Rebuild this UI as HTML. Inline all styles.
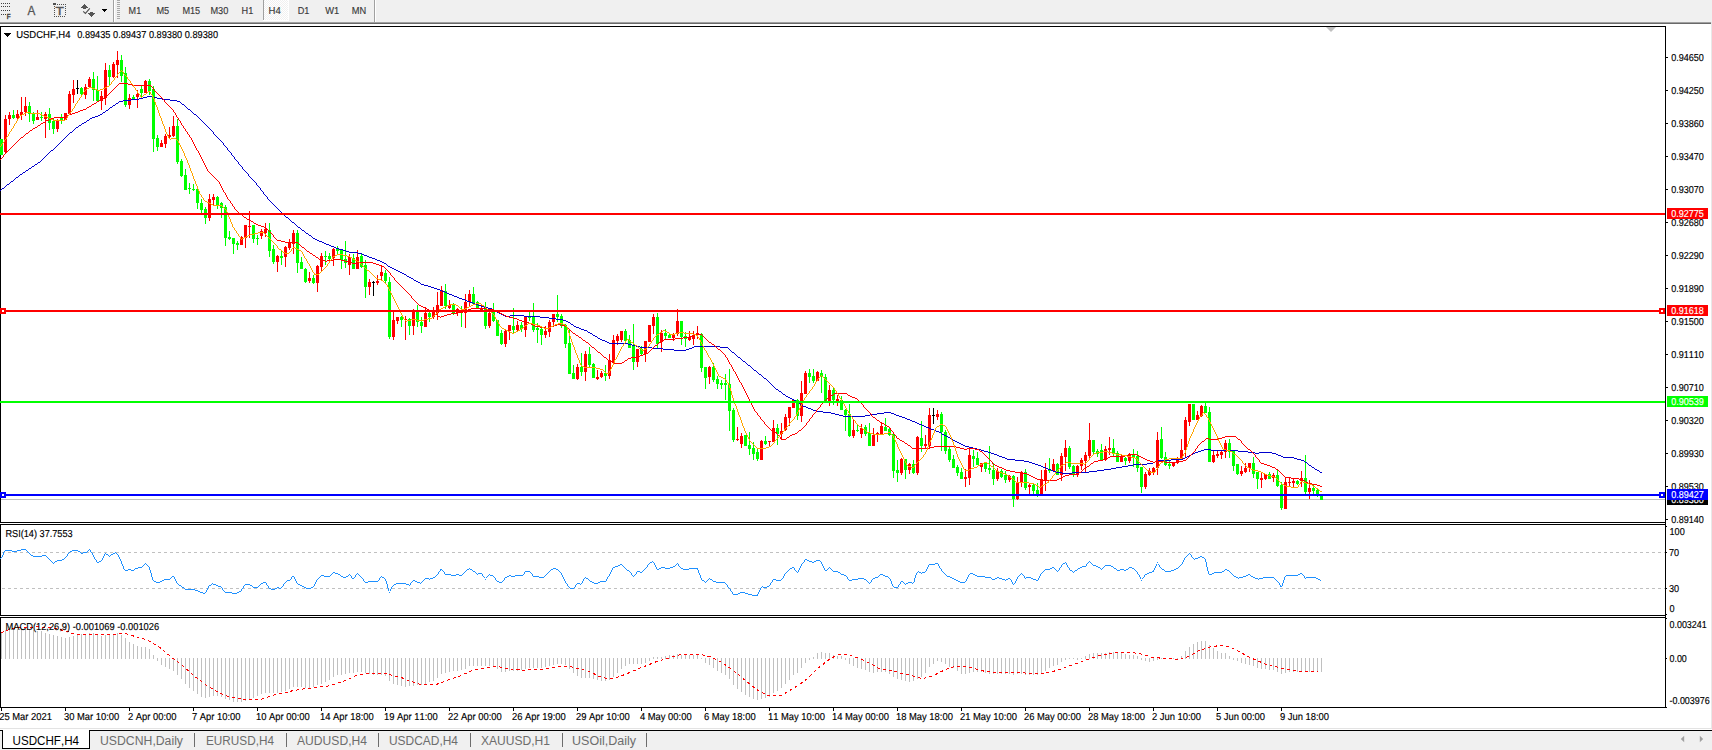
<!DOCTYPE html>
<html><head><meta charset="utf-8"><title>USDCHF,H4</title>
<style>
html,body{margin:0;padding:0;background:#fff;}
body{width:1712px;height:750px;overflow:hidden;}
svg{display:block;font-family:"Liberation Sans",sans-serif;font-kerning:none;}
</style></head><body>
<svg width="1712" height="750" viewBox="0 0 1712 750">
<rect x="0" y="0" width="1712" height="750" fill="#ffffff"/>
<rect x="0" y="0" width="1712" height="22" fill="#f0f0f0"/>
<rect x="0" y="22" width="1712" height="1" fill="#a0a0a0"/>
<rect x="0" y="23" width="1712" height="1" fill="#696969"/>
<rect x="1711" y="22" width="1" height="709" fill="#e8e8e8"/>
<rect x="0" y="26" width="1666" height="1" fill="#000"/>
<rect x="0" y="522" width="1666" height="1" fill="#000"/>
<rect x="0" y="524" width="1666" height="1" fill="#000"/>
<rect x="0" y="615" width="1666" height="1" fill="#000"/>
<rect x="0" y="617" width="1666" height="1" fill="#000"/>
<rect x="0" y="707" width="1667" height="1" fill="#000"/>
<rect x="0" y="26" width="1" height="682" fill="#000"/>
<rect x="0" y="523" width="1" height="1" fill="#fff"/>
<rect x="0" y="616" width="1" height="1" fill="#fff"/>
<rect x="1665" y="26" width="1" height="682" fill="#000"/>
<rect x="1665" y="523" width="1" height="1" fill="#fff"/>
<rect x="1665" y="616" width="1" height="1" fill="#fff"/>
<polygon points="1326,27 1336,27 1331,32" fill="#c0c0c0"/>
<rect x="1" y="499" width="1664" height="1" fill="#c0c0c0"/>
<g fill="#c0c0c0">
<rect x="1" y="633" width="1" height="26"/>
<rect x="5" y="630" width="1" height="29"/>
<rect x="9" y="629" width="1" height="30"/>
<rect x="13" y="629" width="1" height="30"/>
<rect x="17" y="629" width="1" height="30"/>
<rect x="21" y="629" width="1" height="30"/>
<rect x="25" y="629" width="1" height="30"/>
<rect x="29" y="629" width="1" height="30"/>
<rect x="33" y="630" width="1" height="29"/>
<rect x="37" y="631" width="1" height="28"/>
<rect x="41" y="631" width="1" height="28"/>
<rect x="45" y="633" width="1" height="26"/>
<rect x="49" y="634" width="1" height="25"/>
<rect x="53" y="635" width="1" height="24"/>
<rect x="57" y="636" width="1" height="23"/>
<rect x="61" y="637" width="1" height="22"/>
<rect x="65" y="638" width="1" height="21"/>
<rect x="69" y="637" width="1" height="22"/>
<rect x="73" y="636" width="1" height="23"/>
<rect x="77" y="635" width="1" height="24"/>
<rect x="81" y="634" width="1" height="25"/>
<rect x="85" y="634" width="1" height="25"/>
<rect x="89" y="633" width="1" height="26"/>
<rect x="93" y="633" width="1" height="26"/>
<rect x="97" y="635" width="1" height="24"/>
<rect x="101" y="636" width="1" height="23"/>
<rect x="105" y="635" width="1" height="24"/>
<rect x="109" y="634" width="1" height="25"/>
<rect x="113" y="634" width="1" height="25"/>
<rect x="117" y="633" width="1" height="26"/>
<rect x="121" y="635" width="1" height="24"/>
<rect x="125" y="638" width="1" height="21"/>
<rect x="129" y="642" width="1" height="17"/>
<rect x="133" y="644" width="1" height="15"/>
<rect x="137" y="646" width="1" height="13"/>
<rect x="141" y="647" width="1" height="12"/>
<rect x="145" y="647" width="1" height="12"/>
<rect x="149" y="649" width="1" height="10"/>
<rect x="153" y="655" width="1" height="4"/>
<rect x="157" y="658" width="1" height="3"/>
<rect x="161" y="658" width="1" height="7"/>
<rect x="165" y="658" width="1" height="9"/>
<rect x="169" y="658" width="1" height="11"/>
<rect x="173" y="658" width="1" height="13"/>
<rect x="177" y="658" width="1" height="17"/>
<rect x="181" y="658" width="1" height="21"/>
<rect x="185" y="658" width="1" height="26"/>
<rect x="189" y="658" width="1" height="30"/>
<rect x="193" y="658" width="1" height="33"/>
<rect x="197" y="658" width="1" height="36"/>
<rect x="201" y="658" width="1" height="39"/>
<rect x="205" y="658" width="1" height="40"/>
<rect x="209" y="658" width="1" height="39"/>
<rect x="213" y="658" width="1" height="38"/>
<rect x="217" y="658" width="1" height="38"/>
<rect x="221" y="658" width="1" height="39"/>
<rect x="225" y="658" width="1" height="41"/>
<rect x="229" y="658" width="1" height="42"/>
<rect x="233" y="658" width="1" height="44"/>
<rect x="237" y="658" width="1" height="44"/>
<rect x="241" y="658" width="1" height="44"/>
<rect x="245" y="658" width="1" height="43"/>
<rect x="249" y="658" width="1" height="42"/>
<rect x="253" y="658" width="1" height="40"/>
<rect x="257" y="658" width="1" height="38"/>
<rect x="261" y="658" width="1" height="36"/>
<rect x="265" y="658" width="1" height="35"/>
<rect x="269" y="658" width="1" height="35"/>
<rect x="273" y="658" width="1" height="35"/>
<rect x="277" y="658" width="1" height="35"/>
<rect x="281" y="658" width="1" height="34"/>
<rect x="285" y="658" width="1" height="33"/>
<rect x="289" y="658" width="1" height="31"/>
<rect x="293" y="658" width="1" height="29"/>
<rect x="297" y="658" width="1" height="29"/>
<rect x="301" y="658" width="1" height="29"/>
<rect x="305" y="658" width="1" height="30"/>
<rect x="309" y="658" width="1" height="30"/>
<rect x="313" y="658" width="1" height="29"/>
<rect x="317" y="658" width="1" height="27"/>
<rect x="321" y="658" width="1" height="26"/>
<rect x="325" y="658" width="1" height="24"/>
<rect x="329" y="658" width="1" height="22"/>
<rect x="333" y="658" width="1" height="19"/>
<rect x="337" y="658" width="1" height="17"/>
<rect x="341" y="658" width="1" height="17"/>
<rect x="345" y="658" width="1" height="16"/>
<rect x="349" y="658" width="1" height="15"/>
<rect x="353" y="658" width="1" height="15"/>
<rect x="357" y="658" width="1" height="14"/>
<rect x="361" y="658" width="1" height="14"/>
<rect x="365" y="658" width="1" height="15"/>
<rect x="369" y="658" width="1" height="16"/>
<rect x="373" y="658" width="1" height="17"/>
<rect x="377" y="658" width="1" height="17"/>
<rect x="381" y="658" width="1" height="17"/>
<rect x="385" y="658" width="1" height="18"/>
<rect x="389" y="658" width="1" height="23"/>
<rect x="393" y="658" width="1" height="26"/>
<rect x="397" y="658" width="1" height="27"/>
<rect x="401" y="658" width="1" height="28"/>
<rect x="405" y="658" width="1" height="29"/>
<rect x="409" y="658" width="1" height="28"/>
<rect x="413" y="658" width="1" height="28"/>
<rect x="417" y="658" width="1" height="27"/>
<rect x="421" y="658" width="1" height="27"/>
<rect x="425" y="658" width="1" height="26"/>
<rect x="429" y="658" width="1" height="24"/>
<rect x="433" y="658" width="1" height="23"/>
<rect x="437" y="658" width="1" height="20"/>
<rect x="441" y="658" width="1" height="16"/>
<rect x="445" y="658" width="1" height="15"/>
<rect x="449" y="658" width="1" height="14"/>
<rect x="453" y="658" width="1" height="13"/>
<rect x="457" y="658" width="1" height="13"/>
<rect x="461" y="658" width="1" height="12"/>
<rect x="465" y="658" width="1" height="11"/>
<rect x="469" y="658" width="1" height="8"/>
<rect x="473" y="658" width="1" height="8"/>
<rect x="477" y="658" width="1" height="8"/>
<rect x="481" y="658" width="1" height="8"/>
<rect x="485" y="658" width="1" height="8"/>
<rect x="489" y="658" width="1" height="8"/>
<rect x="493" y="658" width="1" height="8"/>
<rect x="497" y="658" width="1" height="11"/>
<rect x="501" y="658" width="1" height="14"/>
<rect x="505" y="658" width="1" height="14"/>
<rect x="509" y="658" width="1" height="13"/>
<rect x="513" y="658" width="1" height="13"/>
<rect x="517" y="658" width="1" height="13"/>
<rect x="521" y="658" width="1" height="12"/>
<rect x="525" y="658" width="1" height="11"/>
<rect x="529" y="658" width="1" height="10"/>
<rect x="533" y="658" width="1" height="10"/>
<rect x="537" y="658" width="1" height="10"/>
<rect x="541" y="658" width="1" height="10"/>
<rect x="545" y="658" width="1" height="9"/>
<rect x="549" y="658" width="1" height="8"/>
<rect x="553" y="658" width="1" height="7"/>
<rect x="557" y="658" width="1" height="6"/>
<rect x="561" y="658" width="1" height="6"/>
<rect x="565" y="658" width="1" height="7"/>
<rect x="569" y="658" width="1" height="11"/>
<rect x="573" y="658" width="1" height="15"/>
<rect x="577" y="658" width="1" height="18"/>
<rect x="581" y="658" width="1" height="20"/>
<rect x="585" y="658" width="1" height="20"/>
<rect x="589" y="658" width="1" height="20"/>
<rect x="593" y="658" width="1" height="21"/>
<rect x="597" y="658" width="1" height="22"/>
<rect x="601" y="658" width="1" height="23"/>
<rect x="605" y="658" width="1" height="23"/>
<rect x="609" y="658" width="1" height="22"/>
<rect x="613" y="658" width="1" height="19"/>
<rect x="617" y="658" width="1" height="15"/>
<rect x="621" y="658" width="1" height="11"/>
<rect x="625" y="658" width="1" height="8"/>
<rect x="629" y="658" width="1" height="6"/>
<rect x="633" y="658" width="1" height="6"/>
<rect x="637" y="658" width="1" height="6"/>
<rect x="641" y="658" width="1" height="6"/>
<rect x="645" y="658" width="1" height="5"/>
<rect x="649" y="658" width="1" height="3"/>
<rect x="653" y="657" width="1" height="2"/>
<rect x="657" y="657" width="1" height="2"/>
<rect x="661" y="657" width="1" height="2"/>
<rect x="665" y="656" width="1" height="3"/>
<rect x="669" y="655" width="1" height="4"/>
<rect x="673" y="655" width="1" height="4"/>
<rect x="677" y="654" width="1" height="5"/>
<rect x="681" y="655" width="1" height="4"/>
<rect x="685" y="655" width="1" height="4"/>
<rect x="689" y="655" width="1" height="4"/>
<rect x="693" y="655" width="1" height="4"/>
<rect x="697" y="655" width="1" height="4"/>
<rect x="701" y="658" width="1" height="1"/>
<rect x="705" y="658" width="1" height="5"/>
<rect x="709" y="658" width="1" height="7"/>
<rect x="713" y="658" width="1" height="10"/>
<rect x="717" y="658" width="1" height="13"/>
<rect x="721" y="658" width="1" height="15"/>
<rect x="725" y="658" width="1" height="17"/>
<rect x="729" y="658" width="1" height="21"/>
<rect x="733" y="658" width="1" height="27"/>
<rect x="737" y="658" width="1" height="31"/>
<rect x="741" y="658" width="1" height="34"/>
<rect x="745" y="658" width="1" height="37"/>
<rect x="749" y="658" width="1" height="39"/>
<rect x="753" y="658" width="1" height="41"/>
<rect x="757" y="658" width="1" height="42"/>
<rect x="761" y="658" width="1" height="41"/>
<rect x="765" y="658" width="1" height="40"/>
<rect x="769" y="658" width="1" height="39"/>
<rect x="773" y="658" width="1" height="35"/>
<rect x="777" y="658" width="1" height="33"/>
<rect x="781" y="658" width="1" height="30"/>
<rect x="785" y="658" width="1" height="26"/>
<rect x="789" y="658" width="1" height="22"/>
<rect x="793" y="658" width="1" height="17"/>
<rect x="797" y="658" width="1" height="15"/>
<rect x="801" y="658" width="1" height="10"/>
<rect x="805" y="658" width="1" height="5"/>
<rect x="809" y="658" width="1" height="2"/>
<rect x="813" y="657" width="1" height="2"/>
<rect x="817" y="653" width="1" height="6"/>
<rect x="821" y="652" width="1" height="7"/>
<rect x="825" y="653" width="1" height="6"/>
<rect x="829" y="653" width="1" height="6"/>
<rect x="833" y="655" width="1" height="4"/>
<rect x="837" y="656" width="1" height="3"/>
<rect x="841" y="656" width="1" height="3"/>
<rect x="845" y="658" width="1" height="2"/>
<rect x="849" y="658" width="1" height="6"/>
<rect x="853" y="658" width="1" height="8"/>
<rect x="857" y="658" width="1" height="10"/>
<rect x="861" y="658" width="1" height="11"/>
<rect x="865" y="658" width="1" height="12"/>
<rect x="869" y="658" width="1" height="14"/>
<rect x="873" y="658" width="1" height="15"/>
<rect x="877" y="658" width="1" height="14"/>
<rect x="881" y="658" width="1" height="14"/>
<rect x="885" y="658" width="1" height="14"/>
<rect x="889" y="658" width="1" height="16"/>
<rect x="893" y="658" width="1" height="19"/>
<rect x="897" y="658" width="1" height="21"/>
<rect x="901" y="658" width="1" height="22"/>
<rect x="905" y="658" width="1" height="23"/>
<rect x="909" y="658" width="1" height="24"/>
<rect x="913" y="658" width="1" height="23"/>
<rect x="917" y="658" width="1" height="21"/>
<rect x="921" y="658" width="1" height="19"/>
<rect x="925" y="658" width="1" height="15"/>
<rect x="929" y="658" width="1" height="9"/>
<rect x="933" y="658" width="1" height="6"/>
<rect x="937" y="658" width="1" height="3"/>
<rect x="941" y="658" width="1" height="4"/>
<rect x="945" y="658" width="1" height="6"/>
<rect x="949" y="658" width="1" height="9"/>
<rect x="953" y="658" width="1" height="10"/>
<rect x="957" y="658" width="1" height="13"/>
<rect x="961" y="658" width="1" height="16"/>
<rect x="965" y="658" width="1" height="16"/>
<rect x="969" y="658" width="1" height="15"/>
<rect x="973" y="658" width="1" height="14"/>
<rect x="977" y="658" width="1" height="14"/>
<rect x="981" y="658" width="1" height="14"/>
<rect x="985" y="658" width="1" height="15"/>
<rect x="989" y="658" width="1" height="16"/>
<rect x="993" y="658" width="1" height="16"/>
<rect x="997" y="658" width="1" height="16"/>
<rect x="1001" y="658" width="1" height="16"/>
<rect x="1005" y="658" width="1" height="16"/>
<rect x="1009" y="658" width="1" height="16"/>
<rect x="1013" y="658" width="1" height="17"/>
<rect x="1017" y="658" width="1" height="16"/>
<rect x="1021" y="658" width="1" height="16"/>
<rect x="1025" y="658" width="1" height="17"/>
<rect x="1029" y="658" width="1" height="17"/>
<rect x="1033" y="658" width="1" height="17"/>
<rect x="1037" y="658" width="1" height="17"/>
<rect x="1041" y="658" width="1" height="16"/>
<rect x="1045" y="658" width="1" height="13"/>
<rect x="1049" y="658" width="1" height="10"/>
<rect x="1053" y="658" width="1" height="8"/>
<rect x="1057" y="658" width="1" height="7"/>
<rect x="1061" y="658" width="1" height="4"/>
<rect x="1065" y="658" width="1" height="2"/>
<rect x="1069" y="658" width="1" height="1"/>
<rect x="1073" y="658" width="1" height="1"/>
<rect x="1077" y="658" width="1" height="2"/>
<rect x="1081" y="658" width="1" height="1"/>
<rect x="1085" y="656" width="1" height="3"/>
<rect x="1089" y="654" width="1" height="5"/>
<rect x="1093" y="653" width="1" height="6"/>
<rect x="1097" y="653" width="1" height="6"/>
<rect x="1101" y="653" width="1" height="6"/>
<rect x="1105" y="653" width="1" height="6"/>
<rect x="1109" y="652" width="1" height="7"/>
<rect x="1113" y="652" width="1" height="7"/>
<rect x="1117" y="652" width="1" height="7"/>
<rect x="1121" y="653" width="1" height="6"/>
<rect x="1125" y="654" width="1" height="5"/>
<rect x="1129" y="655" width="1" height="4"/>
<rect x="1133" y="655" width="1" height="4"/>
<rect x="1137" y="656" width="1" height="3"/>
<rect x="1141" y="658" width="1" height="2"/>
<rect x="1145" y="658" width="1" height="3"/>
<rect x="1149" y="658" width="1" height="4"/>
<rect x="1153" y="658" width="1" height="3"/>
<rect x="1157" y="658" width="1" height="2"/>
<rect x="1161" y="658" width="1" height="1"/>
<rect x="1165" y="658" width="1" height="1"/>
<rect x="1169" y="658" width="1" height="1"/>
<rect x="1173" y="658" width="1" height="1"/>
<rect x="1177" y="658" width="1" height="1"/>
<rect x="1181" y="656" width="1" height="3"/>
<rect x="1185" y="651" width="1" height="8"/>
<rect x="1189" y="647" width="1" height="12"/>
<rect x="1193" y="644" width="1" height="15"/>
<rect x="1197" y="642" width="1" height="17"/>
<rect x="1201" y="641" width="1" height="18"/>
<rect x="1205" y="641" width="1" height="18"/>
<rect x="1209" y="645" width="1" height="14"/>
<rect x="1213" y="648" width="1" height="11"/>
<rect x="1217" y="651" width="1" height="8"/>
<rect x="1221" y="653" width="1" height="6"/>
<rect x="1225" y="653" width="1" height="6"/>
<rect x="1229" y="656" width="1" height="3"/>
<rect x="1233" y="658" width="1" height="2"/>
<rect x="1237" y="658" width="1" height="3"/>
<rect x="1241" y="658" width="1" height="5"/>
<rect x="1245" y="658" width="1" height="6"/>
<rect x="1249" y="658" width="1" height="7"/>
<rect x="1253" y="658" width="1" height="8"/>
<rect x="1257" y="658" width="1" height="10"/>
<rect x="1261" y="658" width="1" height="11"/>
<rect x="1265" y="658" width="1" height="11"/>
<rect x="1269" y="658" width="1" height="12"/>
<rect x="1273" y="658" width="1" height="12"/>
<rect x="1277" y="658" width="1" height="14"/>
<rect x="1281" y="658" width="1" height="16"/>
<rect x="1285" y="658" width="1" height="15"/>
<rect x="1289" y="658" width="1" height="14"/>
<rect x="1293" y="658" width="1" height="14"/>
<rect x="1297" y="658" width="1" height="14"/>
<rect x="1301" y="658" width="1" height="14"/>
<rect x="1305" y="658" width="1" height="14"/>
<rect x="1309" y="658" width="1" height="14"/>
<rect x="1313" y="658" width="1" height="14"/>
<rect x="1317" y="658" width="1" height="14"/>
<rect x="1321" y="658" width="1" height="14"/>
</g>
<polyline points="1.0,632.9 7.9,629.9 19.9,627.3 39.7,626.9 51.6,627.9 67.5,631.3 73.5,633.9 89.4,634.5 109.2,634.5 125.1,633.3 135.0,636.5 147.0,639.8 158.9,646.8 170.8,656.7 182.7,665.7 194.6,676.2 206.5,685.5 218.5,692.5 230.4,697.4 242.3,699.0 262.1,699.0 272.1,695.4 282.0,693.5 291.9,690.9 303.9,688.9 315.8,687.5 327.7,686.1 338.6,682.9 343.0,681.5 355.9,675.6 367.8,673.2 387.7,673.2 393.6,676.2 401.6,677.6 409.5,680.9 419.4,684.1 427.4,685.1 437.3,684.1 447.2,680.2 459.2,676.2 471.1,671.0 483.0,668.2 494.9,666.3 500.9,667.2 510.8,669.0 522.7,670.2 538.6,669.6 548.5,668.2 558.5,666.3 570.4,666.3 574.3,668.2 582.3,669.6 590.2,671.6 598.2,676.2 606.1,678.2 614.1,678.2 622.0,675.6 631.9,671.6 639.9,668.2 649.8,664.3 657.8,661.1 667.7,658.3 678.6,655.3 680.0,654.7 699.9,654.3 709.8,656.7 721.7,662.3 733.6,670.6 745.5,680.6 757.5,690.1 769.4,696.0 781.3,695.4 793.2,688.5 805.1,680.6 817.0,669.0 828.9,659.7 836.9,655.1 844.8,654.3 854.8,656.7 866.7,661.7 878.6,668.2 890.5,670.2 902.4,673.6 914.3,676.2 922.3,678.6 932.2,676.2 944.1,670.2 954.1,666.6 966.0,666.6 975.9,669.0 985.8,671.6 997.8,672.6 1018.6,672.6 1020.0,672.6 1031.9,673.6 1045.8,673.2 1057.7,670.2 1069.6,665.7 1081.6,661.7 1089.5,658.7 1099.4,655.7 1109.4,653.7 1119.3,652.4 1131.2,652.4 1143.1,654.3 1151.1,657.3 1163.0,658.3 1176.9,659.3 1188.8,656.7 1198.7,650.8 1208.7,647.2 1220.6,645.4 1228.5,646.4 1238.5,651.2 1248.4,656.7 1258.3,661.1 1268.2,665.3 1278.2,667.2 1286.1,669.6 1298.0,671.0 1317.9,671.2" fill="none" stroke="#ff0000" stroke-width="1" stroke-dasharray="3,3" shape-rendering="crispEdges"/>
<line x1="2" y1="552.5" x2="1665" y2="552.5" stroke="#c0c0c0" stroke-width="1" stroke-dasharray="3,3" shape-rendering="crispEdges"/>
<line x1="2" y1="588.5" x2="1665" y2="588.5" stroke="#c0c0c0" stroke-width="1" stroke-dasharray="3,3" shape-rendering="crispEdges"/>
<path d="M0 558v1h1v-1zM1 557v1h1v-1zM2 555v2h1v-2zM3 552v3h1v-3zM4 551v1h1v-1zM5 550v1h1v-1zM6 550v1h1v-1zM7 550v1h1v-1zM8 550v1h1v-1zM9 550v1h1v-1zM10 550v1h1v-1zM11 550v1h1v-1zM12 551v1h1v-1zM13 551v1h1v-1zM14 551v1h1v-1zM15 551v1h1v-1zM16 551v1h1v-1zM17 550v1h1v-1zM18 550v1h1v-1zM19 550v1h1v-1zM20 550v1h1v-1zM21 549v1h1v-1zM22 549v1h1v-1zM23 549v1h1v-1zM24 549v1h1v-1zM25 549v1h1v-1zM26 550v1h1v-1zM27 551v1h1v-1zM28 552v1h1v-1zM29 553v1h1v-1zM30 554v1h1v-1zM31 555v1h1v-1zM32 555v1h1v-1zM33 556v1h1v-1zM34 556v1h1v-1zM35 556v1h1v-1zM36 556v1h1v-1zM37 556v1h1v-1zM38 556v1h1v-1zM39 556v1h1v-1zM40 556v1h1v-1zM41 556v1h1v-1zM42 555v1h1v-1zM43 555v1h1v-1zM44 555v1h1v-1zM45 555v1h1v-1zM46 556v1h1v-1zM47 557v1h1v-1zM48 558v1h1v-1zM49 559v1h1v-1zM50 560v1h1v-1zM51 561v1h1v-1zM52 562v1h1v-1zM53 563v1h1v-1zM54 562v1h1v-1zM55 561v1h1v-1zM56 561v1h1v-1zM57 560v1h1v-1zM58 560v1h1v-1zM59 560v1h1v-1zM60 560v1h1v-1zM61 560v1h1v-1zM62 559v1h1v-1zM63 559v1h1v-1zM64 558v1h1v-1zM65 557v1h1v-1zM66 556v1h1v-1zM67 554v2h1v-2zM68 553v1h1v-1zM69 552v1h1v-1zM70 551v1h1v-1zM71 551v1h1v-1zM72 550v1h1v-1zM73 550v1h1v-1zM74 550v1h1v-1zM75 550v1h1v-1zM76 550v1h1v-1zM77 550v1h1v-1zM78 551v1h1v-1zM79 551v1h1v-1zM80 552v1h1v-1zM81 553v1h1v-1zM82 553v1h1v-1zM83 552v1h1v-1zM84 552v1h1v-1zM85 552v1h1v-1zM86 552v1h1v-1zM87 551v1h1v-1zM88 550v1h1v-1zM89 549v1h1v-1zM90 550v2h1v-2zM91 552v1h1v-1zM92 553v2h1v-2zM93 555v2h1v-2zM94 557v2h1v-2zM95 559v1h1v-1zM96 560v2h1v-2zM97 562v1h1v-1zM98 562v1h1v-1zM99 561v1h1v-1zM100 561v1h1v-1zM101 560v1h1v-1zM102 558v2h1v-2zM103 556v2h1v-2zM104 554v2h1v-2zM105 553v1h1v-1zM106 554v1h1v-1zM107 554v1h1v-1zM108 555v1h1v-1zM109 556v1h1v-1zM110 555v1h1v-1zM111 554v1h1v-1zM112 554v1h1v-1zM113 553v1h1v-1zM114 553v1h1v-1zM115 552v1h1v-1zM116 553v1h1v-1zM117 554v1h1v-1zM118 555v2h1v-2zM119 557v2h1v-2zM120 559v2h1v-2zM121 561v3h1v-3zM122 564v2h1v-2zM123 566v3h1v-3zM124 569v1h1v-1zM125 570v1h1v-1zM126 570v1h1v-1zM127 570v1h1v-1zM128 569v1h1v-1zM129 569v1h1v-1zM130 569v1h1v-1zM131 570v1h1v-1zM132 570v1h1v-1zM133 570v1h1v-1zM134 569v1h1v-1zM135 568v1h1v-1zM136 568v1h1v-1zM137 568v1h1v-1zM138 567v1h1v-1zM139 567v1h1v-1zM140 567v1h1v-1zM141 567v1h1v-1zM142 566v1h1v-1zM143 565v1h1v-1zM144 564v1h1v-1zM145 563v1h1v-1zM146 564v1h1v-1zM147 565v1h1v-1zM148 566v1h1v-1zM149 567v3h1v-3zM150 570v3h1v-3zM151 573v4h1v-4zM152 577v3h1v-3zM153 580v1h1v-1zM154 581v1h1v-1zM155 581v1h1v-1zM156 582v1h1v-1zM157 582v1h1v-1zM158 582v1h1v-1zM159 582v1h1v-1zM160 581v1h1v-1zM161 581v1h1v-1zM162 580v1h1v-1zM163 580v1h1v-1zM164 579v1h1v-1zM165 579v1h1v-1zM166 579v1h1v-1zM167 579v1h1v-1zM168 579v1h1v-1zM169 579v1h1v-1zM170 578v1h1v-1zM171 577v1h1v-1zM172 576v1h1v-1zM173 576v1h1v-1zM174 577v2h1v-2zM175 579v2h1v-2zM176 581v2h1v-2zM177 583v1h1v-1zM178 584v1h1v-1zM179 585v1h1v-1zM180 585v1h1v-1zM181 586v1h1v-1zM182 587v1h1v-1zM183 587v1h1v-1zM184 588v1h1v-1zM185 589v1h1v-1zM186 589v1h1v-1zM187 589v1h1v-1zM188 589v1h1v-1zM189 589v1h1v-1zM190 589v1h1v-1zM191 589v1h1v-1zM192 589v1h1v-1zM193 589v1h1v-1zM194 589v1h1v-1zM195 590v1h1v-1zM196 590v1h1v-1zM197 590v1h1v-1zM198 591v1h1v-1zM199 591v1h1v-1zM200 592v1h1v-1zM201 592v1h1v-1zM202 592v1h1v-1zM203 593v1h1v-1zM204 593v1h1v-1zM205 592v1h1v-1zM206 590v2h1v-2zM207 588v2h1v-2zM208 586v2h1v-2zM209 585v1h1v-1zM210 585v1h1v-1zM211 584v1h1v-1zM212 583v1h1v-1zM213 584v1h1v-1zM214 584v1h1v-1zM215 584v1h1v-1zM216 585v1h1v-1zM217 585v1h1v-1zM218 586v1h1v-1zM219 586v1h1v-1zM220 586v1h1v-1zM221 587v1h1v-1zM222 588v2h1v-2zM223 590v1h1v-1zM224 591v1h1v-1zM225 592v1h1v-1zM226 592v1h1v-1zM227 592v1h1v-1zM228 592v1h1v-1zM229 592v1h1v-1zM230 592v1h1v-1zM231 592v1h1v-1zM232 593v1h1v-1zM233 593v1h1v-1zM234 593v1h1v-1zM235 593v1h1v-1zM236 593v1h1v-1zM237 592v1h1v-1zM238 592v1h1v-1zM239 591v1h1v-1zM240 591v1h1v-1zM241 589v2h1v-2zM242 588v1h1v-1zM243 586v2h1v-2zM244 585v1h1v-1zM245 584v1h1v-1zM246 584v1h1v-1zM247 584v1h1v-1zM248 584v1h1v-1zM249 584v1h1v-1zM250 585v1h1v-1zM251 585v1h1v-1zM252 586v1h1v-1zM253 587v1h1v-1zM254 587v1h1v-1zM255 587v1h1v-1zM256 587v1h1v-1zM257 587v1h1v-1zM258 586v1h1v-1zM259 585v1h1v-1zM260 584v1h1v-1zM261 583v1h1v-1zM262 583v1h1v-1zM263 582v1h1v-1zM264 582v1h1v-1zM265 582v1h1v-1zM266 583v2h1v-2zM267 585v1h1v-1zM268 586v2h1v-2zM269 588v1h1v-1zM270 588v1h1v-1zM271 589v1h1v-1zM272 589v1h1v-1zM273 589v1h1v-1zM274 589v1h1v-1zM275 588v1h1v-1zM276 588v1h1v-1zM277 587v1h1v-1zM278 587v1h1v-1zM279 588v1h1v-1zM280 588v1h1v-1zM281 587v1h1v-1zM282 586v1h1v-1zM283 584v2h1v-2zM284 583v1h1v-1zM285 582v1h1v-1zM286 581v1h1v-1zM287 580v1h1v-1zM288 580v1h1v-1zM289 580v1h1v-1zM290 579v1h1v-1zM291 577v2h1v-2zM292 576v1h1v-1zM293 576v1h1v-1zM294 577v2h1v-2zM295 579v2h1v-2zM296 581v2h1v-2zM297 583v1h1v-1zM298 584v1h1v-1zM299 584v1h1v-1zM300 585v1h1v-1zM301 585v1h1v-1zM302 586v1h1v-1zM303 586v1h1v-1zM304 587v1h1v-1zM305 587v1h1v-1zM306 588v1h1v-1zM307 588v1h1v-1zM308 588v1h1v-1zM309 588v1h1v-1zM310 588v1h1v-1zM311 587v1h1v-1zM312 587v1h1v-1zM313 586v1h1v-1zM314 584v2h1v-2zM315 582v2h1v-2zM316 580v2h1v-2zM317 579v1h1v-1zM318 578v1h1v-1zM319 577v1h1v-1zM320 576v1h1v-1zM321 575v1h1v-1zM322 575v1h1v-1zM323 575v1h1v-1zM324 576v1h1v-1zM325 576v1h1v-1zM326 576v1h1v-1zM327 576v1h1v-1zM328 576v1h1v-1zM329 576v1h1v-1zM330 575v1h1v-1zM331 574v1h1v-1zM332 573v1h1v-1zM333 572v1h1v-1zM334 572v1h1v-1zM335 573v1h1v-1zM336 573v1h1v-1zM337 573v1h1v-1zM338 574v1h1v-1zM339 574v1h1v-1zM340 575v1h1v-1zM341 576v1h1v-1zM342 576v1h1v-1zM343 577v1h1v-1zM344 577v1h1v-1zM345 577v1h1v-1zM346 576v1h1v-1zM347 576v1h1v-1zM348 575v1h1v-1zM349 574v1h1v-1zM350 575v1h1v-1zM351 576v2h1v-2zM352 578v1h1v-1zM353 578v1h1v-1zM354 577v1h1v-1zM355 575v2h1v-2zM356 574v1h1v-1zM357 573v1h1v-1zM358 574v1h1v-1zM359 575v1h1v-1zM360 576v1h1v-1zM361 577v1h1v-1zM362 578v1h1v-1zM363 579v2h1v-2zM364 581v1h1v-1zM365 582v1h1v-1zM366 582v1h1v-1zM367 582v1h1v-1zM368 581v1h1v-1zM369 581v1h1v-1zM370 581v1h1v-1zM371 581v1h1v-1zM372 581v1h1v-1zM373 581v1h1v-1zM374 581v1h1v-1zM375 581v1h1v-1zM376 581v1h1v-1zM377 581v1h1v-1zM378 580v1h1v-1zM379 578v2h1v-2zM380 577v1h1v-1zM381 576v1h1v-1zM382 577v1h1v-1zM383 577v1h1v-1zM384 578v1h1v-1zM385 579v2h1v-2zM386 581v3h1v-3zM387 584v4h1v-4zM388 588v3h1v-3zM389 592v1h1v-1zM390 589v2h1v-2zM391 587v2h1v-2zM392 586v1h1v-1zM393 585v1h1v-1zM394 584v1h1v-1zM395 584v1h1v-1zM396 583v1h1v-1zM397 583v1h1v-1zM398 583v1h1v-1zM399 583v1h1v-1zM400 583v1h1v-1zM401 583v1h1v-1zM402 583v1h1v-1zM403 583v1h1v-1zM404 583v1h1v-1zM405 583v1h1v-1zM406 584v1h1v-1zM407 584v1h1v-1zM408 584v1h1v-1zM409 585v1h1v-1zM410 583v2h1v-2zM411 582v1h1v-1zM412 581v1h1v-1zM413 580v1h1v-1zM414 580v1h1v-1zM415 581v1h1v-1zM416 581v1h1v-1zM417 582v1h1v-1zM418 582v1h1v-1zM419 582v1h1v-1zM420 583v1h1v-1zM421 582v1h1v-1zM422 581v1h1v-1zM423 580v1h1v-1zM424 579v1h1v-1zM425 578v1h1v-1zM426 578v1h1v-1zM427 578v1h1v-1zM428 578v1h1v-1zM429 579v1h1v-1zM430 578v1h1v-1zM431 578v1h1v-1zM432 578v1h1v-1zM433 577v1h1v-1zM434 577v1h1v-1zM435 576v1h1v-1zM436 575v1h1v-1zM437 574v1h1v-1zM438 572v2h1v-2zM439 571v1h1v-1zM440 569v2h1v-2zM441 569v1h1v-1zM442 570v1h1v-1zM443 571v1h1v-1zM444 572v2h1v-2zM445 574v1h1v-1zM446 574v1h1v-1zM447 574v1h1v-1zM448 574v1h1v-1zM449 574v1h1v-1zM450 574v1h1v-1zM451 575v1h1v-1zM452 575v1h1v-1zM453 575v1h1v-1zM454 575v1h1v-1zM455 575v1h1v-1zM456 574v1h1v-1zM457 574v1h1v-1zM458 574v1h1v-1zM459 575v1h1v-1zM460 575v1h1v-1zM461 575v1h1v-1zM462 574v1h1v-1zM463 573v1h1v-1zM464 572v1h1v-1zM465 571v1h1v-1zM466 570v1h1v-1zM467 569v1h1v-1zM468 569v1h1v-1zM469 568v1h1v-1zM470 569v1h1v-1zM471 569v1h1v-1zM472 570v1h1v-1zM473 571v1h1v-1zM474 571v1h1v-1zM475 572v1h1v-1zM476 573v1h1v-1zM477 574v1h1v-1zM478 573v1h1v-1zM479 573v1h1v-1zM480 573v1h1v-1zM481 573v1h1v-1zM482 574v2h1v-2zM483 576v1h1v-1zM484 577v1h1v-1zM485 579v1h1v-1zM486 577v1h1v-1zM487 576v1h1v-1zM488 575v1h1v-1zM489 574v1h1v-1zM490 575v1h1v-1zM491 575v1h1v-1zM492 575v1h1v-1zM493 576v1h1v-1zM494 577v1h1v-1zM495 578v2h1v-2zM496 580v1h1v-1zM497 581v1h1v-1zM498 581v1h1v-1zM499 582v1h1v-1zM500 582v1h1v-1zM501 582v1h1v-1zM502 581v1h1v-1zM503 580v1h1v-1zM504 578v2h1v-2zM505 577v1h1v-1zM506 577v1h1v-1zM507 576v1h1v-1zM508 576v1h1v-1zM509 575v1h1v-1zM510 575v1h1v-1zM511 576v1h1v-1zM512 576v1h1v-1zM513 576v1h1v-1zM514 576v1h1v-1zM515 575v1h1v-1zM516 575v1h1v-1zM517 575v1h1v-1zM518 575v1h1v-1zM519 575v1h1v-1zM520 575v1h1v-1zM521 575v1h1v-1zM522 575v1h1v-1zM523 574v1h1v-1zM524 572v2h1v-2zM525 571v1h1v-1zM526 571v1h1v-1zM527 571v1h1v-1zM528 571v1h1v-1zM529 571v1h1v-1zM530 572v1h1v-1zM531 573v1h1v-1zM532 574v2h1v-2zM533 576v1h1v-1zM534 576v1h1v-1zM535 576v1h1v-1zM536 576v1h1v-1zM537 576v1h1v-1zM538 576v1h1v-1zM539 577v1h1v-1zM540 577v1h1v-1zM541 577v1h1v-1zM542 577v1h1v-1zM543 577v1h1v-1zM544 576v1h1v-1zM545 575v1h1v-1zM546 574v1h1v-1zM547 573v1h1v-1zM548 572v1h1v-1zM549 571v1h1v-1zM550 570v1h1v-1zM551 569v1h1v-1zM552 569v1h1v-1zM553 568v1h1v-1zM554 568v1h1v-1zM555 568v1h1v-1zM556 569v1h1v-1zM557 569v1h1v-1zM558 570v1h1v-1zM559 571v1h1v-1zM560 572v1h1v-1zM561 573v2h1v-2zM562 575v2h1v-2zM563 577v2h1v-2zM564 579v2h1v-2zM565 581v2h1v-2zM566 583v1h1v-1zM567 584v2h1v-2zM568 586v1h1v-1zM569 587v1h1v-1zM570 588v1h1v-1zM571 588v1h1v-1zM572 588v1h1v-1zM573 588v1h1v-1zM574 587v1h1v-1zM575 585v2h1v-2zM576 584v1h1v-1zM577 583v1h1v-1zM578 583v1h1v-1zM579 583v1h1v-1zM580 584v1h1v-1zM581 583v1h1v-1zM582 581v2h1v-2zM583 579v2h1v-2zM584 578v1h1v-1zM585 577v1h1v-1zM586 578v1h1v-1zM587 578v1h1v-1zM588 579v1h1v-1zM589 580v1h1v-1zM590 581v1h1v-1zM591 581v1h1v-1zM592 582v1h1v-1zM593 582v1h1v-1zM594 583v1h1v-1zM595 583v1h1v-1zM596 583v1h1v-1zM597 583v1h1v-1zM598 582v1h1v-1zM599 582v1h1v-1zM600 581v1h1v-1zM601 581v1h1v-1zM602 581v1h1v-1zM603 581v1h1v-1zM604 581v1h1v-1zM605 581v1h1v-1zM606 579v2h1v-2zM607 577v2h1v-2zM608 576v1h1v-1zM609 574v2h1v-2zM610 572v2h1v-2zM611 570v2h1v-2zM612 568v2h1v-2zM613 567v1h1v-1zM614 567v1h1v-1zM615 566v1h1v-1zM616 566v1h1v-1zM617 566v1h1v-1zM618 565v1h1v-1zM619 565v1h1v-1zM620 564v1h1v-1zM621 564v1h1v-1zM622 565v1h1v-1zM623 566v1h1v-1zM624 567v1h1v-1zM625 568v1h1v-1zM626 569v1h1v-1zM627 570v1h1v-1zM628 570v1h1v-1zM629 571v1h1v-1zM630 572v1h1v-1zM631 573v2h1v-2zM632 575v1h1v-1zM633 576v1h1v-1zM634 575v1h1v-1zM635 574v1h1v-1zM636 572v2h1v-2zM637 571v1h1v-1zM638 571v1h1v-1zM639 571v1h1v-1zM640 572v1h1v-1zM641 572v1h1v-1zM642 571v1h1v-1zM643 570v1h1v-1zM644 569v1h1v-1zM645 568v1h1v-1zM646 567v1h1v-1zM647 565v2h1v-2zM648 564v1h1v-1zM649 563v1h1v-1zM650 562v1h1v-1zM651 562v1h1v-1zM652 561v1h1v-1zM653 562v1h1v-1zM654 563v2h1v-2zM655 565v2h1v-2zM656 567v2h1v-2zM657 569v1h1v-1zM658 569v1h1v-1zM659 568v1h1v-1zM660 568v1h1v-1zM661 567v1h1v-1zM662 567v1h1v-1zM663 567v1h1v-1zM664 567v1h1v-1zM665 568v1h1v-1zM666 568v1h1v-1zM667 568v1h1v-1zM668 568v1h1v-1zM669 568v1h1v-1zM670 567v1h1v-1zM671 567v1h1v-1zM672 567v1h1v-1zM673 566v1h1v-1zM674 566v1h1v-1zM675 565v1h1v-1zM676 564v1h1v-1zM677 563v1h1v-1zM678 564v2h1v-2zM679 566v1h1v-1zM680 567v1h1v-1zM681 568v1h1v-1zM682 568v1h1v-1zM683 569v1h1v-1zM684 569v1h1v-1zM685 569v1h1v-1zM686 569v1h1v-1zM687 569v1h1v-1zM688 569v1h1v-1zM689 568v1h1v-1zM690 568v1h1v-1zM691 568v1h1v-1zM692 568v1h1v-1zM693 568v1h1v-1zM694 568v1h1v-1zM695 568v1h1v-1zM696 568v1h1v-1zM697 568v2h1v-2zM698 570v3h1v-3zM699 573v2h1v-2zM700 575v3h1v-3zM701 578v2h1v-2zM702 580v1h1v-1zM703 580v1h1v-1zM704 581v1h1v-1zM705 582v1h1v-1zM706 581v1h1v-1zM707 580v1h1v-1zM708 579v1h1v-1zM709 578v1h1v-1zM710 579v1h1v-1zM711 579v1h1v-1zM712 580v1h1v-1zM713 581v1h1v-1zM714 581v1h1v-1zM715 581v1h1v-1zM716 582v1h1v-1zM717 582v1h1v-1zM718 582v1h1v-1zM719 582v1h1v-1zM720 582v1h1v-1zM721 582v1h1v-1zM722 582v1h1v-1zM723 582v1h1v-1zM724 582v1h1v-1zM725 583v1h1v-1zM726 584v1h1v-1zM727 585v2h1v-2zM728 587v1h1v-1zM729 588v1h1v-1zM730 589v2h1v-2zM731 591v1h1v-1zM732 592v2h1v-2zM733 594v1h1v-1zM734 594v1h1v-1zM735 594v1h1v-1zM736 594v1h1v-1zM737 594v1h1v-1zM738 593v1h1v-1zM739 593v1h1v-1zM740 592v1h1v-1zM741 592v1h1v-1zM742 592v1h1v-1zM743 592v1h1v-1zM744 592v1h1v-1zM745 593v1h1v-1zM746 593v1h1v-1zM747 593v1h1v-1zM748 594v1h1v-1zM749 594v1h1v-1zM750 594v1h1v-1zM751 594v1h1v-1zM752 595v1h1v-1zM753 595v1h1v-1zM754 595v1h1v-1zM755 595v1h1v-1zM756 595v1h1v-1zM757 594v2h1v-2zM758 592v2h1v-2zM759 590v2h1v-2zM760 588v2h1v-2zM761 587v1h1v-1zM762 586v1h1v-1zM763 587v1h1v-1zM764 587v1h1v-1zM765 587v1h1v-1zM766 587v1h1v-1zM767 586v1h1v-1zM768 586v1h1v-1zM769 585v1h1v-1zM770 583v2h1v-2zM771 582v1h1v-1zM772 580v2h1v-2zM773 579v1h1v-1zM774 579v1h1v-1zM775 579v1h1v-1zM776 580v1h1v-1zM777 580v1h1v-1zM778 580v1h1v-1zM779 580v1h1v-1zM780 580v1h1v-1zM781 579v1h1v-1zM782 578v1h1v-1zM783 576v2h1v-2zM784 574v2h1v-2zM785 573v1h1v-1zM786 572v1h1v-1zM787 571v1h1v-1zM788 570v1h1v-1zM789 569v1h1v-1zM790 568v1h1v-1zM791 568v1h1v-1zM792 567v1h1v-1zM793 567v1h1v-1zM794 568v2h1v-2zM795 570v1h1v-1zM796 571v1h1v-1zM797 572v1h1v-1zM798 570v2h1v-2zM799 568v2h1v-2zM800 566v2h1v-2zM801 564v2h1v-2zM802 563v1h1v-1zM803 562v1h1v-1zM804 560v2h1v-2zM805 559v1h1v-1zM806 559v1h1v-1zM807 560v1h1v-1zM808 560v1h1v-1zM809 561v1h1v-1zM810 561v1h1v-1zM811 561v1h1v-1zM812 562v1h1v-1zM813 562v1h1v-1zM814 561v1h1v-1zM815 561v1h1v-1zM816 560v1h1v-1zM817 560v1h1v-1zM818 560v1h1v-1zM819 560v1h1v-1zM820 561v1h1v-1zM821 562v2h1v-2zM822 564v2h1v-2zM823 566v2h1v-2zM824 568v2h1v-2zM825 570v1h1v-1zM826 570v1h1v-1zM827 569v1h1v-1zM828 568v1h1v-1zM829 567v1h1v-1zM830 568v1h1v-1zM831 569v1h1v-1zM832 570v1h1v-1zM833 571v1h1v-1zM834 571v1h1v-1zM835 571v1h1v-1zM836 571v1h1v-1zM837 571v1h1v-1zM838 572v1h1v-1zM839 572v1h1v-1zM840 573v1h1v-1zM841 574v1h1v-1zM842 574v1h1v-1zM843 574v1h1v-1zM844 575v1h1v-1zM845 575v1h1v-1zM846 576v1h1v-1zM847 577v2h1v-2zM848 579v1h1v-1zM849 580v1h1v-1zM850 580v1h1v-1zM851 580v1h1v-1zM852 579v1h1v-1zM853 579v1h1v-1zM854 579v1h1v-1zM855 579v1h1v-1zM856 579v1h1v-1zM857 579v1h1v-1zM858 578v1h1v-1zM859 578v1h1v-1zM860 578v1h1v-1zM861 578v1h1v-1zM862 578v1h1v-1zM863 578v1h1v-1zM864 579v1h1v-1zM865 579v1h1v-1zM866 580v1h1v-1zM867 581v1h1v-1zM868 582v1h1v-1zM869 583v1h1v-1zM870 582v1h1v-1zM871 580v2h1v-2zM872 579v1h1v-1zM873 578v1h1v-1zM874 578v1h1v-1zM875 577v1h1v-1zM876 577v1h1v-1zM877 577v1h1v-1zM878 576v1h1v-1zM879 575v1h1v-1zM880 574v1h1v-1zM881 574v1h1v-1zM882 574v1h1v-1zM883 575v1h1v-1zM884 575v1h1v-1zM885 576v1h1v-1zM886 576v1h1v-1zM887 576v1h1v-1zM888 577v1h1v-1zM889 578v1h1v-1zM890 579v2h1v-2zM891 581v3h1v-3zM892 584v2h1v-2zM893 586v1h1v-1zM894 587v1h1v-1zM895 587v1h1v-1zM896 587v1h1v-1zM897 587v1h1v-1zM898 585v2h1v-2zM899 584v1h1v-1zM900 582v2h1v-2zM901 581v1h1v-1zM902 581v1h1v-1zM903 582v1h1v-1zM904 583v1h1v-1zM905 584v1h1v-1zM906 583v1h1v-1zM907 583v1h1v-1zM908 582v1h1v-1zM909 582v1h1v-1zM910 582v1h1v-1zM911 582v1h1v-1zM912 583v1h1v-1zM913 582v1h1v-1zM914 578v4h1v-4zM915 575v3h1v-3zM916 573v2h1v-2zM917 572v1h1v-1zM918 571v1h1v-1zM919 572v1h1v-1zM920 572v1h1v-1zM921 573v1h1v-1zM922 572v1h1v-1zM923 572v1h1v-1zM924 572v1h1v-1zM925 571v1h1v-1zM926 569v2h1v-2zM927 567v2h1v-2zM928 565v2h1v-2zM929 564v1h1v-1zM930 564v1h1v-1zM931 564v1h1v-1zM932 564v1h1v-1zM933 564v1h1v-1zM934 564v1h1v-1zM935 563v1h1v-1zM936 563v1h1v-1zM937 563v1h1v-1zM938 564v2h1v-2zM939 566v2h1v-2zM940 568v1h1v-1zM941 569v2h1v-2zM942 571v1h1v-1zM943 572v1h1v-1zM944 573v1h1v-1zM945 574v1h1v-1zM946 575v1h1v-1zM947 576v1h1v-1zM948 576v1h1v-1zM949 576v1h1v-1zM950 577v1h1v-1zM951 577v1h1v-1zM952 578v1h1v-1zM953 578v1h1v-1zM954 579v1h1v-1zM955 579v1h1v-1zM956 580v1h1v-1zM957 580v1h1v-1zM958 581v1h1v-1zM959 581v1h1v-1zM960 582v1h1v-1zM961 582v1h1v-1zM962 582v1h1v-1zM963 582v1h1v-1zM964 582v1h1v-1zM965 581v1h1v-1zM966 579v2h1v-2zM967 577v2h1v-2zM968 575v2h1v-2zM969 574v1h1v-1zM970 573v1h1v-1zM971 573v1h1v-1zM972 573v1h1v-1zM973 574v1h1v-1zM974 574v1h1v-1zM975 575v1h1v-1zM976 575v1h1v-1zM977 576v1h1v-1zM978 576v1h1v-1zM979 576v1h1v-1zM980 576v1h1v-1zM981 576v1h1v-1zM982 576v1h1v-1zM983 576v1h1v-1zM984 576v1h1v-1zM985 577v1h1v-1zM986 577v1h1v-1zM987 577v1h1v-1zM988 577v1h1v-1zM989 577v1h1v-1zM990 577v1h1v-1zM991 578v1h1v-1zM992 579v1h1v-1zM993 579v1h1v-1zM994 579v1h1v-1zM995 578v1h1v-1zM996 578v1h1v-1zM997 577v1h1v-1zM998 577v1h1v-1zM999 578v1h1v-1zM1000 578v1h1v-1zM1001 578v1h1v-1zM1002 579v1h1v-1zM1003 579v1h1v-1zM1004 579v1h1v-1zM1005 580v1h1v-1zM1006 579v1h1v-1zM1007 579v1h1v-1zM1008 578v1h1v-1zM1009 578v1h1v-1zM1010 579v1h1v-1zM1011 580v2h1v-2zM1012 582v2h1v-2zM1013 584v1h1v-1zM1014 583v1h1v-1zM1015 581v2h1v-2zM1016 579v2h1v-2zM1017 577v2h1v-2zM1018 576v1h1v-1zM1019 575v1h1v-1zM1020 574v1h1v-1zM1021 573v1h1v-1zM1022 574v1h1v-1zM1023 575v1h1v-1zM1024 576v2h1v-2zM1025 578v1h1v-1zM1026 577v1h1v-1zM1027 577v1h1v-1zM1028 577v1h1v-1zM1029 577v1h1v-1zM1030 577v1h1v-1zM1031 578v1h1v-1zM1032 578v1h1v-1zM1033 579v1h1v-1zM1034 579v1h1v-1zM1035 579v1h1v-1zM1036 580v1h1v-1zM1037 580v1h1v-1zM1038 578v2h1v-2zM1039 576v2h1v-2zM1040 574v2h1v-2zM1041 573v1h1v-1zM1042 572v1h1v-1zM1043 571v1h1v-1zM1044 570v1h1v-1zM1045 569v1h1v-1zM1046 569v1h1v-1zM1047 569v1h1v-1zM1048 569v1h1v-1zM1049 569v1h1v-1zM1050 568v1h1v-1zM1051 568v1h1v-1zM1052 567v1h1v-1zM1053 567v1h1v-1zM1054 568v1h1v-1zM1055 569v1h1v-1zM1056 570v1h1v-1zM1057 571v1h1v-1zM1058 570v1h1v-1zM1059 568v2h1v-2zM1060 567v1h1v-1zM1061 565v2h1v-2zM1062 564v1h1v-1zM1063 563v1h1v-1zM1064 563v1h1v-1zM1065 562v1h1v-1zM1066 563v2h1v-2zM1067 565v2h1v-2zM1068 567v1h1v-1zM1069 568v2h1v-2zM1070 570v1h1v-1zM1071 570v1h1v-1zM1072 571v1h1v-1zM1073 572v1h1v-1zM1074 571v1h1v-1zM1075 570v1h1v-1zM1076 570v1h1v-1zM1077 569v1h1v-1zM1078 568v1h1v-1zM1079 568v1h1v-1zM1080 567v1h1v-1zM1081 567v1h1v-1zM1082 566v1h1v-1zM1083 566v1h1v-1zM1084 566v1h1v-1zM1085 566v1h1v-1zM1086 564v2h1v-2zM1087 563v1h1v-1zM1088 562v1h1v-1zM1089 561v1h1v-1zM1090 562v1h1v-1zM1091 563v1h1v-1zM1092 564v1h1v-1zM1093 565v1h1v-1zM1094 565v1h1v-1zM1095 565v1h1v-1zM1096 566v1h1v-1zM1097 566v1h1v-1zM1098 567v1h1v-1zM1099 567v1h1v-1zM1100 568v1h1v-1zM1101 569v1h1v-1zM1102 568v1h1v-1zM1103 567v1h1v-1zM1104 566v1h1v-1zM1105 565v1h1v-1zM1106 565v1h1v-1zM1107 565v1h1v-1zM1108 565v1h1v-1zM1109 565v1h1v-1zM1110 565v1h1v-1zM1111 566v1h1v-1zM1112 566v1h1v-1zM1113 567v1h1v-1zM1114 568v1h1v-1zM1115 568v1h1v-1zM1116 569v1h1v-1zM1117 570v1h1v-1zM1118 570v1h1v-1zM1119 570v1h1v-1zM1120 569v1h1v-1zM1121 569v1h1v-1zM1122 569v1h1v-1zM1123 569v1h1v-1zM1124 570v1h1v-1zM1125 570v1h1v-1zM1126 569v1h1v-1zM1127 569v1h1v-1zM1128 568v1h1v-1zM1129 567v1h1v-1zM1130 567v1h1v-1zM1131 567v1h1v-1zM1132 568v1h1v-1zM1133 568v1h1v-1zM1134 569v1h1v-1zM1135 570v1h1v-1zM1136 571v1h1v-1zM1137 572v2h1v-2zM1138 574v1h1v-1zM1139 575v2h1v-2zM1140 577v2h1v-2zM1141 580v1h1v-1zM1142 578v1h1v-1zM1143 577v1h1v-1zM1144 575v2h1v-2zM1145 574v1h1v-1zM1146 574v1h1v-1zM1147 573v1h1v-1zM1148 573v1h1v-1zM1149 572v1h1v-1zM1150 572v1h1v-1zM1151 572v1h1v-1zM1152 571v1h1v-1zM1153 570v2h1v-2zM1154 568v2h1v-2zM1155 566v2h1v-2zM1156 564v2h1v-2zM1157 562v1h1v-1zM1158 564v1h1v-1zM1159 565v2h1v-2zM1160 567v1h1v-1zM1161 568v1h1v-1zM1162 569v1h1v-1zM1163 569v1h1v-1zM1164 570v1h1v-1zM1165 571v1h1v-1zM1166 571v1h1v-1zM1167 571v1h1v-1zM1168 571v1h1v-1zM1169 571v1h1v-1zM1170 571v1h1v-1zM1171 570v1h1v-1zM1172 570v1h1v-1zM1173 570v1h1v-1zM1174 569v1h1v-1zM1175 569v1h1v-1zM1176 568v1h1v-1zM1177 568v1h1v-1zM1178 567v1h1v-1zM1179 566v1h1v-1zM1180 565v1h1v-1zM1181 564v1h1v-1zM1182 562v2h1v-2zM1183 560v2h1v-2zM1184 558v2h1v-2zM1185 557v1h1v-1zM1186 556v1h1v-1zM1187 555v1h1v-1zM1188 554v1h1v-1zM1189 553v1h1v-1zM1190 554v1h1v-1zM1191 555v2h1v-2zM1192 557v1h1v-1zM1193 558v1h1v-1zM1194 559v1h1v-1zM1195 558v1h1v-1zM1196 558v1h1v-1zM1197 558v1h1v-1zM1198 557v1h1v-1zM1199 557v1h1v-1zM1200 556v1h1v-1zM1201 556v1h1v-1zM1202 557v1h1v-1zM1203 557v1h1v-1zM1204 558v1h1v-1zM1205 559v3h1v-3zM1206 562v5h1v-5zM1207 567v4h1v-4zM1208 571v3h1v-3zM1209 574v1h1v-1zM1210 574v1h1v-1zM1211 574v1h1v-1zM1212 573v1h1v-1zM1213 573v1h1v-1zM1214 572v1h1v-1zM1215 572v1h1v-1zM1216 572v1h1v-1zM1217 572v1h1v-1zM1218 572v1h1v-1zM1219 572v1h1v-1zM1220 572v1h1v-1zM1221 572v1h1v-1zM1222 571v1h1v-1zM1223 571v1h1v-1zM1224 570v1h1v-1zM1225 569v1h1v-1zM1226 569v1h1v-1zM1227 570v1h1v-1zM1228 570v1h1v-1zM1229 571v1h1v-1zM1230 572v1h1v-1zM1231 573v1h1v-1zM1232 574v1h1v-1zM1233 575v1h1v-1zM1234 576v1h1v-1zM1235 576v1h1v-1zM1236 577v1h1v-1zM1237 577v1h1v-1zM1238 578v1h1v-1zM1239 577v1h1v-1zM1240 577v1h1v-1zM1241 577v1h1v-1zM1242 577v1h1v-1zM1243 576v1h1v-1zM1244 576v1h1v-1zM1245 576v1h1v-1zM1246 575v1h1v-1zM1247 575v1h1v-1zM1248 574v1h1v-1zM1249 574v1h1v-1zM1250 575v1h1v-1zM1251 576v1h1v-1zM1252 576v1h1v-1zM1253 577v1h1v-1zM1254 577v1h1v-1zM1255 578v1h1v-1zM1256 578v1h1v-1zM1257 578v1h1v-1zM1258 579v1h1v-1zM1259 578v1h1v-1zM1260 578v1h1v-1zM1261 578v1h1v-1zM1262 578v1h1v-1zM1263 577v1h1v-1zM1264 577v1h1v-1zM1265 577v1h1v-1zM1266 577v1h1v-1zM1267 577v1h1v-1zM1268 577v1h1v-1zM1269 577v1h1v-1zM1270 577v1h1v-1zM1271 577v1h1v-1zM1272 577v1h1v-1zM1273 577v1h1v-1zM1274 578v1h1v-1zM1275 579v1h1v-1zM1276 580v1h1v-1zM1277 581v1h1v-1zM1278 582v1h1v-1zM1279 583v2h1v-2zM1280 585v2h1v-2zM1281 586v1h1v-1zM1282 583v3h1v-3zM1283 580v3h1v-3zM1284 577v3h1v-3zM1285 576v1h1v-1zM1286 575v1h1v-1zM1287 575v1h1v-1zM1288 575v1h1v-1zM1289 575v1h1v-1zM1290 575v1h1v-1zM1291 575v1h1v-1zM1292 575v1h1v-1zM1293 575v1h1v-1zM1294 575v1h1v-1zM1295 575v1h1v-1zM1296 575v1h1v-1zM1297 575v1h1v-1zM1298 574v1h1v-1zM1299 574v1h1v-1zM1300 573v1h1v-1zM1301 573v1h1v-1zM1302 574v1h1v-1zM1303 575v1h1v-1zM1304 576v2h1v-2zM1305 578v1h1v-1zM1306 577v1h1v-1zM1307 577v1h1v-1zM1308 577v1h1v-1zM1309 577v1h1v-1zM1310 577v1h1v-1zM1311 577v1h1v-1zM1312 577v1h1v-1zM1313 577v1h1v-1zM1314 577v1h1v-1zM1315 577v1h1v-1zM1316 578v1h1v-1zM1317 578v1h1v-1zM1318 579v1h1v-1zM1319 579v1h1v-1zM1320 580v1h1v-1z" fill="#1e90ff" shape-rendering="crispEdges"/>
<g fill="#ff0000" shape-rendering="crispEdges">
<rect x="5" y="115" width="1" height="38"/>
<rect x="4" y="119" width="3" height="33"/>
<rect x="9" y="112" width="1" height="13"/>
<rect x="8" y="115" width="3" height="4"/>
<rect x="17" y="110" width="1" height="9"/>
<rect x="16" y="114" width="3" height="4"/>
<rect x="21" y="97" width="1" height="23"/>
<rect x="20" y="112" width="3" height="3"/>
<rect x="25" y="97" width="1" height="19"/>
<rect x="24" y="106" width="3" height="6"/>
<rect x="37" y="110" width="1" height="10"/>
<rect x="36" y="117" width="3" height="3"/>
<rect x="45" y="112" width="1" height="26"/>
<rect x="44" y="114" width="3" height="5"/>
<rect x="57" y="119" width="1" height="13"/>
<rect x="56" y="120" width="3" height="9"/>
<rect x="65" y="113" width="1" height="7"/>
<rect x="64" y="113" width="3" height="7"/>
<rect x="69" y="91" width="1" height="23"/>
<rect x="68" y="94" width="3" height="20"/>
<rect x="73" y="80" width="1" height="23"/>
<rect x="72" y="89" width="3" height="6"/>
<rect x="85" y="84" width="1" height="15"/>
<rect x="84" y="87" width="3" height="8"/>
<rect x="89" y="77" width="1" height="10"/>
<rect x="88" y="79" width="3" height="8"/>
<rect x="101" y="91" width="1" height="19"/>
<rect x="100" y="96" width="3" height="5"/>
<rect x="105" y="63" width="1" height="42"/>
<rect x="104" y="70" width="3" height="28"/>
<rect x="113" y="62" width="1" height="16"/>
<rect x="112" y="64" width="3" height="13"/>
<rect x="117" y="51" width="1" height="27"/>
<rect x="116" y="60" width="3" height="5"/>
<rect x="129" y="94" width="1" height="15"/>
<rect x="128" y="98" width="3" height="7"/>
<rect x="137" y="90" width="1" height="18"/>
<rect x="136" y="94" width="3" height="3"/>
<rect x="145" y="80" width="1" height="13"/>
<rect x="144" y="81" width="3" height="12"/>
<rect x="161" y="140" width="1" height="7"/>
<rect x="160" y="143" width="3" height="4"/>
<rect x="165" y="134" width="1" height="14"/>
<rect x="164" y="136" width="3" height="8"/>
<rect x="169" y="127" width="1" height="11"/>
<rect x="168" y="135" width="3" height="2"/>
<rect x="173" y="116" width="1" height="21"/>
<rect x="172" y="126" width="3" height="10"/>
<rect x="209" y="194" width="1" height="27"/>
<rect x="208" y="199" width="3" height="19"/>
<rect x="213" y="194" width="1" height="11"/>
<rect x="212" y="197" width="3" height="3"/>
<rect x="241" y="236" width="1" height="9"/>
<rect x="240" y="237" width="3" height="8"/>
<rect x="245" y="225" width="1" height="23"/>
<rect x="244" y="225" width="3" height="13"/>
<rect x="249" y="211" width="1" height="27"/>
<rect x="248" y="226" width="3" height="1"/>
<rect x="261" y="229" width="1" height="10"/>
<rect x="260" y="231" width="3" height="5"/>
<rect x="265" y="223" width="1" height="14"/>
<rect x="264" y="229" width="3" height="4"/>
<rect x="277" y="255" width="1" height="17"/>
<rect x="276" y="256" width="3" height="6"/>
<rect x="285" y="246" width="1" height="21"/>
<rect x="284" y="247" width="3" height="10"/>
<rect x="289" y="239" width="1" height="11"/>
<rect x="288" y="243" width="3" height="5"/>
<rect x="293" y="230" width="1" height="24"/>
<rect x="292" y="233" width="3" height="11"/>
<rect x="309" y="272" width="1" height="11"/>
<rect x="308" y="278" width="3" height="3"/>
<rect x="317" y="265" width="1" height="27"/>
<rect x="316" y="266" width="3" height="17"/>
<rect x="321" y="253" width="1" height="19"/>
<rect x="320" y="256" width="3" height="11"/>
<rect x="333" y="248" width="1" height="18"/>
<rect x="332" y="249" width="3" height="9"/>
<rect x="349" y="254" width="1" height="21"/>
<rect x="348" y="257" width="3" height="8"/>
<rect x="357" y="250" width="1" height="19"/>
<rect x="356" y="257" width="3" height="12"/>
<rect x="369" y="279" width="1" height="16"/>
<rect x="368" y="282" width="3" height="5"/>
<rect x="377" y="275" width="1" height="10"/>
<rect x="376" y="281" width="3" height="2"/>
<rect x="381" y="266" width="1" height="15"/>
<rect x="380" y="272" width="3" height="4"/>
<rect x="393" y="312" width="1" height="28"/>
<rect x="392" y="320" width="3" height="17"/>
<rect x="397" y="317" width="1" height="7"/>
<rect x="396" y="317" width="3" height="4"/>
<rect x="405" y="316" width="1" height="24"/>
<rect x="404" y="319" width="3" height="1"/>
<rect x="413" y="309" width="1" height="26"/>
<rect x="412" y="311" width="3" height="15"/>
<rect x="425" y="307" width="1" height="20"/>
<rect x="424" y="313" width="3" height="14"/>
<rect x="433" y="307" width="1" height="12"/>
<rect x="432" y="312" width="3" height="5"/>
<rect x="437" y="292" width="1" height="28"/>
<rect x="436" y="305" width="3" height="8"/>
<rect x="441" y="286" width="1" height="20"/>
<rect x="440" y="290" width="3" height="16"/>
<rect x="449" y="300" width="1" height="9"/>
<rect x="448" y="305" width="3" height="3"/>
<rect x="457" y="308" width="1" height="8"/>
<rect x="456" y="309" width="3" height="4"/>
<rect x="465" y="294" width="1" height="34"/>
<rect x="464" y="302" width="3" height="11"/>
<rect x="469" y="290" width="1" height="16"/>
<rect x="468" y="294" width="3" height="8"/>
<rect x="481" y="304" width="1" height="7"/>
<rect x="480" y="309" width="3" height="2"/>
<rect x="489" y="312" width="1" height="16"/>
<rect x="488" y="313" width="3" height="13"/>
<rect x="505" y="330" width="1" height="17"/>
<rect x="504" y="331" width="3" height="13"/>
<rect x="509" y="325" width="1" height="15"/>
<rect x="508" y="325" width="3" height="6"/>
<rect x="517" y="321" width="1" height="10"/>
<rect x="516" y="325" width="3" height="5"/>
<rect x="525" y="317" width="1" height="20"/>
<rect x="524" y="317" width="3" height="13"/>
<rect x="545" y="326" width="1" height="12"/>
<rect x="544" y="331" width="3" height="4"/>
<rect x="549" y="320" width="1" height="17"/>
<rect x="548" y="322" width="3" height="10"/>
<rect x="553" y="314" width="1" height="11"/>
<rect x="552" y="314" width="3" height="8"/>
<rect x="577" y="364" width="1" height="16"/>
<rect x="576" y="367" width="3" height="12"/>
<rect x="585" y="351" width="1" height="30"/>
<rect x="584" y="354" width="3" height="18"/>
<rect x="597" y="370" width="1" height="10"/>
<rect x="596" y="377" width="3" height="2"/>
<rect x="601" y="371" width="1" height="7"/>
<rect x="600" y="373" width="3" height="4"/>
<rect x="609" y="354" width="1" height="25"/>
<rect x="608" y="360" width="3" height="16"/>
<rect x="613" y="335" width="1" height="30"/>
<rect x="612" y="340" width="3" height="22"/>
<rect x="617" y="334" width="1" height="11"/>
<rect x="616" y="336" width="3" height="5"/>
<rect x="621" y="331" width="1" height="11"/>
<rect x="620" y="331" width="3" height="9"/>
<rect x="637" y="349" width="1" height="18"/>
<rect x="636" y="349" width="3" height="13"/>
<rect x="645" y="341" width="1" height="21"/>
<rect x="644" y="341" width="3" height="13"/>
<rect x="649" y="325" width="1" height="17"/>
<rect x="648" y="325" width="3" height="17"/>
<rect x="653" y="314" width="1" height="20"/>
<rect x="652" y="317" width="3" height="9"/>
<rect x="661" y="330" width="1" height="22"/>
<rect x="660" y="333" width="3" height="9"/>
<rect x="673" y="333" width="1" height="8"/>
<rect x="672" y="334" width="3" height="4"/>
<rect x="677" y="309" width="1" height="27"/>
<rect x="676" y="321" width="3" height="13"/>
<rect x="689" y="331" width="1" height="10"/>
<rect x="688" y="337" width="3" height="3"/>
<rect x="693" y="331" width="1" height="14"/>
<rect x="692" y="335" width="3" height="4"/>
<rect x="697" y="326" width="1" height="13"/>
<rect x="696" y="333" width="3" height="2"/>
<rect x="709" y="366" width="1" height="18"/>
<rect x="708" y="367" width="3" height="10"/>
<rect x="737" y="427" width="1" height="14"/>
<rect x="736" y="439" width="3" height="1"/>
<rect x="741" y="433" width="1" height="15"/>
<rect x="740" y="436" width="3" height="8"/>
<rect x="761" y="440" width="1" height="20"/>
<rect x="760" y="441" width="3" height="19"/>
<rect x="769" y="441" width="1" height="6"/>
<rect x="768" y="441" width="3" height="1"/>
<rect x="773" y="420" width="1" height="22"/>
<rect x="772" y="428" width="3" height="14"/>
<rect x="781" y="423" width="1" height="16"/>
<rect x="780" y="431" width="3" height="3"/>
<rect x="785" y="414" width="1" height="17"/>
<rect x="784" y="417" width="3" height="13"/>
<rect x="789" y="407" width="1" height="19"/>
<rect x="788" y="407" width="3" height="11"/>
<rect x="793" y="400" width="1" height="8"/>
<rect x="792" y="400" width="3" height="8"/>
<rect x="801" y="381" width="1" height="41"/>
<rect x="800" y="393" width="3" height="23"/>
<rect x="805" y="371" width="1" height="23"/>
<rect x="804" y="373" width="3" height="21"/>
<rect x="817" y="371" width="1" height="10"/>
<rect x="816" y="372" width="3" height="9"/>
<rect x="829" y="385" width="1" height="21"/>
<rect x="828" y="390" width="3" height="11"/>
<rect x="837" y="395" width="1" height="11"/>
<rect x="836" y="399" width="3" height="2"/>
<rect x="853" y="420" width="1" height="18"/>
<rect x="852" y="430" width="3" height="6"/>
<rect x="861" y="424" width="1" height="14"/>
<rect x="860" y="428" width="3" height="6"/>
<rect x="873" y="428" width="1" height="18"/>
<rect x="872" y="435" width="3" height="11"/>
<rect x="877" y="432" width="1" height="10"/>
<rect x="876" y="433" width="3" height="2"/>
<rect x="881" y="423" width="1" height="11"/>
<rect x="880" y="426" width="3" height="8"/>
<rect x="901" y="458" width="1" height="17"/>
<rect x="900" y="459" width="3" height="14"/>
<rect x="909" y="463" width="1" height="11"/>
<rect x="908" y="464" width="3" height="6"/>
<rect x="917" y="436" width="1" height="39"/>
<rect x="916" y="437" width="3" height="36"/>
<rect x="925" y="435" width="1" height="14"/>
<rect x="924" y="444" width="3" height="2"/>
<rect x="929" y="408" width="1" height="41"/>
<rect x="928" y="415" width="3" height="31"/>
<rect x="937" y="410" width="1" height="10"/>
<rect x="936" y="414" width="3" height="3"/>
<rect x="965" y="469" width="1" height="18"/>
<rect x="964" y="477" width="3" height="2"/>
<rect x="969" y="447" width="1" height="38"/>
<rect x="968" y="455" width="3" height="23"/>
<rect x="981" y="463" width="1" height="9"/>
<rect x="980" y="463" width="3" height="4"/>
<rect x="997" y="468" width="1" height="13"/>
<rect x="996" y="471" width="3" height="8"/>
<rect x="1009" y="475" width="1" height="7"/>
<rect x="1008" y="476" width="3" height="4"/>
<rect x="1017" y="477" width="1" height="23"/>
<rect x="1016" y="482" width="3" height="17"/>
<rect x="1021" y="471" width="1" height="16"/>
<rect x="1020" y="472" width="3" height="11"/>
<rect x="1029" y="483" width="1" height="11"/>
<rect x="1028" y="485" width="3" height="2"/>
<rect x="1041" y="470" width="1" height="24"/>
<rect x="1040" y="479" width="3" height="15"/>
<rect x="1045" y="463" width="1" height="28"/>
<rect x="1044" y="470" width="3" height="10"/>
<rect x="1053" y="459" width="1" height="12"/>
<rect x="1052" y="464" width="3" height="7"/>
<rect x="1061" y="453" width="1" height="28"/>
<rect x="1060" y="456" width="3" height="19"/>
<rect x="1065" y="440" width="1" height="31"/>
<rect x="1064" y="448" width="3" height="9"/>
<rect x="1077" y="465" width="1" height="12"/>
<rect x="1076" y="466" width="3" height="9"/>
<rect x="1081" y="458" width="1" height="12"/>
<rect x="1080" y="460" width="3" height="6"/>
<rect x="1085" y="452" width="1" height="20"/>
<rect x="1084" y="455" width="3" height="6"/>
<rect x="1089" y="423" width="1" height="36"/>
<rect x="1088" y="440" width="3" height="16"/>
<rect x="1105" y="446" width="1" height="15"/>
<rect x="1104" y="449" width="3" height="11"/>
<rect x="1109" y="437" width="1" height="18"/>
<rect x="1108" y="448" width="3" height="2"/>
<rect x="1121" y="455" width="1" height="7"/>
<rect x="1120" y="457" width="3" height="5"/>
<rect x="1129" y="453" width="1" height="10"/>
<rect x="1128" y="454" width="3" height="7"/>
<rect x="1145" y="472" width="1" height="17"/>
<rect x="1144" y="474" width="3" height="13"/>
<rect x="1149" y="468" width="1" height="8"/>
<rect x="1148" y="471" width="3" height="4"/>
<rect x="1153" y="467" width="1" height="8"/>
<rect x="1152" y="468" width="3" height="4"/>
<rect x="1157" y="432" width="1" height="43"/>
<rect x="1156" y="440" width="3" height="28"/>
<rect x="1173" y="462" width="1" height="5"/>
<rect x="1172" y="462" width="3" height="4"/>
<rect x="1177" y="457" width="1" height="7"/>
<rect x="1176" y="458" width="3" height="5"/>
<rect x="1181" y="439" width="1" height="20"/>
<rect x="1180" y="450" width="3" height="9"/>
<rect x="1185" y="417" width="1" height="41"/>
<rect x="1184" y="420" width="3" height="30"/>
<rect x="1189" y="404" width="1" height="22"/>
<rect x="1188" y="404" width="3" height="18"/>
<rect x="1197" y="411" width="1" height="9"/>
<rect x="1196" y="415" width="3" height="5"/>
<rect x="1201" y="405" width="1" height="12"/>
<rect x="1200" y="406" width="3" height="10"/>
<rect x="1213" y="451" width="1" height="12"/>
<rect x="1212" y="455" width="3" height="7"/>
<rect x="1217" y="451" width="1" height="7"/>
<rect x="1216" y="454" width="3" height="2"/>
<rect x="1221" y="450" width="1" height="9"/>
<rect x="1220" y="452" width="3" height="3"/>
<rect x="1225" y="440" width="1" height="18"/>
<rect x="1224" y="443" width="3" height="9"/>
<rect x="1241" y="466" width="1" height="10"/>
<rect x="1240" y="471" width="3" height="3"/>
<rect x="1245" y="463" width="1" height="10"/>
<rect x="1244" y="468" width="3" height="4"/>
<rect x="1249" y="463" width="1" height="9"/>
<rect x="1248" y="463" width="3" height="5"/>
<rect x="1261" y="473" width="1" height="15"/>
<rect x="1260" y="478" width="3" height="2"/>
<rect x="1265" y="474" width="1" height="6"/>
<rect x="1264" y="474" width="3" height="5"/>
<rect x="1273" y="473" width="1" height="9"/>
<rect x="1272" y="475" width="3" height="3"/>
<rect x="1285" y="477" width="1" height="32"/>
<rect x="1284" y="482" width="3" height="27"/>
<rect x="1289" y="477" width="1" height="9"/>
<rect x="1288" y="482" width="3" height="1"/>
<rect x="1293" y="478" width="1" height="9"/>
<rect x="1292" y="481" width="3" height="2"/>
<rect x="1301" y="471" width="1" height="16"/>
<rect x="1300" y="478" width="3" height="3"/>
<rect x="1309" y="480" width="1" height="19"/>
<rect x="1308" y="488" width="3" height="4"/>
</g>
<g fill="#00ff00" shape-rendering="crispEdges">
<rect x="1" y="139" width="1" height="16"/>
<rect x="0" y="139" width="3" height="16"/>
<rect x="13" y="110" width="1" height="9"/>
<rect x="12" y="115" width="3" height="3"/>
<rect x="29" y="102" width="1" height="20"/>
<rect x="28" y="106" width="3" height="8"/>
<rect x="33" y="112" width="1" height="12"/>
<rect x="32" y="114" width="3" height="7"/>
<rect x="41" y="112" width="1" height="9"/>
<rect x="40" y="117" width="3" height="1"/>
<rect x="49" y="108" width="1" height="22"/>
<rect x="48" y="114" width="3" height="9"/>
<rect x="53" y="119" width="1" height="15"/>
<rect x="52" y="121" width="3" height="8"/>
<rect x="61" y="114" width="1" height="10"/>
<rect x="60" y="117" width="3" height="4"/>
<rect x="81" y="87" width="1" height="10"/>
<rect x="80" y="88" width="3" height="6"/>
<rect x="93" y="72" width="1" height="29"/>
<rect x="92" y="79" width="3" height="11"/>
<rect x="97" y="76" width="1" height="26"/>
<rect x="96" y="90" width="3" height="11"/>
<rect x="109" y="65" width="1" height="20"/>
<rect x="108" y="70" width="3" height="7"/>
<rect x="121" y="55" width="1" height="27"/>
<rect x="120" y="60" width="3" height="16"/>
<rect x="125" y="67" width="1" height="40"/>
<rect x="124" y="73" width="3" height="32"/>
<rect x="133" y="95" width="1" height="4"/>
<rect x="132" y="97" width="3" height="2"/>
<rect x="141" y="86" width="1" height="11"/>
<rect x="140" y="89" width="3" height="4"/>
<rect x="149" y="79" width="1" height="16"/>
<rect x="148" y="81" width="3" height="10"/>
<rect x="153" y="86" width="1" height="66"/>
<rect x="152" y="89" width="3" height="50"/>
<rect x="157" y="135" width="1" height="16"/>
<rect x="156" y="138" width="3" height="9"/>
<rect x="177" y="119" width="1" height="45"/>
<rect x="176" y="126" width="3" height="36"/>
<rect x="181" y="159" width="1" height="18"/>
<rect x="180" y="161" width="3" height="15"/>
<rect x="185" y="169" width="1" height="21"/>
<rect x="184" y="175" width="3" height="15"/>
<rect x="189" y="183" width="1" height="11"/>
<rect x="188" y="188" width="3" height="1"/>
<rect x="193" y="184" width="1" height="7"/>
<rect x="192" y="189" width="3" height="1"/>
<rect x="197" y="186" width="1" height="23"/>
<rect x="196" y="189" width="3" height="14"/>
<rect x="201" y="199" width="1" height="14"/>
<rect x="200" y="203" width="3" height="7"/>
<rect x="205" y="207" width="1" height="17"/>
<rect x="204" y="209" width="3" height="9"/>
<rect x="217" y="196" width="1" height="13"/>
<rect x="216" y="197" width="3" height="8"/>
<rect x="221" y="202" width="1" height="16"/>
<rect x="220" y="203" width="3" height="5"/>
<rect x="225" y="205" width="1" height="41"/>
<rect x="224" y="207" width="3" height="31"/>
<rect x="229" y="231" width="1" height="9"/>
<rect x="228" y="237" width="3" height="2"/>
<rect x="233" y="238" width="1" height="16"/>
<rect x="232" y="238" width="3" height="6"/>
<rect x="237" y="241" width="1" height="9"/>
<rect x="236" y="243" width="3" height="2"/>
<rect x="253" y="225" width="1" height="18"/>
<rect x="252" y="225" width="3" height="14"/>
<rect x="257" y="235" width="1" height="10"/>
<rect x="256" y="238" width="3" height="1"/>
<rect x="269" y="223" width="1" height="34"/>
<rect x="268" y="230" width="3" height="21"/>
<rect x="273" y="245" width="1" height="19"/>
<rect x="272" y="249" width="3" height="13"/>
<rect x="281" y="251" width="1" height="14"/>
<rect x="280" y="256" width="3" height="2"/>
<rect x="297" y="230" width="1" height="43"/>
<rect x="296" y="233" width="3" height="30"/>
<rect x="301" y="257" width="1" height="12"/>
<rect x="300" y="262" width="3" height="7"/>
<rect x="305" y="268" width="1" height="15"/>
<rect x="304" y="269" width="3" height="13"/>
<rect x="313" y="275" width="1" height="9"/>
<rect x="312" y="278" width="3" height="5"/>
<rect x="325" y="251" width="1" height="14"/>
<rect x="324" y="256" width="3" height="1"/>
<rect x="329" y="253" width="1" height="9"/>
<rect x="328" y="256" width="3" height="3"/>
<rect x="337" y="246" width="1" height="9"/>
<rect x="336" y="248" width="3" height="3"/>
<rect x="341" y="249" width="1" height="20"/>
<rect x="340" y="250" width="3" height="10"/>
<rect x="345" y="241" width="1" height="27"/>
<rect x="344" y="259" width="3" height="4"/>
<rect x="353" y="254" width="1" height="15"/>
<rect x="352" y="258" width="3" height="11"/>
<rect x="361" y="253" width="1" height="15"/>
<rect x="360" y="256" width="3" height="11"/>
<rect x="365" y="260" width="1" height="38"/>
<rect x="364" y="265" width="3" height="22"/>
<rect x="385" y="270" width="1" height="13"/>
<rect x="384" y="273" width="3" height="8"/>
<rect x="389" y="277" width="1" height="62"/>
<rect x="388" y="282" width="3" height="55"/>
<rect x="401" y="316" width="1" height="11"/>
<rect x="400" y="317" width="3" height="3"/>
<rect x="409" y="318" width="1" height="17"/>
<rect x="408" y="319" width="3" height="7"/>
<rect x="417" y="305" width="1" height="22"/>
<rect x="416" y="312" width="3" height="10"/>
<rect x="421" y="317" width="1" height="16"/>
<rect x="420" y="322" width="3" height="4"/>
<rect x="429" y="312" width="1" height="10"/>
<rect x="428" y="313" width="3" height="4"/>
<rect x="445" y="284" width="1" height="25"/>
<rect x="444" y="291" width="3" height="15"/>
<rect x="453" y="303" width="1" height="12"/>
<rect x="452" y="305" width="3" height="8"/>
<rect x="461" y="306" width="1" height="21"/>
<rect x="460" y="311" width="3" height="2"/>
<rect x="473" y="287" width="1" height="17"/>
<rect x="472" y="294" width="3" height="10"/>
<rect x="477" y="301" width="1" height="8"/>
<rect x="476" y="302" width="3" height="7"/>
<rect x="485" y="302" width="1" height="27"/>
<rect x="484" y="309" width="3" height="17"/>
<rect x="493" y="303" width="1" height="19"/>
<rect x="492" y="312" width="3" height="9"/>
<rect x="497" y="320" width="1" height="16"/>
<rect x="496" y="320" width="3" height="16"/>
<rect x="501" y="330" width="1" height="15"/>
<rect x="500" y="333" width="3" height="11"/>
<rect x="513" y="308" width="1" height="25"/>
<rect x="512" y="326" width="3" height="4"/>
<rect x="521" y="322" width="1" height="10"/>
<rect x="520" y="325" width="3" height="4"/>
<rect x="529" y="312" width="1" height="9"/>
<rect x="528" y="316" width="3" height="2"/>
<rect x="533" y="303" width="1" height="29"/>
<rect x="532" y="317" width="3" height="13"/>
<rect x="537" y="323" width="1" height="20"/>
<rect x="536" y="328" width="3" height="2"/>
<rect x="541" y="328" width="1" height="17"/>
<rect x="540" y="329" width="3" height="6"/>
<rect x="557" y="295" width="1" height="27"/>
<rect x="556" y="314" width="3" height="3"/>
<rect x="561" y="314" width="1" height="14"/>
<rect x="560" y="316" width="3" height="10"/>
<rect x="565" y="324" width="1" height="24"/>
<rect x="564" y="325" width="3" height="19"/>
<rect x="569" y="329" width="1" height="45"/>
<rect x="568" y="343" width="3" height="31"/>
<rect x="573" y="365" width="1" height="14"/>
<rect x="572" y="373" width="3" height="6"/>
<rect x="581" y="353" width="1" height="23"/>
<rect x="580" y="367" width="3" height="5"/>
<rect x="589" y="347" width="1" height="20"/>
<rect x="588" y="354" width="3" height="11"/>
<rect x="593" y="363" width="1" height="15"/>
<rect x="592" y="364" width="3" height="14"/>
<rect x="605" y="365" width="1" height="16"/>
<rect x="604" y="373" width="3" height="3"/>
<rect x="625" y="329" width="1" height="12"/>
<rect x="624" y="331" width="3" height="10"/>
<rect x="629" y="335" width="1" height="13"/>
<rect x="628" y="340" width="3" height="8"/>
<rect x="633" y="324" width="1" height="46"/>
<rect x="632" y="346" width="3" height="16"/>
<rect x="641" y="346" width="1" height="10"/>
<rect x="640" y="349" width="3" height="5"/>
<rect x="657" y="313" width="1" height="35"/>
<rect x="656" y="317" width="3" height="27"/>
<rect x="665" y="329" width="1" height="11"/>
<rect x="664" y="333" width="3" height="3"/>
<rect x="669" y="334" width="1" height="4"/>
<rect x="668" y="335" width="3" height="3"/>
<rect x="681" y="321" width="1" height="24"/>
<rect x="680" y="321" width="3" height="16"/>
<rect x="685" y="332" width="1" height="15"/>
<rect x="684" y="336" width="3" height="3"/>
<rect x="701" y="333" width="1" height="39"/>
<rect x="700" y="334" width="3" height="34"/>
<rect x="705" y="367" width="1" height="22"/>
<rect x="704" y="367" width="3" height="11"/>
<rect x="713" y="363" width="1" height="19"/>
<rect x="712" y="367" width="3" height="13"/>
<rect x="717" y="376" width="1" height="13"/>
<rect x="716" y="379" width="3" height="5"/>
<rect x="721" y="380" width="1" height="9"/>
<rect x="720" y="383" width="3" height="2"/>
<rect x="725" y="374" width="1" height="26"/>
<rect x="724" y="383" width="3" height="2"/>
<rect x="729" y="369" width="1" height="62"/>
<rect x="728" y="384" width="3" height="27"/>
<rect x="733" y="408" width="1" height="34"/>
<rect x="732" y="410" width="3" height="30"/>
<rect x="745" y="435" width="1" height="11"/>
<rect x="744" y="435" width="3" height="11"/>
<rect x="749" y="432" width="1" height="23"/>
<rect x="748" y="445" width="3" height="4"/>
<rect x="753" y="442" width="1" height="18"/>
<rect x="752" y="448" width="3" height="6"/>
<rect x="757" y="448" width="1" height="13"/>
<rect x="756" y="452" width="3" height="7"/>
<rect x="765" y="436" width="1" height="9"/>
<rect x="764" y="441" width="3" height="3"/>
<rect x="777" y="424" width="1" height="21"/>
<rect x="776" y="428" width="3" height="6"/>
<rect x="797" y="399" width="1" height="21"/>
<rect x="796" y="400" width="3" height="16"/>
<rect x="809" y="369" width="1" height="14"/>
<rect x="808" y="373" width="3" height="4"/>
<rect x="813" y="369" width="1" height="14"/>
<rect x="812" y="376" width="3" height="5"/>
<rect x="821" y="370" width="1" height="23"/>
<rect x="820" y="373" width="3" height="4"/>
<rect x="825" y="374" width="1" height="27"/>
<rect x="824" y="377" width="3" height="24"/>
<rect x="833" y="388" width="1" height="17"/>
<rect x="832" y="390" width="3" height="10"/>
<rect x="841" y="396" width="1" height="14"/>
<rect x="840" y="400" width="3" height="10"/>
<rect x="845" y="409" width="1" height="22"/>
<rect x="844" y="410" width="3" height="5"/>
<rect x="849" y="404" width="1" height="33"/>
<rect x="848" y="414" width="3" height="22"/>
<rect x="857" y="425" width="1" height="7"/>
<rect x="856" y="430" width="3" height="1"/>
<rect x="865" y="425" width="1" height="11"/>
<rect x="864" y="427" width="3" height="7"/>
<rect x="869" y="423" width="1" height="23"/>
<rect x="868" y="433" width="3" height="13"/>
<rect x="885" y="418" width="1" height="13"/>
<rect x="884" y="427" width="3" height="4"/>
<rect x="889" y="427" width="1" height="9"/>
<rect x="888" y="429" width="3" height="6"/>
<rect x="893" y="432" width="1" height="46"/>
<rect x="892" y="434" width="3" height="37"/>
<rect x="897" y="460" width="1" height="22"/>
<rect x="896" y="470" width="3" height="3"/>
<rect x="905" y="459" width="1" height="20"/>
<rect x="904" y="459" width="3" height="11"/>
<rect x="913" y="460" width="1" height="14"/>
<rect x="912" y="464" width="3" height="9"/>
<rect x="921" y="421" width="1" height="31"/>
<rect x="920" y="438" width="3" height="8"/>
<rect x="941" y="412" width="1" height="39"/>
<rect x="940" y="414" width="3" height="18"/>
<rect x="945" y="430" width="1" height="24"/>
<rect x="944" y="432" width="3" height="19"/>
<rect x="949" y="447" width="1" height="15"/>
<rect x="948" y="449" width="3" height="11"/>
<rect x="953" y="455" width="1" height="13"/>
<rect x="952" y="459" width="3" height="9"/>
<rect x="957" y="465" width="1" height="11"/>
<rect x="956" y="467" width="3" height="6"/>
<rect x="961" y="468" width="1" height="11"/>
<rect x="960" y="472" width="3" height="7"/>
<rect x="973" y="450" width="1" height="17"/>
<rect x="972" y="456" width="3" height="3"/>
<rect x="977" y="452" width="1" height="13"/>
<rect x="976" y="458" width="3" height="7"/>
<rect x="985" y="462" width="1" height="10"/>
<rect x="984" y="463" width="3" height="6"/>
<rect x="989" y="446" width="1" height="28"/>
<rect x="988" y="468" width="3" height="2"/>
<rect x="993" y="463" width="1" height="22"/>
<rect x="992" y="470" width="3" height="9"/>
<rect x="1001" y="469" width="1" height="9"/>
<rect x="1000" y="471" width="3" height="6"/>
<rect x="1005" y="471" width="1" height="12"/>
<rect x="1004" y="475" width="3" height="5"/>
<rect x="1013" y="475" width="1" height="32"/>
<rect x="1012" y="476" width="3" height="23"/>
<rect x="1025" y="469" width="1" height="21"/>
<rect x="1024" y="472" width="3" height="16"/>
<rect x="1033" y="484" width="1" height="10"/>
<rect x="1032" y="485" width="3" height="6"/>
<rect x="1037" y="483" width="1" height="14"/>
<rect x="1036" y="490" width="3" height="4"/>
<rect x="1049" y="458" width="1" height="15"/>
<rect x="1048" y="470" width="3" height="1"/>
<rect x="1057" y="463" width="1" height="12"/>
<rect x="1056" y="464" width="3" height="11"/>
<rect x="1069" y="446" width="1" height="23"/>
<rect x="1068" y="448" width="3" height="19"/>
<rect x="1073" y="465" width="1" height="12"/>
<rect x="1072" y="466" width="3" height="9"/>
<rect x="1093" y="440" width="1" height="14"/>
<rect x="1092" y="440" width="3" height="12"/>
<rect x="1097" y="449" width="1" height="8"/>
<rect x="1096" y="451" width="3" height="3"/>
<rect x="1101" y="444" width="1" height="16"/>
<rect x="1100" y="450" width="3" height="10"/>
<rect x="1113" y="439" width="1" height="17"/>
<rect x="1112" y="448" width="3" height="5"/>
<rect x="1117" y="451" width="1" height="11"/>
<rect x="1116" y="453" width="3" height="9"/>
<rect x="1125" y="457" width="1" height="8"/>
<rect x="1124" y="458" width="3" height="3"/>
<rect x="1133" y="449" width="1" height="18"/>
<rect x="1132" y="454" width="3" height="3"/>
<rect x="1137" y="451" width="1" height="21"/>
<rect x="1136" y="456" width="3" height="12"/>
<rect x="1141" y="467" width="1" height="26"/>
<rect x="1140" y="467" width="3" height="20"/>
<rect x="1161" y="427" width="1" height="32"/>
<rect x="1160" y="439" width="3" height="19"/>
<rect x="1165" y="452" width="1" height="14"/>
<rect x="1164" y="457" width="3" height="8"/>
<rect x="1169" y="461" width="1" height="8"/>
<rect x="1168" y="464" width="3" height="2"/>
<rect x="1193" y="404" width="1" height="16"/>
<rect x="1192" y="404" width="3" height="16"/>
<rect x="1205" y="403" width="1" height="10"/>
<rect x="1204" y="406" width="3" height="7"/>
<rect x="1209" y="407" width="1" height="55"/>
<rect x="1208" y="412" width="3" height="50"/>
<rect x="1229" y="439" width="1" height="19"/>
<rect x="1228" y="443" width="3" height="9"/>
<rect x="1233" y="451" width="1" height="20"/>
<rect x="1232" y="451" width="3" height="15"/>
<rect x="1237" y="464" width="1" height="11"/>
<rect x="1236" y="464" width="3" height="10"/>
<rect x="1253" y="457" width="1" height="21"/>
<rect x="1252" y="463" width="3" height="11"/>
<rect x="1257" y="472" width="1" height="17"/>
<rect x="1256" y="472" width="3" height="7"/>
<rect x="1269" y="472" width="1" height="7"/>
<rect x="1268" y="474" width="3" height="5"/>
<rect x="1277" y="470" width="1" height="17"/>
<rect x="1276" y="475" width="3" height="11"/>
<rect x="1281" y="482" width="1" height="28"/>
<rect x="1280" y="485" width="3" height="23"/>
<rect x="1297" y="480" width="1" height="5"/>
<rect x="1296" y="481" width="3" height="3"/>
<rect x="1305" y="455" width="1" height="39"/>
<rect x="1304" y="478" width="3" height="14"/>
<rect x="1313" y="485" width="1" height="9"/>
<rect x="1312" y="488" width="3" height="3"/>
<rect x="1317" y="489" width="1" height="8"/>
<rect x="1316" y="490" width="3" height="4"/>
<rect x="1321" y="494" width="1" height="6"/>
<rect x="1320" y="494" width="3" height="6"/>
</g>
<g fill="#000000" shape-rendering="crispEdges">
<rect x="77" y="80" width="1" height="14"/>
<rect x="76" y="88" width="3" height="1"/>
<rect x="373" y="281" width="1" height="15"/>
<rect x="372" y="282" width="3" height="1"/>
<rect x="933" y="408" width="1" height="16"/>
<rect x="932" y="415" width="3" height="1"/>
</g>
<path d="M0 190v1h1v-1zM1 189v1h1v-1zM2 188v1h1v-1zM3 188v1h1v-1zM4 187v1h1v-1zM5 186v1h1v-1zM6 185v1h1v-1zM7 184v1h1v-1zM8 184v1h1v-1zM9 183v1h1v-1zM10 182v1h1v-1zM11 181v1h1v-1zM12 181v1h1v-1zM13 180v1h1v-1zM14 179v1h1v-1zM15 178v1h1v-1zM16 177v1h1v-1zM17 177v1h1v-1zM18 176v1h1v-1zM19 175v1h1v-1zM20 174v1h1v-1zM21 174v1h1v-1zM22 173v1h1v-1zM23 172v1h1v-1zM24 172v1h1v-1zM25 171v1h1v-1zM26 170v1h1v-1zM27 170v1h1v-1zM28 169v1h1v-1zM29 168v1h1v-1zM30 168v1h1v-1zM31 167v1h1v-1zM32 166v1h1v-1zM33 166v1h1v-1zM34 165v1h1v-1zM35 164v1h1v-1zM36 164v1h1v-1zM37 163v1h1v-1zM38 162v1h1v-1zM39 162v1h1v-1zM40 161v1h1v-1zM41 160v1h1v-1zM42 159v1h1v-1zM43 158v1h1v-1zM44 157v1h1v-1zM45 156v1h1v-1zM46 155v1h1v-1zM47 154v1h1v-1zM48 153v1h1v-1zM49 152v1h1v-1zM50 151v1h1v-1zM51 150v1h1v-1zM52 150v1h1v-1zM53 149v1h1v-1zM54 148v1h1v-1zM55 147v1h1v-1zM56 146v1h1v-1zM57 145v1h1v-1zM58 144v1h1v-1zM59 143v1h1v-1zM60 142v1h1v-1zM61 141v1h1v-1zM62 140v1h1v-1zM63 139v1h1v-1zM64 138v1h1v-1zM65 137v1h1v-1zM66 136v1h1v-1zM67 135v1h1v-1zM68 134v1h1v-1zM69 133v1h1v-1zM70 132v1h1v-1zM71 132v1h1v-1zM72 131v1h1v-1zM73 130v1h1v-1zM74 129v1h1v-1zM75 128v1h1v-1zM76 127v1h1v-1zM77 127v1h1v-1zM78 126v1h1v-1zM79 125v1h1v-1zM80 125v1h1v-1zM81 124v1h1v-1zM82 123v1h1v-1zM83 123v1h1v-1zM84 122v1h1v-1zM85 122v1h1v-1zM86 121v1h1v-1zM87 120v1h1v-1zM88 120v1h1v-1zM89 119v1h1v-1zM90 118v1h1v-1zM91 118v1h1v-1zM92 117v1h1v-1zM93 117v1h1v-1zM94 117v1h1v-1zM95 116v1h1v-1zM96 116v1h1v-1zM97 116v1h1v-1zM98 115v1h1v-1zM99 115v1h1v-1zM100 114v1h1v-1zM101 114v1h1v-1zM102 113v1h1v-1zM103 112v1h1v-1zM104 112v1h1v-1zM105 111v1h1v-1zM106 110v1h1v-1zM107 110v1h1v-1zM108 109v1h1v-1zM109 108v1h1v-1zM110 107v1h1v-1zM111 107v1h1v-1zM112 106v1h1v-1zM113 105v1h1v-1zM114 105v1h1v-1zM115 104v1h1v-1zM116 103v1h1v-1zM117 103v1h1v-1zM118 102v1h1v-1zM119 101v1h1v-1zM120 101v1h1v-1zM121 101v1h1v-1zM122 101v1h1v-1zM123 100v1h1v-1zM124 100v1h1v-1zM125 100v1h1v-1zM126 100v1h1v-1zM127 100v1h1v-1zM128 100v1h1v-1zM129 100v1h1v-1zM130 100v1h1v-1zM131 99v1h1v-1zM132 99v1h1v-1zM133 99v1h1v-1zM134 99v1h1v-1zM135 99v1h1v-1zM136 99v1h1v-1zM137 99v1h1v-1zM138 99v1h1v-1zM139 98v1h1v-1zM140 98v1h1v-1zM141 98v1h1v-1zM142 98v1h1v-1zM143 97v1h1v-1zM144 97v1h1v-1zM145 97v1h1v-1zM146 97v1h1v-1zM147 96v1h1v-1zM148 96v1h1v-1zM149 96v1h1v-1zM150 96v1h1v-1zM151 96v1h1v-1zM152 96v1h1v-1zM153 97v1h1v-1zM154 97v1h1v-1zM155 97v1h1v-1zM156 97v1h1v-1zM157 98v1h1v-1zM158 98v1h1v-1zM159 98v1h1v-1zM160 98v1h1v-1zM161 98v1h1v-1zM162 99v1h1v-1zM163 99v1h1v-1zM164 99v1h1v-1zM165 99v1h1v-1zM166 99v1h1v-1zM167 99v1h1v-1zM168 99v1h1v-1zM169 99v1h1v-1zM170 100v1h1v-1zM171 100v1h1v-1zM172 100v1h1v-1zM173 100v1h1v-1zM174 100v1h1v-1zM175 100v1h1v-1zM176 100v1h1v-1zM177 101v1h1v-1zM178 101v1h1v-1zM179 101v1h1v-1zM180 102v1h1v-1zM181 103v1h1v-1zM182 104v1h1v-1zM183 104v1h1v-1zM184 105v1h1v-1zM185 106v1h1v-1zM186 107v1h1v-1zM187 108v1h1v-1zM188 109v1h1v-1zM189 109v1h1v-1zM190 110v1h1v-1zM191 111v1h1v-1zM192 112v1h1v-1zM193 113v1h1v-1zM194 114v1h1v-1zM195 114v1h1v-1zM196 115v1h1v-1zM197 116v1h1v-1zM198 117v1h1v-1zM199 118v1h1v-1zM200 119v1h1v-1zM201 120v1h1v-1zM202 121v1h1v-1zM203 122v1h1v-1zM204 123v1h1v-1zM205 124v1h1v-1zM206 125v1h1v-1zM207 126v1h1v-1zM208 127v1h1v-1zM209 128v1h1v-1zM210 129v1h1v-1zM211 130v1h1v-1zM212 131v1h1v-1zM213 132v2h1v-2zM214 134v1h1v-1zM215 135v1h1v-1zM216 136v1h1v-1zM217 137v1h1v-1zM218 138v1h1v-1zM219 139v1h1v-1zM220 140v1h1v-1zM221 141v1h1v-1zM222 142v1h1v-1zM223 143v2h1v-2zM224 145v1h1v-1zM225 146v1h1v-1zM226 147v1h1v-1zM227 148v2h1v-2zM228 150v1h1v-1zM229 151v1h1v-1zM230 152v1h1v-1zM231 153v2h1v-2zM232 155v1h1v-1zM233 156v1h1v-1zM234 157v2h1v-2zM235 159v1h1v-1zM236 160v1h1v-1zM237 161v1h1v-1zM238 162v2h1v-2zM239 164v1h1v-1zM240 165v1h1v-1zM241 166v1h1v-1zM242 167v2h1v-2zM243 169v1h1v-1zM244 170v1h1v-1zM245 171v1h1v-1zM246 172v1h1v-1zM247 173v1h1v-1zM248 174v2h1v-2zM249 176v1h1v-1zM250 177v1h1v-1zM251 178v1h1v-1zM252 179v1h1v-1zM253 180v1h1v-1zM254 181v1h1v-1zM255 182v1h1v-1zM256 183v2h1v-2zM257 185v1h1v-1zM258 186v1h1v-1zM259 187v1h1v-1zM260 188v2h1v-2zM261 190v1h1v-1zM262 191v1h1v-1zM263 192v2h1v-2zM264 194v1h1v-1zM265 195v1h1v-1zM266 196v1h1v-1zM267 197v2h1v-2zM268 199v1h1v-1zM269 200v1h1v-1zM270 201v1h1v-1zM271 202v1h1v-1zM272 203v1h1v-1zM273 204v1h1v-1zM274 205v1h1v-1zM275 206v1h1v-1zM276 207v1h1v-1zM277 208v1h1v-1zM278 209v1h1v-1zM279 210v1h1v-1zM280 211v1h1v-1zM281 212v1h1v-1zM282 213v1h1v-1zM283 214v1h1v-1zM284 215v1h1v-1zM285 216v1h1v-1zM286 217v1h1v-1zM287 217v1h1v-1zM288 218v1h1v-1zM289 219v1h1v-1zM290 220v1h1v-1zM291 221v1h1v-1zM292 222v1h1v-1zM293 222v1h1v-1zM294 223v1h1v-1zM295 224v1h1v-1zM296 225v1h1v-1zM297 226v1h1v-1zM298 227v1h1v-1zM299 227v1h1v-1zM300 228v1h1v-1zM301 229v1h1v-1zM302 230v1h1v-1zM303 230v1h1v-1zM304 231v1h1v-1zM305 232v1h1v-1zM306 233v1h1v-1zM307 233v1h1v-1zM308 234v1h1v-1zM309 235v1h1v-1zM310 235v1h1v-1zM311 236v1h1v-1zM312 237v1h1v-1zM313 238v1h1v-1zM314 238v1h1v-1zM315 239v1h1v-1zM316 239v1h1v-1zM317 240v1h1v-1zM318 240v1h1v-1zM319 241v1h1v-1zM320 241v1h1v-1zM321 241v1h1v-1zM322 242v1h1v-1zM323 242v1h1v-1zM324 243v1h1v-1zM325 243v1h1v-1zM326 244v1h1v-1zM327 244v1h1v-1zM328 244v1h1v-1zM329 245v1h1v-1zM330 245v1h1v-1zM331 246v1h1v-1zM332 246v1h1v-1zM333 246v1h1v-1zM334 247v1h1v-1zM335 247v1h1v-1zM336 248v1h1v-1zM337 248v1h1v-1zM338 248v1h1v-1zM339 249v1h1v-1zM340 249v1h1v-1zM341 249v1h1v-1zM342 249v1h1v-1zM343 250v1h1v-1zM344 250v1h1v-1zM345 250v1h1v-1zM346 251v1h1v-1zM347 251v1h1v-1zM348 251v1h1v-1zM349 252v1h1v-1zM350 252v1h1v-1zM351 252v1h1v-1zM352 252v1h1v-1zM353 252v1h1v-1zM354 252v1h1v-1zM355 252v1h1v-1zM356 252v1h1v-1zM357 252v1h1v-1zM358 253v1h1v-1zM359 253v1h1v-1zM360 253v1h1v-1zM361 253v1h1v-1zM362 254v1h1v-1zM363 254v1h1v-1zM364 255v1h1v-1zM365 255v1h1v-1zM366 255v1h1v-1zM367 256v1h1v-1zM368 256v1h1v-1zM369 257v1h1v-1zM370 257v1h1v-1zM371 257v1h1v-1zM372 258v1h1v-1zM373 258v1h1v-1zM374 258v1h1v-1zM375 259v1h1v-1zM376 259v1h1v-1zM377 260v1h1v-1zM378 260v1h1v-1zM379 260v1h1v-1zM380 261v1h1v-1zM381 261v1h1v-1zM382 262v1h1v-1zM383 262v1h1v-1zM384 263v1h1v-1zM385 263v1h1v-1zM386 264v1h1v-1zM387 265v1h1v-1zM388 266v1h1v-1zM389 266v1h1v-1zM390 267v1h1v-1zM391 267v1h1v-1zM392 268v1h1v-1zM393 268v1h1v-1zM394 269v1h1v-1zM395 269v1h1v-1zM396 270v1h1v-1zM397 270v1h1v-1zM398 271v1h1v-1zM399 271v1h1v-1zM400 272v1h1v-1zM401 272v1h1v-1zM402 273v1h1v-1zM403 273v1h1v-1zM404 274v1h1v-1zM405 274v1h1v-1zM406 275v1h1v-1zM407 276v1h1v-1zM408 276v1h1v-1zM409 277v1h1v-1zM410 277v1h1v-1zM411 278v1h1v-1zM412 278v1h1v-1zM413 279v1h1v-1zM414 280v1h1v-1zM415 280v1h1v-1zM416 281v1h1v-1zM417 281v1h1v-1zM418 282v1h1v-1zM419 282v1h1v-1zM420 283v1h1v-1zM421 284v1h1v-1zM422 284v1h1v-1zM423 284v1h1v-1zM424 285v1h1v-1zM425 285v1h1v-1zM426 285v1h1v-1zM427 285v1h1v-1zM428 286v1h1v-1zM429 286v1h1v-1zM430 286v1h1v-1zM431 287v1h1v-1zM432 287v1h1v-1zM433 287v1h1v-1zM434 288v1h1v-1zM435 288v1h1v-1zM436 288v1h1v-1zM437 289v1h1v-1zM438 289v1h1v-1zM439 289v1h1v-1zM440 290v1h1v-1zM441 290v1h1v-1zM442 291v1h1v-1zM443 291v1h1v-1zM444 291v1h1v-1zM445 292v1h1v-1zM446 292v1h1v-1zM447 293v1h1v-1zM448 293v1h1v-1zM449 294v1h1v-1zM450 294v1h1v-1zM451 294v1h1v-1zM452 295v1h1v-1zM453 295v1h1v-1zM454 296v1h1v-1zM455 296v1h1v-1zM456 296v1h1v-1zM457 297v1h1v-1zM458 297v1h1v-1zM459 298v1h1v-1zM460 298v1h1v-1zM461 298v1h1v-1zM462 299v1h1v-1zM463 299v1h1v-1zM464 299v1h1v-1zM465 300v1h1v-1zM466 300v1h1v-1zM467 301v1h1v-1zM468 301v1h1v-1zM469 301v1h1v-1zM470 302v1h1v-1zM471 302v1h1v-1zM472 302v1h1v-1zM473 303v1h1v-1zM474 303v1h1v-1zM475 304v1h1v-1zM476 304v1h1v-1zM477 304v1h1v-1zM478 305v1h1v-1zM479 305v1h1v-1zM480 305v1h1v-1zM481 306v1h1v-1zM482 306v1h1v-1zM483 306v1h1v-1zM484 307v1h1v-1zM485 307v1h1v-1zM486 307v1h1v-1zM487 307v1h1v-1zM488 308v1h1v-1zM489 308v1h1v-1zM490 308v1h1v-1zM491 308v1h1v-1zM492 309v1h1v-1zM493 309v1h1v-1zM494 310v1h1v-1zM495 310v1h1v-1zM496 311v1h1v-1zM497 312v1h1v-1zM498 312v1h1v-1zM499 313v1h1v-1zM500 313v1h1v-1zM501 314v1h1v-1zM502 314v1h1v-1zM503 315v1h1v-1zM504 315v1h1v-1zM505 316v1h1v-1zM506 316v1h1v-1zM507 316v1h1v-1zM508 316v1h1v-1zM509 316v1h1v-1zM510 315v1h1v-1zM511 315v1h1v-1zM512 315v1h1v-1zM513 315v1h1v-1zM514 315v1h1v-1zM515 315v1h1v-1zM516 315v1h1v-1zM517 315v1h1v-1zM518 315v1h1v-1zM519 315v1h1v-1zM520 315v1h1v-1zM521 315v1h1v-1zM522 315v1h1v-1zM523 315v1h1v-1zM524 316v1h1v-1zM525 316v1h1v-1zM526 316v1h1v-1zM527 316v1h1v-1zM528 316v1h1v-1zM529 316v1h1v-1zM530 316v1h1v-1zM531 316v1h1v-1zM532 316v1h1v-1zM533 316v1h1v-1zM534 316v1h1v-1zM535 316v1h1v-1zM536 316v1h1v-1zM537 316v1h1v-1zM538 316v1h1v-1zM539 316v1h1v-1zM540 317v1h1v-1zM541 317v1h1v-1zM542 317v1h1v-1zM543 317v1h1v-1zM544 317v1h1v-1zM545 317v1h1v-1zM546 317v1h1v-1zM547 317v1h1v-1zM548 317v1h1v-1zM549 318v1h1v-1zM550 318v1h1v-1zM551 318v1h1v-1zM552 318v1h1v-1zM553 318v1h1v-1zM554 318v1h1v-1zM555 318v1h1v-1zM556 319v1h1v-1zM557 319v1h1v-1zM558 319v1h1v-1zM559 319v1h1v-1zM560 319v1h1v-1zM561 319v1h1v-1zM562 319v1h1v-1zM563 320v1h1v-1zM564 320v1h1v-1zM565 320v1h1v-1zM566 321v1h1v-1zM567 321v1h1v-1zM568 322v1h1v-1zM569 322v1h1v-1zM570 323v1h1v-1zM571 324v1h1v-1zM572 324v1h1v-1zM573 325v1h1v-1zM574 326v1h1v-1zM575 326v1h1v-1zM576 327v1h1v-1zM577 327v1h1v-1zM578 327v1h1v-1zM579 328v1h1v-1zM580 328v1h1v-1zM581 329v1h1v-1zM582 329v1h1v-1zM583 329v1h1v-1zM584 330v1h1v-1zM585 330v1h1v-1zM586 330v1h1v-1zM587 331v1h1v-1zM588 332v1h1v-1zM589 332v1h1v-1zM590 333v1h1v-1zM591 333v1h1v-1zM592 334v1h1v-1zM593 335v1h1v-1zM594 335v1h1v-1zM595 336v1h1v-1zM596 336v1h1v-1zM597 337v1h1v-1zM598 338v1h1v-1zM599 338v1h1v-1zM600 339v1h1v-1zM601 339v1h1v-1zM602 340v1h1v-1zM603 340v1h1v-1zM604 340v1h1v-1zM605 341v1h1v-1zM606 341v1h1v-1zM607 342v1h1v-1zM608 342v1h1v-1zM609 343v1h1v-1zM610 343v1h1v-1zM611 343v1h1v-1zM612 343v1h1v-1zM613 343v1h1v-1zM614 343v1h1v-1zM615 343v1h1v-1zM616 343v1h1v-1zM617 343v1h1v-1zM618 343v1h1v-1zM619 343v1h1v-1zM620 343v1h1v-1zM621 343v1h1v-1zM622 343v1h1v-1zM623 343v1h1v-1zM624 343v1h1v-1zM625 343v1h1v-1zM626 343v1h1v-1zM627 343v1h1v-1zM628 344v1h1v-1zM629 344v1h1v-1zM630 344v1h1v-1zM631 344v1h1v-1zM632 345v1h1v-1zM633 345v1h1v-1zM634 345v1h1v-1zM635 345v1h1v-1zM636 346v1h1v-1zM637 346v1h1v-1zM638 346v1h1v-1zM639 346v1h1v-1zM640 347v1h1v-1zM641 347v1h1v-1zM642 347v1h1v-1zM643 347v1h1v-1zM644 347v1h1v-1zM645 347v1h1v-1zM646 347v1h1v-1zM647 347v1h1v-1zM648 347v1h1v-1zM649 347v1h1v-1zM650 347v1h1v-1zM651 347v1h1v-1zM652 348v1h1v-1zM653 348v1h1v-1zM654 348v1h1v-1zM655 348v1h1v-1zM656 348v1h1v-1zM657 348v1h1v-1zM658 348v1h1v-1zM659 348v1h1v-1zM660 348v1h1v-1zM661 348v1h1v-1zM662 348v1h1v-1zM663 349v1h1v-1zM664 349v1h1v-1zM665 349v1h1v-1zM666 349v1h1v-1zM667 349v1h1v-1zM668 349v1h1v-1zM669 349v1h1v-1zM670 349v1h1v-1zM671 349v1h1v-1zM672 349v1h1v-1zM673 349v1h1v-1zM674 350v1h1v-1zM675 350v1h1v-1zM676 350v1h1v-1zM677 350v1h1v-1zM678 350v1h1v-1zM679 350v1h1v-1zM680 350v1h1v-1zM681 350v1h1v-1zM682 350v1h1v-1zM683 350v1h1v-1zM684 350v1h1v-1zM685 350v1h1v-1zM686 349v1h1v-1zM687 349v1h1v-1zM688 349v1h1v-1zM689 348v1h1v-1zM690 348v1h1v-1zM691 348v1h1v-1zM692 347v1h1v-1zM693 347v1h1v-1zM694 346v1h1v-1zM695 346v1h1v-1zM696 346v1h1v-1zM697 346v1h1v-1zM698 346v1h1v-1zM699 346v1h1v-1zM700 346v1h1v-1zM701 346v1h1v-1zM702 346v1h1v-1zM703 346v1h1v-1zM704 346v1h1v-1zM705 346v1h1v-1zM706 346v1h1v-1zM707 346v1h1v-1zM708 346v1h1v-1zM709 346v1h1v-1zM710 346v1h1v-1zM711 346v1h1v-1zM712 346v1h1v-1zM713 346v1h1v-1zM714 346v1h1v-1zM715 346v1h1v-1zM716 346v1h1v-1zM717 346v1h1v-1zM718 346v1h1v-1zM719 346v1h1v-1zM720 347v1h1v-1zM721 347v1h1v-1zM722 347v1h1v-1zM723 347v1h1v-1zM724 347v1h1v-1zM725 347v1h1v-1zM726 347v1h1v-1zM727 347v1h1v-1zM728 348v1h1v-1zM729 349v1h1v-1zM730 350v1h1v-1zM731 351v1h1v-1zM732 352v1h1v-1zM733 352v1h1v-1zM734 353v1h1v-1zM735 354v1h1v-1zM736 355v1h1v-1zM737 356v1h1v-1zM738 357v1h1v-1zM739 357v1h1v-1zM740 358v1h1v-1zM741 359v1h1v-1zM742 360v1h1v-1zM743 361v1h1v-1zM744 361v1h1v-1zM745 362v1h1v-1zM746 363v1h1v-1zM747 364v1h1v-1zM748 365v1h1v-1zM749 365v1h1v-1zM750 366v1h1v-1zM751 367v1h1v-1zM752 368v1h1v-1zM753 369v1h1v-1zM754 370v1h1v-1zM755 370v1h1v-1zM756 371v1h1v-1zM757 372v1h1v-1zM758 373v1h1v-1zM759 374v1h1v-1zM760 374v1h1v-1zM761 375v1h1v-1zM762 376v1h1v-1zM763 377v1h1v-1zM764 378v1h1v-1zM765 378v1h1v-1zM766 379v1h1v-1zM767 380v1h1v-1zM768 381v1h1v-1zM769 382v1h1v-1zM770 383v1h1v-1zM771 384v1h1v-1zM772 385v1h1v-1zM773 386v1h1v-1zM774 387v1h1v-1zM775 388v1h1v-1zM776 389v1h1v-1zM777 389v1h1v-1zM778 390v1h1v-1zM779 391v1h1v-1zM780 391v1h1v-1zM781 392v1h1v-1zM782 393v1h1v-1zM783 394v1h1v-1zM784 394v1h1v-1zM785 395v1h1v-1zM786 396v1h1v-1zM787 396v1h1v-1zM788 397v1h1v-1zM789 397v1h1v-1zM790 398v1h1v-1zM791 398v1h1v-1zM792 399v1h1v-1zM793 399v1h1v-1zM794 400v1h1v-1zM795 400v1h1v-1zM796 401v1h1v-1zM797 402v1h1v-1zM798 402v1h1v-1zM799 403v1h1v-1zM800 404v1h1v-1zM801 404v1h1v-1zM802 405v1h1v-1zM803 406v1h1v-1zM804 406v1h1v-1zM805 406v1h1v-1zM806 407v1h1v-1zM807 407v1h1v-1zM808 408v1h1v-1zM809 408v1h1v-1zM810 408v1h1v-1zM811 409v1h1v-1zM812 409v1h1v-1zM813 410v1h1v-1zM814 410v1h1v-1zM815 410v1h1v-1zM816 411v1h1v-1zM817 411v1h1v-1zM818 411v1h1v-1zM819 411v1h1v-1zM820 411v1h1v-1zM821 411v1h1v-1zM822 411v1h1v-1zM823 412v1h1v-1zM824 412v1h1v-1zM825 412v1h1v-1zM826 412v1h1v-1zM827 412v1h1v-1zM828 412v1h1v-1zM829 412v1h1v-1zM830 412v1h1v-1zM831 413v1h1v-1zM832 413v1h1v-1zM833 413v1h1v-1zM834 413v1h1v-1zM835 414v1h1v-1zM836 414v1h1v-1zM837 414v1h1v-1zM838 414v1h1v-1zM839 415v1h1v-1zM840 415v1h1v-1zM841 415v1h1v-1zM842 415v1h1v-1zM843 416v1h1v-1zM844 416v1h1v-1zM845 416v1h1v-1zM846 416v1h1v-1zM847 416v1h1v-1zM848 416v1h1v-1zM849 416v1h1v-1zM850 416v1h1v-1zM851 416v1h1v-1zM852 416v1h1v-1zM853 416v1h1v-1zM854 416v1h1v-1zM855 416v1h1v-1zM856 416v1h1v-1zM857 416v1h1v-1zM858 416v1h1v-1zM859 416v1h1v-1zM860 416v1h1v-1zM861 416v1h1v-1zM862 416v1h1v-1zM863 416v1h1v-1zM864 416v1h1v-1zM865 415v1h1v-1zM866 415v1h1v-1zM867 415v1h1v-1zM868 415v1h1v-1zM869 415v1h1v-1zM870 414v1h1v-1zM871 414v1h1v-1zM872 414v1h1v-1zM873 414v1h1v-1zM874 414v1h1v-1zM875 414v1h1v-1zM876 414v1h1v-1zM877 413v1h1v-1zM878 413v1h1v-1zM879 413v1h1v-1zM880 413v1h1v-1zM881 413v1h1v-1zM882 413v1h1v-1zM883 413v1h1v-1zM884 412v1h1v-1zM885 412v1h1v-1zM886 412v1h1v-1zM887 412v1h1v-1zM888 412v1h1v-1zM889 412v1h1v-1zM890 412v1h1v-1zM891 413v1h1v-1zM892 413v1h1v-1zM893 413v1h1v-1zM894 414v1h1v-1zM895 414v1h1v-1zM896 415v1h1v-1zM897 415v1h1v-1zM898 415v1h1v-1zM899 416v1h1v-1zM900 416v1h1v-1zM901 416v1h1v-1zM902 417v1h1v-1zM903 417v1h1v-1zM904 417v1h1v-1zM905 418v1h1v-1zM906 418v1h1v-1zM907 419v1h1v-1zM908 419v1h1v-1zM909 419v1h1v-1zM910 420v1h1v-1zM911 420v1h1v-1zM912 421v1h1v-1zM913 421v1h1v-1zM914 421v1h1v-1zM915 422v1h1v-1zM916 422v1h1v-1zM917 423v1h1v-1zM918 423v1h1v-1zM919 424v1h1v-1zM920 424v1h1v-1zM921 424v1h1v-1zM922 425v1h1v-1zM923 425v1h1v-1zM924 426v1h1v-1zM925 426v1h1v-1zM926 427v1h1v-1zM927 427v1h1v-1zM928 427v1h1v-1zM929 428v1h1v-1zM930 428v1h1v-1zM931 429v1h1v-1zM932 429v1h1v-1zM933 429v1h1v-1zM934 430v1h1v-1zM935 430v1h1v-1zM936 431v1h1v-1zM937 431v1h1v-1zM938 431v1h1v-1zM939 432v1h1v-1zM940 432v1h1v-1zM941 433v1h1v-1zM942 434v1h1v-1zM943 434v1h1v-1zM944 435v1h1v-1zM945 435v1h1v-1zM946 436v1h1v-1zM947 436v1h1v-1zM948 437v1h1v-1zM949 437v1h1v-1zM950 438v1h1v-1zM951 439v1h1v-1zM952 439v1h1v-1zM953 440v1h1v-1zM954 440v1h1v-1zM955 441v1h1v-1zM956 441v1h1v-1zM957 442v1h1v-1zM958 442v1h1v-1zM959 443v1h1v-1zM960 443v1h1v-1zM961 444v1h1v-1zM962 444v1h1v-1zM963 445v1h1v-1zM964 445v1h1v-1zM965 446v1h1v-1zM966 446v1h1v-1zM967 446v1h1v-1zM968 446v1h1v-1zM969 447v1h1v-1zM970 447v1h1v-1zM971 447v1h1v-1zM972 447v1h1v-1zM973 448v1h1v-1zM974 448v1h1v-1zM975 448v1h1v-1zM976 448v1h1v-1zM977 449v1h1v-1zM978 449v1h1v-1zM979 449v1h1v-1zM980 449v1h1v-1zM981 450v1h1v-1zM982 450v1h1v-1zM983 450v1h1v-1zM984 451v1h1v-1zM985 451v1h1v-1zM986 451v1h1v-1zM987 451v1h1v-1zM988 452v1h1v-1zM989 452v1h1v-1zM990 452v1h1v-1zM991 453v1h1v-1zM992 453v1h1v-1zM993 453v1h1v-1zM994 454v1h1v-1zM995 454v1h1v-1zM996 454v1h1v-1zM997 455v1h1v-1zM998 455v1h1v-1zM999 456v1h1v-1zM1000 456v1h1v-1zM1001 456v1h1v-1zM1002 457v1h1v-1zM1003 457v1h1v-1zM1004 457v1h1v-1zM1005 458v1h1v-1zM1006 458v1h1v-1zM1007 459v1h1v-1zM1008 459v1h1v-1zM1009 459v1h1v-1zM1010 459v1h1v-1zM1011 459v1h1v-1zM1012 459v1h1v-1zM1013 459v1h1v-1zM1014 459v1h1v-1zM1015 460v1h1v-1zM1016 460v1h1v-1zM1017 460v1h1v-1zM1018 460v1h1v-1zM1019 460v1h1v-1zM1020 460v1h1v-1zM1021 460v1h1v-1zM1022 460v1h1v-1zM1023 460v1h1v-1zM1024 461v1h1v-1zM1025 461v1h1v-1zM1026 461v1h1v-1zM1027 461v1h1v-1zM1028 461v1h1v-1zM1029 462v1h1v-1zM1030 462v1h1v-1zM1031 462v1h1v-1zM1032 463v1h1v-1zM1033 463v1h1v-1zM1034 463v1h1v-1zM1035 464v1h1v-1zM1036 464v1h1v-1zM1037 464v1h1v-1zM1038 465v1h1v-1zM1039 465v1h1v-1zM1040 465v1h1v-1zM1041 466v1h1v-1zM1042 466v1h1v-1zM1043 467v1h1v-1zM1044 467v1h1v-1zM1045 467v1h1v-1zM1046 468v1h1v-1zM1047 468v1h1v-1zM1048 469v1h1v-1zM1049 469v1h1v-1zM1050 469v1h1v-1zM1051 470v1h1v-1zM1052 470v1h1v-1zM1053 471v1h1v-1zM1054 471v1h1v-1zM1055 471v1h1v-1zM1056 472v1h1v-1zM1057 472v1h1v-1zM1058 472v1h1v-1zM1059 472v1h1v-1zM1060 472v1h1v-1zM1061 472v1h1v-1zM1062 473v1h1v-1zM1063 473v1h1v-1zM1064 473v1h1v-1zM1065 473v1h1v-1zM1066 473v1h1v-1zM1067 473v1h1v-1zM1068 473v1h1v-1zM1069 473v1h1v-1zM1070 473v1h1v-1zM1071 473v1h1v-1zM1072 472v1h1v-1zM1073 472v1h1v-1zM1074 472v1h1v-1zM1075 472v1h1v-1zM1076 472v1h1v-1zM1077 472v1h1v-1zM1078 472v1h1v-1zM1079 472v1h1v-1zM1080 472v1h1v-1zM1081 472v1h1v-1zM1082 472v1h1v-1zM1083 472v1h1v-1zM1084 472v1h1v-1zM1085 472v1h1v-1zM1086 472v1h1v-1zM1087 472v1h1v-1zM1088 472v1h1v-1zM1089 471v1h1v-1zM1090 471v1h1v-1zM1091 471v1h1v-1zM1092 471v1h1v-1zM1093 471v1h1v-1zM1094 471v1h1v-1zM1095 471v1h1v-1zM1096 471v1h1v-1zM1097 470v1h1v-1zM1098 470v1h1v-1zM1099 470v1h1v-1zM1100 470v1h1v-1zM1101 470v1h1v-1zM1102 470v1h1v-1zM1103 470v1h1v-1zM1104 469v1h1v-1zM1105 469v1h1v-1zM1106 469v1h1v-1zM1107 469v1h1v-1zM1108 469v1h1v-1zM1109 469v1h1v-1zM1110 469v1h1v-1zM1111 468v1h1v-1zM1112 468v1h1v-1zM1113 468v1h1v-1zM1114 468v1h1v-1zM1115 468v1h1v-1zM1116 467v1h1v-1zM1117 467v1h1v-1zM1118 467v1h1v-1zM1119 467v1h1v-1zM1120 467v1h1v-1zM1121 467v1h1v-1zM1122 466v1h1v-1zM1123 466v1h1v-1zM1124 466v1h1v-1zM1125 466v1h1v-1zM1126 466v1h1v-1zM1127 466v1h1v-1zM1128 465v1h1v-1zM1129 465v1h1v-1zM1130 465v1h1v-1zM1131 465v1h1v-1zM1132 465v1h1v-1zM1133 464v1h1v-1zM1134 464v1h1v-1zM1135 464v1h1v-1zM1136 464v1h1v-1zM1137 464v1h1v-1zM1138 464v1h1v-1zM1139 464v1h1v-1zM1140 464v1h1v-1zM1141 464v1h1v-1zM1142 464v1h1v-1zM1143 464v1h1v-1zM1144 464v1h1v-1zM1145 464v1h1v-1zM1146 464v1h1v-1zM1147 463v1h1v-1zM1148 463v1h1v-1zM1149 463v1h1v-1zM1150 463v1h1v-1zM1151 463v1h1v-1zM1152 463v1h1v-1zM1153 462v1h1v-1zM1154 462v1h1v-1zM1155 461v1h1v-1zM1156 461v1h1v-1zM1157 461v1h1v-1zM1158 460v1h1v-1zM1159 460v1h1v-1zM1160 460v1h1v-1zM1161 460v1h1v-1zM1162 460v1h1v-1zM1163 460v1h1v-1zM1164 460v1h1v-1zM1165 460v1h1v-1zM1166 460v1h1v-1zM1167 460v1h1v-1zM1168 460v1h1v-1zM1169 460v1h1v-1zM1170 460v1h1v-1zM1171 459v1h1v-1zM1172 459v1h1v-1zM1173 459v1h1v-1zM1174 459v1h1v-1zM1175 459v1h1v-1zM1176 459v1h1v-1zM1177 459v1h1v-1zM1178 459v1h1v-1zM1179 459v1h1v-1zM1180 459v1h1v-1zM1181 459v1h1v-1zM1182 459v1h1v-1zM1183 458v1h1v-1zM1184 458v1h1v-1zM1185 457v1h1v-1zM1186 457v1h1v-1zM1187 456v1h1v-1zM1188 456v1h1v-1zM1189 455v1h1v-1zM1190 455v1h1v-1zM1191 454v1h1v-1zM1192 454v1h1v-1zM1193 453v1h1v-1zM1194 453v1h1v-1zM1195 452v1h1v-1zM1196 452v1h1v-1zM1197 452v1h1v-1zM1198 451v1h1v-1zM1199 451v1h1v-1zM1200 451v1h1v-1zM1201 450v1h1v-1zM1202 450v1h1v-1zM1203 450v1h1v-1zM1204 449v1h1v-1zM1205 449v1h1v-1zM1206 449v1h1v-1zM1207 449v1h1v-1zM1208 449v1h1v-1zM1209 449v1h1v-1zM1210 449v1h1v-1zM1211 450v1h1v-1zM1212 450v1h1v-1zM1213 450v1h1v-1zM1214 450v1h1v-1zM1215 450v1h1v-1zM1216 450v1h1v-1zM1217 450v1h1v-1zM1218 450v1h1v-1zM1219 450v1h1v-1zM1220 450v1h1v-1zM1221 450v1h1v-1zM1222 450v1h1v-1zM1223 450v1h1v-1zM1224 450v1h1v-1zM1225 450v1h1v-1zM1226 450v1h1v-1zM1227 450v1h1v-1zM1228 450v1h1v-1zM1229 450v1h1v-1zM1230 450v1h1v-1zM1231 450v1h1v-1zM1232 450v1h1v-1zM1233 450v1h1v-1zM1234 450v1h1v-1zM1235 450v1h1v-1zM1236 450v1h1v-1zM1237 450v1h1v-1zM1238 451v1h1v-1zM1239 451v1h1v-1zM1240 451v1h1v-1zM1241 451v1h1v-1zM1242 451v1h1v-1zM1243 451v1h1v-1zM1244 451v1h1v-1zM1245 451v1h1v-1zM1246 451v1h1v-1zM1247 451v1h1v-1zM1248 452v1h1v-1zM1249 452v1h1v-1zM1250 452v1h1v-1zM1251 452v1h1v-1zM1252 452v1h1v-1zM1253 452v1h1v-1zM1254 452v1h1v-1zM1255 453v1h1v-1zM1256 453v1h1v-1zM1257 453v1h1v-1zM1258 453v1h1v-1zM1259 452v1h1v-1zM1260 452v1h1v-1zM1261 452v1h1v-1zM1262 452v1h1v-1zM1263 452v1h1v-1zM1264 452v1h1v-1zM1265 452v1h1v-1zM1266 452v1h1v-1zM1267 452v1h1v-1zM1268 452v1h1v-1zM1269 452v1h1v-1zM1270 452v1h1v-1zM1271 452v1h1v-1zM1272 453v1h1v-1zM1273 453v1h1v-1zM1274 453v1h1v-1zM1275 453v1h1v-1zM1276 454v1h1v-1zM1277 454v1h1v-1zM1278 455v1h1v-1zM1279 455v1h1v-1zM1280 455v1h1v-1zM1281 456v1h1v-1zM1282 456v1h1v-1zM1283 457v1h1v-1zM1284 457v1h1v-1zM1285 457v1h1v-1zM1286 457v1h1v-1zM1287 457v1h1v-1zM1288 457v1h1v-1zM1289 457v1h1v-1zM1290 457v1h1v-1zM1291 457v1h1v-1zM1292 457v1h1v-1zM1293 457v1h1v-1zM1294 458v1h1v-1zM1295 458v1h1v-1zM1296 458v1h1v-1zM1297 459v1h1v-1zM1298 459v1h1v-1zM1299 459v1h1v-1zM1300 459v1h1v-1zM1301 460v1h1v-1zM1302 460v1h1v-1zM1303 460v1h1v-1zM1304 461v1h1v-1zM1305 462v1h1v-1zM1306 462v1h1v-1zM1307 463v1h1v-1zM1308 464v1h1v-1zM1309 465v1h1v-1zM1310 465v1h1v-1zM1311 466v1h1v-1zM1312 467v1h1v-1zM1313 467v1h1v-1zM1314 468v1h1v-1zM1315 469v1h1v-1zM1316 469v1h1v-1zM1317 470v1h1v-1zM1318 470v1h1v-1zM1319 471v1h1v-1zM1320 472v1h1v-1zM1321 472v1h1v-1z" fill="#0000cd" shape-rendering="crispEdges"/>
<path d="M0 159v1h1v-1zM1 158v1h1v-1zM2 157v1h1v-1zM3 155v2h1v-2zM4 154v1h1v-1zM5 153v1h1v-1zM6 152v1h1v-1zM7 151v1h1v-1zM8 150v1h1v-1zM9 149v1h1v-1zM10 148v1h1v-1zM11 147v1h1v-1zM12 146v1h1v-1zM13 145v1h1v-1zM14 144v1h1v-1zM15 143v1h1v-1zM16 142v1h1v-1zM17 141v1h1v-1zM18 140v1h1v-1zM19 139v1h1v-1zM20 138v1h1v-1zM21 137v1h1v-1zM22 137v1h1v-1zM23 136v1h1v-1zM24 135v1h1v-1zM25 134v1h1v-1zM26 133v1h1v-1zM27 133v1h1v-1zM28 132v1h1v-1zM29 131v1h1v-1zM30 130v1h1v-1zM31 130v1h1v-1zM32 129v1h1v-1zM33 128v1h1v-1zM34 128v1h1v-1zM35 127v1h1v-1zM36 127v1h1v-1zM37 126v1h1v-1zM38 125v1h1v-1zM39 125v1h1v-1zM40 124v1h1v-1zM41 123v1h1v-1zM42 123v1h1v-1zM43 122v1h1v-1zM44 122v1h1v-1zM45 121v1h1v-1zM46 120v1h1v-1zM47 120v1h1v-1zM48 120v1h1v-1zM49 119v1h1v-1zM50 119v1h1v-1zM51 118v1h1v-1zM52 118v1h1v-1zM53 118v1h1v-1zM54 117v1h1v-1zM55 117v1h1v-1zM56 117v1h1v-1zM57 117v1h1v-1zM58 117v1h1v-1zM59 117v1h1v-1zM60 117v1h1v-1zM61 117v1h1v-1zM62 117v1h1v-1zM63 117v1h1v-1zM64 116v1h1v-1zM65 116v1h1v-1zM66 116v1h1v-1zM67 115v1h1v-1zM68 115v1h1v-1zM69 114v1h1v-1zM70 114v1h1v-1zM71 114v1h1v-1zM72 113v1h1v-1zM73 113v1h1v-1zM74 113v1h1v-1zM75 112v1h1v-1zM76 112v1h1v-1zM77 112v1h1v-1zM78 111v1h1v-1zM79 111v1h1v-1zM80 110v1h1v-1zM81 110v1h1v-1zM82 110v1h1v-1zM83 109v1h1v-1zM84 109v1h1v-1zM85 109v1h1v-1zM86 108v1h1v-1zM87 107v1h1v-1zM88 107v1h1v-1zM89 106v1h1v-1zM90 106v1h1v-1zM91 105v1h1v-1zM92 104v1h1v-1zM93 104v1h1v-1zM94 103v1h1v-1zM95 103v1h1v-1zM96 102v1h1v-1zM97 101v1h1v-1zM98 101v1h1v-1zM99 100v1h1v-1zM100 100v1h1v-1zM101 99v1h1v-1zM102 99v1h1v-1zM103 98v1h1v-1zM104 98v1h1v-1zM105 97v1h1v-1zM106 96v1h1v-1zM107 95v1h1v-1zM108 94v1h1v-1zM109 93v1h1v-1zM110 92v1h1v-1zM111 91v1h1v-1zM112 90v1h1v-1zM113 89v1h1v-1zM114 88v1h1v-1zM115 87v1h1v-1zM116 86v1h1v-1zM117 85v1h1v-1zM118 84v1h1v-1zM119 83v1h1v-1zM120 83v1h1v-1zM121 83v1h1v-1zM122 83v1h1v-1zM123 83v1h1v-1zM124 83v1h1v-1zM125 83v1h1v-1zM126 83v1h1v-1zM127 83v1h1v-1zM128 84v1h1v-1zM129 84v1h1v-1zM130 84v1h1v-1zM131 84v1h1v-1zM132 85v1h1v-1zM133 85v1h1v-1zM134 85v1h1v-1zM135 85v1h1v-1zM136 85v1h1v-1zM137 85v1h1v-1zM138 85v1h1v-1zM139 85v1h1v-1zM140 85v1h1v-1zM141 85v1h1v-1zM142 85v1h1v-1zM143 85v1h1v-1zM144 85v1h1v-1zM145 85v1h1v-1zM146 85v1h1v-1zM147 85v1h1v-1zM148 85v1h1v-1zM149 85v1h1v-1zM150 85v1h1v-1zM151 86v1h1v-1zM152 87v1h1v-1zM153 88v2h1v-2zM154 90v1h1v-1zM155 91v1h1v-1zM156 92v1h1v-1zM157 93v1h1v-1zM158 94v1h1v-1zM159 95v1h1v-1zM160 96v1h1v-1zM161 97v1h1v-1zM162 98v1h1v-1zM163 99v1h1v-1zM164 100v2h1v-2zM165 102v1h1v-1zM166 103v1h1v-1zM167 104v1h1v-1zM168 105v1h1v-1zM169 106v1h1v-1zM170 107v1h1v-1zM171 108v1h1v-1zM172 109v1h1v-1zM173 110v2h1v-2zM174 112v1h1v-1zM175 113v2h1v-2zM176 115v2h1v-2zM177 117v1h1v-1zM178 118v2h1v-2zM179 120v1h1v-1zM180 121v2h1v-2zM181 123v2h1v-2zM182 125v1h1v-1zM183 126v2h1v-2zM184 128v1h1v-1zM185 129v2h1v-2zM186 131v1h1v-1zM187 132v2h1v-2zM188 134v1h1v-1zM189 135v2h1v-2zM190 137v1h1v-1zM191 138v2h1v-2zM192 140v2h1v-2zM193 142v2h1v-2zM194 144v2h1v-2zM195 146v2h1v-2zM196 148v2h1v-2zM197 150v1h1v-1zM198 151v2h1v-2zM199 153v2h1v-2zM200 155v2h1v-2zM201 157v2h1v-2zM202 159v2h1v-2zM203 161v2h1v-2zM204 163v2h1v-2zM205 165v2h1v-2zM206 167v2h1v-2zM207 169v2h1v-2zM208 171v1h1v-1zM209 172v1h1v-1zM210 173v1h1v-1zM211 174v1h1v-1zM212 175v1h1v-1zM213 176v1h1v-1zM214 177v1h1v-1zM215 178v1h1v-1zM216 179v1h1v-1zM217 180v1h1v-1zM218 181v1h1v-1zM219 182v2h1v-2zM220 184v2h1v-2zM221 186v2h1v-2zM222 188v2h1v-2zM223 190v2h1v-2zM224 192v1h1v-1zM225 193v2h1v-2zM226 195v2h1v-2zM227 197v2h1v-2zM228 199v1h1v-1zM229 200v1h1v-1zM230 201v2h1v-2zM231 203v1h1v-1zM232 204v2h1v-2zM233 206v1h1v-1zM234 207v2h1v-2zM235 209v1h1v-1zM236 210v1h1v-1zM237 211v1h1v-1zM238 212v1h1v-1zM239 213v1h1v-1zM240 214v1h1v-1zM241 214v1h1v-1zM242 215v1h1v-1zM243 216v1h1v-1zM244 217v1h1v-1zM245 217v1h1v-1zM246 218v1h1v-1zM247 219v1h1v-1zM248 219v1h1v-1zM249 220v1h1v-1zM250 220v1h1v-1zM251 221v1h1v-1zM252 221v1h1v-1zM253 222v1h1v-1zM254 223v1h1v-1zM255 223v1h1v-1zM256 224v1h1v-1zM257 224v1h1v-1zM258 225v1h1v-1zM259 225v1h1v-1zM260 225v1h1v-1zM261 226v1h1v-1zM262 226v1h1v-1zM263 226v1h1v-1zM264 227v1h1v-1zM265 227v1h1v-1zM266 228v1h1v-1zM267 229v1h1v-1zM268 230v1h1v-1zM269 231v1h1v-1zM270 232v1h1v-1zM271 233v1h1v-1zM272 234v1h1v-1zM273 235v2h1v-2zM274 237v1h1v-1zM275 238v1h1v-1zM276 239v1h1v-1zM277 240v1h1v-1zM278 240v1h1v-1zM279 240v1h1v-1zM280 240v1h1v-1zM281 241v1h1v-1zM282 241v1h1v-1zM283 241v1h1v-1zM284 241v1h1v-1zM285 242v1h1v-1zM286 242v1h1v-1zM287 242v1h1v-1zM288 242v1h1v-1zM289 242v1h1v-1zM290 242v1h1v-1zM291 242v1h1v-1zM292 242v1h1v-1zM293 242v1h1v-1zM294 242v1h1v-1zM295 242v1h1v-1zM296 242v1h1v-1zM297 242v1h1v-1zM298 243v1h1v-1zM299 244v1h1v-1zM300 245v1h1v-1zM301 246v1h1v-1zM302 247v1h1v-1zM303 247v1h1v-1zM304 248v1h1v-1zM305 249v1h1v-1zM306 250v1h1v-1zM307 251v1h1v-1zM308 251v1h1v-1zM309 252v1h1v-1zM310 253v1h1v-1zM311 253v1h1v-1zM312 254v1h1v-1zM313 255v1h1v-1zM314 255v1h1v-1zM315 256v1h1v-1zM316 257v1h1v-1zM317 257v1h1v-1zM318 258v1h1v-1zM319 259v1h1v-1zM320 259v1h1v-1zM321 259v1h1v-1zM322 260v1h1v-1zM323 260v1h1v-1zM324 260v1h1v-1zM325 261v1h1v-1zM326 261v1h1v-1zM327 260v1h1v-1zM328 260v1h1v-1zM329 260v1h1v-1zM330 260v1h1v-1zM331 260v1h1v-1zM332 260v1h1v-1zM333 259v1h1v-1zM334 259v1h1v-1zM335 259v1h1v-1zM336 259v1h1v-1zM337 259v1h1v-1zM338 259v1h1v-1zM339 259v1h1v-1zM340 259v1h1v-1zM341 260v1h1v-1zM342 260v1h1v-1zM343 260v1h1v-1zM344 260v1h1v-1zM345 261v1h1v-1zM346 261v1h1v-1zM347 261v1h1v-1zM348 261v1h1v-1zM349 262v1h1v-1zM350 262v1h1v-1zM351 262v1h1v-1zM352 263v1h1v-1zM353 263v1h1v-1zM354 263v1h1v-1zM355 263v1h1v-1zM356 263v1h1v-1zM357 263v1h1v-1zM358 262v1h1v-1zM359 262v1h1v-1zM360 262v1h1v-1zM361 262v1h1v-1zM362 262v1h1v-1zM363 262v1h1v-1zM364 262v1h1v-1zM365 262v1h1v-1zM366 262v1h1v-1zM367 262v1h1v-1zM368 262v1h1v-1zM369 262v1h1v-1zM370 262v1h1v-1zM371 262v1h1v-1zM372 262v1h1v-1zM373 263v1h1v-1zM374 263v1h1v-1zM375 263v1h1v-1zM376 264v1h1v-1zM377 264v1h1v-1zM378 264v1h1v-1zM379 265v1h1v-1zM380 265v1h1v-1zM381 265v1h1v-1zM382 266v1h1v-1zM383 266v1h1v-1zM384 267v1h1v-1zM385 268v1h1v-1zM386 269v1h1v-1zM387 270v1h1v-1zM388 271v1h1v-1zM389 272v1h1v-1zM390 273v2h1v-2zM391 275v1h1v-1zM392 276v1h1v-1zM393 277v1h1v-1zM394 278v2h1v-2zM395 280v1h1v-1zM396 281v1h1v-1zM397 282v1h1v-1zM398 283v1h1v-1zM399 284v1h1v-1zM400 285v1h1v-1zM401 286v1h1v-1zM402 287v1h1v-1zM403 288v1h1v-1zM404 289v1h1v-1zM405 290v1h1v-1zM406 291v1h1v-1zM407 292v1h1v-1zM408 293v1h1v-1zM409 294v1h1v-1zM410 295v1h1v-1zM411 296v2h1v-2zM412 298v1h1v-1zM413 299v1h1v-1zM414 300v1h1v-1zM415 301v1h1v-1zM416 302v1h1v-1zM417 303v1h1v-1zM418 304v1h1v-1zM419 305v1h1v-1zM420 305v1h1v-1zM421 306v1h1v-1zM422 306v1h1v-1zM423 307v1h1v-1zM424 307v1h1v-1zM425 308v1h1v-1zM426 308v1h1v-1zM427 309v1h1v-1zM428 309v1h1v-1zM429 310v1h1v-1zM430 311v1h1v-1zM431 311v1h1v-1zM432 312v1h1v-1zM433 312v1h1v-1zM434 313v1h1v-1zM435 314v1h1v-1zM436 314v1h1v-1zM437 315v1h1v-1zM438 316v1h1v-1zM439 316v1h1v-1zM440 317v1h1v-1zM441 316v1h1v-1zM442 316v1h1v-1zM443 316v1h1v-1zM444 315v1h1v-1zM445 315v1h1v-1zM446 315v1h1v-1zM447 314v1h1v-1zM448 314v1h1v-1zM449 314v1h1v-1zM450 314v1h1v-1zM451 313v1h1v-1zM452 313v1h1v-1zM453 313v1h1v-1zM454 313v1h1v-1zM455 313v1h1v-1zM456 313v1h1v-1zM457 312v1h1v-1zM458 312v1h1v-1zM459 312v1h1v-1zM460 312v1h1v-1zM461 312v1h1v-1zM462 312v1h1v-1zM463 311v1h1v-1zM464 311v1h1v-1zM465 311v1h1v-1zM466 310v1h1v-1zM467 310v1h1v-1zM468 309v1h1v-1zM469 309v1h1v-1zM470 309v1h1v-1zM471 308v1h1v-1zM472 308v1h1v-1zM473 308v1h1v-1zM474 308v1h1v-1zM475 308v1h1v-1zM476 308v1h1v-1zM477 308v1h1v-1zM478 308v1h1v-1zM479 308v1h1v-1zM480 308v1h1v-1zM481 308v1h1v-1zM482 308v1h1v-1zM483 308v1h1v-1zM484 308v1h1v-1zM485 308v1h1v-1zM486 309v1h1v-1zM487 309v1h1v-1zM488 309v1h1v-1zM489 309v1h1v-1zM490 309v1h1v-1zM491 309v1h1v-1zM492 309v1h1v-1zM493 309v1h1v-1zM494 310v1h1v-1zM495 310v1h1v-1zM496 311v1h1v-1zM497 311v1h1v-1zM498 312v1h1v-1zM499 312v1h1v-1zM500 313v1h1v-1zM501 313v1h1v-1zM502 314v1h1v-1zM503 314v1h1v-1zM504 315v1h1v-1zM505 315v1h1v-1zM506 316v1h1v-1zM507 316v1h1v-1zM508 316v1h1v-1zM509 317v1h1v-1zM510 317v1h1v-1zM511 317v1h1v-1zM512 317v1h1v-1zM513 318v1h1v-1zM514 318v1h1v-1zM515 318v1h1v-1zM516 318v1h1v-1zM517 319v1h1v-1zM518 319v1h1v-1zM519 320v1h1v-1zM520 320v1h1v-1zM521 320v1h1v-1zM522 321v1h1v-1zM523 321v1h1v-1zM524 321v1h1v-1zM525 322v1h1v-1zM526 322v1h1v-1zM527 322v1h1v-1zM528 322v1h1v-1zM529 323v1h1v-1zM530 323v1h1v-1zM531 324v1h1v-1zM532 324v1h1v-1zM533 325v1h1v-1zM534 325v1h1v-1zM535 326v1h1v-1zM536 326v1h1v-1zM537 326v1h1v-1zM538 326v1h1v-1zM539 326v1h1v-1zM540 327v1h1v-1zM541 327v1h1v-1zM542 327v1h1v-1zM543 327v1h1v-1zM544 327v1h1v-1zM545 327v1h1v-1zM546 328v1h1v-1zM547 328v1h1v-1zM548 328v1h1v-1zM549 327v1h1v-1zM550 327v1h1v-1zM551 326v1h1v-1zM552 326v1h1v-1zM553 326v1h1v-1zM554 325v1h1v-1zM555 325v1h1v-1zM556 325v1h1v-1zM557 324v1h1v-1zM558 324v1h1v-1zM559 324v1h1v-1zM560 324v1h1v-1zM561 325v1h1v-1zM562 325v1h1v-1zM563 325v1h1v-1zM564 325v1h1v-1zM565 326v1h1v-1zM566 326v1h1v-1zM567 327v1h1v-1zM568 328v1h1v-1zM569 329v1h1v-1zM570 330v1h1v-1zM571 331v1h1v-1zM572 332v1h1v-1zM573 333v1h1v-1zM574 333v1h1v-1zM575 334v1h1v-1zM576 335v1h1v-1zM577 335v1h1v-1zM578 336v1h1v-1zM579 337v1h1v-1zM580 337v1h1v-1zM581 338v1h1v-1zM582 339v1h1v-1zM583 340v1h1v-1zM584 340v1h1v-1zM585 341v1h1v-1zM586 342v1h1v-1zM587 342v1h1v-1zM588 343v1h1v-1zM589 344v1h1v-1zM590 345v1h1v-1zM591 346v1h1v-1zM592 347v1h1v-1zM593 347v1h1v-1zM594 348v1h1v-1zM595 349v1h1v-1zM596 350v1h1v-1zM597 351v1h1v-1zM598 352v1h1v-1zM599 352v1h1v-1zM600 353v1h1v-1zM601 354v1h1v-1zM602 355v1h1v-1zM603 356v1h1v-1zM604 357v1h1v-1zM605 357v1h1v-1zM606 358v1h1v-1zM607 359v1h1v-1zM608 360v1h1v-1zM609 360v1h1v-1zM610 361v1h1v-1zM611 361v1h1v-1zM612 362v1h1v-1zM613 363v1h1v-1zM614 363v1h1v-1zM615 363v1h1v-1zM616 363v1h1v-1zM617 363v1h1v-1zM618 363v1h1v-1zM619 363v1h1v-1zM620 363v1h1v-1zM621 363v1h1v-1zM622 362v1h1v-1zM623 362v1h1v-1zM624 361v1h1v-1zM625 360v1h1v-1zM626 360v1h1v-1zM627 359v1h1v-1zM628 358v1h1v-1zM629 358v1h1v-1zM630 358v1h1v-1zM631 357v1h1v-1zM632 357v1h1v-1zM633 357v1h1v-1zM634 357v1h1v-1zM635 357v1h1v-1zM636 357v1h1v-1zM637 356v1h1v-1zM638 356v1h1v-1zM639 356v1h1v-1zM640 355v1h1v-1zM641 355v1h1v-1zM642 355v1h1v-1zM643 354v1h1v-1zM644 354v1h1v-1zM645 353v1h1v-1zM646 353v1h1v-1zM647 353v1h1v-1zM648 352v1h1v-1zM649 351v1h1v-1zM650 350v1h1v-1zM651 349v1h1v-1zM652 348v1h1v-1zM653 347v1h1v-1zM654 346v1h1v-1zM655 345v1h1v-1zM656 345v1h1v-1zM657 344v1h1v-1zM658 343v1h1v-1zM659 342v1h1v-1zM660 342v1h1v-1zM661 341v1h1v-1zM662 340v1h1v-1zM663 340v1h1v-1zM664 339v1h1v-1zM665 339v1h1v-1zM666 339v1h1v-1zM667 339v1h1v-1zM668 339v1h1v-1zM669 339v1h1v-1zM670 339v1h1v-1zM671 339v1h1v-1zM672 339v1h1v-1zM673 339v1h1v-1zM674 339v1h1v-1zM675 338v1h1v-1zM676 338v1h1v-1zM677 338v1h1v-1zM678 338v1h1v-1zM679 338v1h1v-1zM680 338v1h1v-1zM681 338v1h1v-1zM682 338v1h1v-1zM683 337v1h1v-1zM684 337v1h1v-1zM685 337v1h1v-1zM686 337v1h1v-1zM687 337v1h1v-1zM688 337v1h1v-1zM689 336v1h1v-1zM690 336v1h1v-1zM691 336v1h1v-1zM692 335v1h1v-1zM693 335v1h1v-1zM694 334v1h1v-1zM695 334v1h1v-1zM696 334v1h1v-1zM697 334v1h1v-1zM698 334v1h1v-1zM699 334v1h1v-1zM700 334v1h1v-1zM701 334v1h1v-1zM702 335v1h1v-1zM703 336v1h1v-1zM704 337v1h1v-1zM705 338v1h1v-1zM706 339v1h1v-1zM707 340v1h1v-1zM708 341v1h1v-1zM709 342v1h1v-1zM710 342v1h1v-1zM711 343v1h1v-1zM712 344v1h1v-1zM713 344v1h1v-1zM714 345v1h1v-1zM715 346v1h1v-1zM716 347v1h1v-1zM717 348v1h1v-1zM718 349v1h1v-1zM719 349v1h1v-1zM720 350v1h1v-1zM721 351v1h1v-1zM722 352v1h1v-1zM723 353v1h1v-1zM724 354v1h1v-1zM725 355v2h1v-2zM726 357v1h1v-1zM727 358v2h1v-2zM728 360v2h1v-2zM729 362v2h1v-2zM730 364v1h1v-1zM731 365v2h1v-2zM732 367v2h1v-2zM733 369v2h1v-2zM734 371v1h1v-1zM735 372v2h1v-2zM736 374v2h1v-2zM737 376v2h1v-2zM738 378v2h1v-2zM739 380v2h1v-2zM740 382v1h1v-1zM741 383v2h1v-2zM742 385v2h1v-2zM743 387v2h1v-2zM744 389v2h1v-2zM745 391v2h1v-2zM746 393v2h1v-2zM747 395v2h1v-2zM748 397v2h1v-2zM749 399v2h1v-2zM750 401v2h1v-2zM751 403v2h1v-2zM752 405v2h1v-2zM753 407v2h1v-2zM754 409v2h1v-2zM755 411v1h1v-1zM756 412v1h1v-1zM757 413v2h1v-2zM758 415v1h1v-1zM759 416v1h1v-1zM760 417v2h1v-2zM761 419v1h1v-1zM762 420v1h1v-1zM763 421v1h1v-1zM764 422v2h1v-2zM765 424v1h1v-1zM766 425v1h1v-1zM767 426v1h1v-1zM768 427v1h1v-1zM769 428v1h1v-1zM770 429v1h1v-1zM771 430v1h1v-1zM772 430v1h1v-1zM773 431v1h1v-1zM774 431v1h1v-1zM775 432v1h1v-1zM776 432v2h1v-2zM777 434v1h1v-1zM778 435v1h1v-1zM779 436v1h1v-1zM780 437v2h1v-2zM781 439v1h1v-1zM782 439v1h1v-1zM783 439v1h1v-1zM784 439v1h1v-1zM785 439v1h1v-1zM786 438v1h1v-1zM787 437v1h1v-1zM788 437v1h1v-1zM789 436v1h1v-1zM790 435v1h1v-1zM791 435v1h1v-1zM792 434v1h1v-1zM793 434v1h1v-1zM794 434v1h1v-1zM795 433v1h1v-1zM796 433v1h1v-1zM797 432v1h1v-1zM798 431v1h1v-1zM799 430v1h1v-1zM800 430v1h1v-1zM801 429v1h1v-1zM802 428v1h1v-1zM803 427v1h1v-1zM804 426v1h1v-1zM805 425v1h1v-1zM806 423v2h1v-2zM807 422v1h1v-1zM808 421v1h1v-1zM809 419v2h1v-2zM810 418v1h1v-1zM811 417v1h1v-1zM812 415v2h1v-2zM813 414v1h1v-1zM814 413v1h1v-1zM815 412v1h1v-1zM816 410v2h1v-2zM817 409v1h1v-1zM818 408v1h1v-1zM819 407v1h1v-1zM820 405v2h1v-2zM821 404v1h1v-1zM822 403v1h1v-1zM823 402v1h1v-1zM824 401v1h1v-1zM825 400v1h1v-1zM826 399v1h1v-1zM827 398v1h1v-1zM828 397v1h1v-1zM829 397v1h1v-1zM830 396v1h1v-1zM831 395v1h1v-1zM832 395v1h1v-1zM833 394v1h1v-1zM834 393v1h1v-1zM835 393v1h1v-1zM836 393v1h1v-1zM837 393v1h1v-1zM838 393v1h1v-1zM839 393v1h1v-1zM840 393v1h1v-1zM841 393v1h1v-1zM842 393v1h1v-1zM843 393v1h1v-1zM844 393v1h1v-1zM845 393v1h1v-1zM846 393v1h1v-1zM847 394v1h1v-1zM848 395v1h1v-1zM849 395v1h1v-1zM850 396v1h1v-1zM851 396v1h1v-1zM852 397v1h1v-1zM853 397v1h1v-1zM854 397v1h1v-1zM855 398v1h1v-1zM856 398v1h1v-1zM857 399v1h1v-1zM858 400v1h1v-1zM859 401v1h1v-1zM860 402v1h1v-1zM861 403v1h1v-1zM862 404v1h1v-1zM863 405v2h1v-2zM864 407v1h1v-1zM865 408v1h1v-1zM866 409v1h1v-1zM867 410v1h1v-1zM868 411v1h1v-1zM869 412v1h1v-1zM870 413v1h1v-1zM871 414v2h1v-2zM872 416v1h1v-1zM873 417v1h1v-1zM874 417v1h1v-1zM875 418v1h1v-1zM876 419v1h1v-1zM877 420v1h1v-1zM878 420v1h1v-1zM879 421v1h1v-1zM880 422v1h1v-1zM881 422v1h1v-1zM882 423v1h1v-1zM883 423v1h1v-1zM884 424v1h1v-1zM885 425v1h1v-1zM886 425v1h1v-1zM887 426v1h1v-1zM888 426v1h1v-1zM889 427v1h1v-1zM890 428v2h1v-2zM891 430v1h1v-1zM892 431v1h1v-1zM893 432v2h1v-2zM894 434v1h1v-1zM895 435v1h1v-1zM896 436v2h1v-2zM897 438v1h1v-1zM898 438v1h1v-1zM899 439v1h1v-1zM900 440v1h1v-1zM901 440v1h1v-1zM902 441v1h1v-1zM903 441v1h1v-1zM904 442v1h1v-1zM905 443v1h1v-1zM906 443v1h1v-1zM907 444v1h1v-1zM908 445v1h1v-1zM909 445v1h1v-1zM910 446v1h1v-1zM911 447v1h1v-1zM912 448v1h1v-1zM913 448v1h1v-1zM914 448v1h1v-1zM915 448v1h1v-1zM916 448v1h1v-1zM917 448v1h1v-1zM918 448v1h1v-1zM919 448v1h1v-1zM920 448v1h1v-1zM921 448v1h1v-1zM922 448v1h1v-1zM923 448v1h1v-1zM924 448v1h1v-1zM925 448v1h1v-1zM926 448v1h1v-1zM927 448v1h1v-1zM928 448v1h1v-1zM929 448v1h1v-1zM930 447v1h1v-1zM931 447v1h1v-1zM932 447v1h1v-1zM933 447v1h1v-1zM934 446v1h1v-1zM935 446v1h1v-1zM936 446v1h1v-1zM937 446v1h1v-1zM938 446v1h1v-1zM939 446v1h1v-1zM940 446v1h1v-1zM941 446v1h1v-1zM942 446v1h1v-1zM943 446v1h1v-1zM944 446v1h1v-1zM945 446v1h1v-1zM946 446v1h1v-1zM947 446v1h1v-1zM948 446v1h1v-1zM949 446v1h1v-1zM950 446v1h1v-1zM951 446v1h1v-1zM952 446v1h1v-1zM953 446v1h1v-1zM954 446v1h1v-1zM955 446v1h1v-1zM956 447v1h1v-1zM957 447v1h1v-1zM958 447v1h1v-1zM959 447v1h1v-1zM960 448v1h1v-1zM961 448v1h1v-1zM962 448v1h1v-1zM963 448v1h1v-1zM964 449v1h1v-1zM965 449v1h1v-1zM966 449v1h1v-1zM967 448v1h1v-1zM968 448v1h1v-1zM969 448v1h1v-1zM970 448v1h1v-1zM971 448v1h1v-1zM972 448v1h1v-1zM973 448v1h1v-1zM974 448v1h1v-1zM975 449v1h1v-1zM976 449v1h1v-1zM977 449v1h1v-1zM978 449v1h1v-1zM979 450v1h1v-1zM980 451v1h1v-1zM981 451v1h1v-1zM982 452v1h1v-1zM983 453v1h1v-1zM984 454v1h1v-1zM985 455v1h1v-1zM986 456v1h1v-1zM987 457v1h1v-1zM988 458v1h1v-1zM989 459v1h1v-1zM990 460v1h1v-1zM991 461v1h1v-1zM992 462v2h1v-2zM993 464v1h1v-1zM994 464v1h1v-1zM995 465v1h1v-1zM996 465v1h1v-1zM997 466v1h1v-1zM998 466v1h1v-1zM999 467v1h1v-1zM1000 467v1h1v-1zM1001 467v1h1v-1zM1002 468v1h1v-1zM1003 468v1h1v-1zM1004 469v1h1v-1zM1005 469v1h1v-1zM1006 470v1h1v-1zM1007 470v1h1v-1zM1008 470v1h1v-1zM1009 470v1h1v-1zM1010 471v1h1v-1zM1011 471v1h1v-1zM1012 471v1h1v-1zM1013 471v1h1v-1zM1014 471v1h1v-1zM1015 472v1h1v-1zM1016 472v1h1v-1zM1017 472v1h1v-1zM1018 472v1h1v-1zM1019 472v1h1v-1zM1020 472v1h1v-1zM1021 472v1h1v-1zM1022 473v1h1v-1zM1023 473v1h1v-1zM1024 473v1h1v-1zM1025 473v1h1v-1zM1026 473v1h1v-1zM1027 474v1h1v-1zM1028 474v1h1v-1zM1029 475v1h1v-1zM1030 475v1h1v-1zM1031 476v1h1v-1zM1032 476v1h1v-1zM1033 477v1h1v-1zM1034 477v1h1v-1zM1035 478v1h1v-1zM1036 478v1h1v-1zM1037 479v1h1v-1zM1038 479v1h1v-1zM1039 479v1h1v-1zM1040 479v1h1v-1zM1041 480v1h1v-1zM1042 480v1h1v-1zM1043 480v1h1v-1zM1044 480v1h1v-1zM1045 480v1h1v-1zM1046 480v1h1v-1zM1047 480v1h1v-1zM1048 480v1h1v-1zM1049 480v1h1v-1zM1050 480v1h1v-1zM1051 480v1h1v-1zM1052 480v1h1v-1zM1053 480v1h1v-1zM1054 480v1h1v-1zM1055 480v1h1v-1zM1056 480v1h1v-1zM1057 479v1h1v-1zM1058 479v1h1v-1zM1059 478v1h1v-1zM1060 478v1h1v-1zM1061 477v1h1v-1zM1062 477v1h1v-1zM1063 476v1h1v-1zM1064 476v1h1v-1zM1065 475v1h1v-1zM1066 475v1h1v-1zM1067 475v1h1v-1zM1068 475v1h1v-1zM1069 474v1h1v-1zM1070 474v1h1v-1zM1071 474v1h1v-1zM1072 474v1h1v-1zM1073 474v1h1v-1zM1074 474v1h1v-1zM1075 474v1h1v-1zM1076 473v1h1v-1zM1077 473v1h1v-1zM1078 473v1h1v-1zM1079 472v1h1v-1zM1080 472v1h1v-1zM1081 471v1h1v-1zM1082 470v1h1v-1zM1083 469v1h1v-1zM1084 468v1h1v-1zM1085 468v1h1v-1zM1086 467v1h1v-1zM1087 466v1h1v-1zM1088 466v1h1v-1zM1089 465v1h1v-1zM1090 464v1h1v-1zM1091 463v1h1v-1zM1092 463v1h1v-1zM1093 462v1h1v-1zM1094 461v1h1v-1zM1095 461v1h1v-1zM1096 461v1h1v-1zM1097 461v1h1v-1zM1098 460v1h1v-1zM1099 460v1h1v-1zM1100 460v1h1v-1zM1101 460v1h1v-1zM1102 460v1h1v-1zM1103 459v1h1v-1zM1104 459v1h1v-1zM1105 459v1h1v-1zM1106 458v1h1v-1zM1107 458v1h1v-1zM1108 457v1h1v-1zM1109 457v1h1v-1zM1110 456v1h1v-1zM1111 456v1h1v-1zM1112 456v1h1v-1zM1113 456v1h1v-1zM1114 456v1h1v-1zM1115 456v1h1v-1zM1116 456v1h1v-1zM1117 456v1h1v-1zM1118 456v1h1v-1zM1119 456v1h1v-1zM1120 456v1h1v-1zM1121 456v1h1v-1zM1122 456v1h1v-1zM1123 456v1h1v-1zM1124 456v1h1v-1zM1125 455v1h1v-1zM1126 455v1h1v-1zM1127 455v1h1v-1zM1128 454v1h1v-1zM1129 454v1h1v-1zM1130 454v1h1v-1zM1131 454v1h1v-1zM1132 454v1h1v-1zM1133 454v1h1v-1zM1134 454v1h1v-1zM1135 454v1h1v-1zM1136 454v1h1v-1zM1137 455v1h1v-1zM1138 455v1h1v-1zM1139 456v1h1v-1zM1140 456v1h1v-1zM1141 457v1h1v-1zM1142 457v1h1v-1zM1143 458v1h1v-1zM1144 458v1h1v-1zM1145 459v1h1v-1zM1146 459v1h1v-1zM1147 460v1h1v-1zM1148 460v1h1v-1zM1149 460v1h1v-1zM1150 461v1h1v-1zM1151 461v1h1v-1zM1152 461v1h1v-1zM1153 462v1h1v-1zM1154 462v1h1v-1zM1155 461v1h1v-1zM1156 461v1h1v-1zM1157 461v1h1v-1zM1158 461v1h1v-1zM1159 461v1h1v-1zM1160 461v1h1v-1zM1161 461v1h1v-1zM1162 461v1h1v-1zM1163 461v1h1v-1zM1164 461v1h1v-1zM1165 462v1h1v-1zM1166 462v1h1v-1zM1167 462v1h1v-1zM1168 462v1h1v-1zM1169 462v1h1v-1zM1170 462v1h1v-1zM1171 462v1h1v-1zM1172 462v1h1v-1zM1173 462v1h1v-1zM1174 462v1h1v-1zM1175 462v1h1v-1zM1176 462v1h1v-1zM1177 462v1h1v-1zM1178 462v1h1v-1zM1179 461v1h1v-1zM1180 461v1h1v-1zM1181 461v1h1v-1zM1182 461v1h1v-1zM1183 460v1h1v-1zM1184 460v1h1v-1zM1185 460v1h1v-1zM1186 459v1h1v-1zM1187 458v1h1v-1zM1188 457v1h1v-1zM1189 456v1h1v-1zM1190 455v1h1v-1zM1191 454v1h1v-1zM1192 453v1h1v-1zM1193 452v1h1v-1zM1194 451v1h1v-1zM1195 449v2h1v-2zM1196 448v1h1v-1zM1197 446v2h1v-2zM1198 445v1h1v-1zM1199 444v1h1v-1zM1200 443v1h1v-1zM1201 442v1h1v-1zM1202 441v1h1v-1zM1203 441v1h1v-1zM1204 440v1h1v-1zM1205 439v1h1v-1zM1206 438v1h1v-1zM1207 438v1h1v-1zM1208 438v1h1v-1zM1209 439v1h1v-1zM1210 439v1h1v-1zM1211 439v1h1v-1zM1212 439v1h1v-1zM1213 439v1h1v-1zM1214 439v1h1v-1zM1215 439v1h1v-1zM1216 439v1h1v-1zM1217 439v1h1v-1zM1218 438v1h1v-1zM1219 438v1h1v-1zM1220 438v1h1v-1zM1221 438v1h1v-1zM1222 437v1h1v-1zM1223 437v1h1v-1zM1224 437v1h1v-1zM1225 436v1h1v-1zM1226 436v1h1v-1zM1227 436v1h1v-1zM1228 436v1h1v-1zM1229 436v1h1v-1zM1230 436v1h1v-1zM1231 436v1h1v-1zM1232 436v1h1v-1zM1233 436v1h1v-1zM1234 436v1h1v-1zM1235 436v1h1v-1zM1236 437v1h1v-1zM1237 438v1h1v-1zM1238 439v1h1v-1zM1239 439v1h1v-1zM1240 440v1h1v-1zM1241 441v2h1v-2zM1242 443v1h1v-1zM1243 444v1h1v-1zM1244 445v1h1v-1zM1245 446v1h1v-1zM1246 447v1h1v-1zM1247 448v1h1v-1zM1248 449v1h1v-1zM1249 449v1h1v-1zM1250 450v1h1v-1zM1251 451v1h1v-1zM1252 452v1h1v-1zM1253 453v1h1v-1zM1254 454v1h1v-1zM1255 455v2h1v-2zM1256 457v1h1v-1zM1257 458v1h1v-1zM1258 459v1h1v-1zM1259 460v2h1v-2zM1260 462v1h1v-1zM1261 463v1h1v-1zM1262 463v1h1v-1zM1263 463v1h1v-1zM1264 464v1h1v-1zM1265 464v1h1v-1zM1266 464v1h1v-1zM1267 465v1h1v-1zM1268 465v1h1v-1zM1269 465v1h1v-1zM1270 466v1h1v-1zM1271 466v1h1v-1zM1272 467v1h1v-1zM1273 467v1h1v-1zM1274 467v1h1v-1zM1275 468v1h1v-1zM1276 469v1h1v-1zM1277 469v1h1v-1zM1278 470v1h1v-1zM1279 471v1h1v-1zM1280 472v1h1v-1zM1281 473v1h1v-1zM1282 474v1h1v-1zM1283 475v1h1v-1zM1284 476v1h1v-1zM1285 477v1h1v-1zM1286 477v1h1v-1zM1287 477v1h1v-1zM1288 477v1h1v-1zM1289 477v1h1v-1zM1290 477v1h1v-1zM1291 478v1h1v-1zM1292 478v1h1v-1zM1293 478v1h1v-1zM1294 478v1h1v-1zM1295 478v1h1v-1zM1296 478v1h1v-1zM1297 478v1h1v-1zM1298 478v1h1v-1zM1299 479v1h1v-1zM1300 479v1h1v-1zM1301 479v1h1v-1zM1302 479v1h1v-1zM1303 480v1h1v-1zM1304 480v1h1v-1zM1305 481v1h1v-1zM1306 482v1h1v-1zM1307 482v1h1v-1zM1308 483v1h1v-1zM1309 483v1h1v-1zM1310 483v1h1v-1zM1311 483v1h1v-1zM1312 484v1h1v-1zM1313 484v1h1v-1zM1314 484v1h1v-1zM1315 484v1h1v-1zM1316 484v1h1v-1zM1317 485v1h1v-1zM1318 485v1h1v-1zM1319 485v1h1v-1zM1320 486v1h1v-1zM1321 486v1h1v-1z" fill="#ff0000" shape-rendering="crispEdges"/>
<path d="M0 146v1h1v-1zM1 144v2h1v-2zM2 143v1h1v-1zM3 142v1h1v-1zM4 140v2h1v-2zM5 139v1h1v-1zM6 137v2h1v-2zM7 136v1h1v-1zM8 134v2h1v-2zM9 132v2h1v-2zM10 131v1h1v-1zM11 129v2h1v-2zM12 128v1h1v-1zM13 126v2h1v-2zM14 124v2h1v-2zM15 123v1h1v-1zM16 121v2h1v-2zM17 119v2h1v-2zM18 118v1h1v-1zM19 116v2h1v-2zM20 115v1h1v-1zM21 115v1h1v-1zM22 114v1h1v-1zM23 114v1h1v-1zM24 113v1h1v-1zM25 113v1h1v-1zM26 112v1h1v-1zM27 112v1h1v-1zM28 112v1h1v-1zM29 112v1h1v-1zM30 113v1h1v-1zM31 113v1h1v-1zM32 113v1h1v-1zM33 113v1h1v-1zM34 113v1h1v-1zM35 113v1h1v-1zM36 113v1h1v-1zM37 113v1h1v-1zM38 113v1h1v-1zM39 113v1h1v-1zM40 114v1h1v-1zM41 114v1h1v-1zM42 115v1h1v-1zM43 115v1h1v-1zM44 116v1h1v-1zM45 116v1h1v-1zM46 116v1h1v-1zM47 117v1h1v-1zM48 117v1h1v-1zM49 118v1h1v-1zM50 118v1h1v-1zM51 119v1h1v-1zM52 119v1h1v-1zM53 120v1h1v-1zM54 120v1h1v-1zM55 120v1h1v-1zM56 120v1h1v-1zM57 120v1h1v-1zM58 120v1h1v-1zM59 120v1h1v-1zM60 120v1h1v-1zM61 120v1h1v-1zM62 120v1h1v-1zM63 120v1h1v-1zM64 120v1h1v-1zM65 119v1h1v-1zM66 118v1h1v-1zM67 116v2h1v-2zM68 115v1h1v-1zM69 113v2h1v-2zM70 112v1h1v-1zM71 111v1h1v-1zM72 109v2h1v-2zM73 108v1h1v-1zM74 106v2h1v-2zM75 104v2h1v-2zM76 103v1h1v-1zM77 101v2h1v-2zM78 100v1h1v-1zM79 98v2h1v-2zM80 97v1h1v-1zM81 95v2h1v-2zM82 94v1h1v-1zM83 92v2h1v-2zM84 91v1h1v-1zM85 90v1h1v-1zM86 89v1h1v-1zM87 88v1h1v-1zM88 88v1h1v-1zM89 87v1h1v-1zM90 87v1h1v-1zM91 87v1h1v-1zM92 88v1h1v-1zM93 88v1h1v-1zM94 88v1h1v-1zM95 89v1h1v-1zM96 89v1h1v-1zM97 90v1h1v-1zM98 90v1h1v-1zM99 90v1h1v-1zM100 89v1h1v-1zM101 89v1h1v-1zM102 89v1h1v-1zM103 88v1h1v-1zM104 88v1h1v-1zM105 87v1h1v-1zM106 87v1h1v-1zM107 86v1h1v-1zM108 86v1h1v-1zM109 85v1h1v-1zM110 84v1h1v-1zM111 82v2h1v-2zM112 81v1h1v-1zM113 80v1h1v-1zM114 78v2h1v-2zM115 77v1h1v-1zM116 76v1h1v-1zM117 74v2h1v-2zM118 73v1h1v-1zM119 72v1h1v-1zM120 71v1h1v-1zM121 70v1h1v-1zM122 71v1h1v-1zM123 72v2h1v-2zM124 74v1h1v-1zM125 75v1h1v-1zM126 76v1h1v-1zM127 77v2h1v-2zM128 79v1h1v-1zM129 80v1h1v-1zM130 81v2h1v-2zM131 83v1h1v-1zM132 84v1h1v-1zM133 85v2h1v-2zM134 87v1h1v-1zM135 88v2h1v-2zM136 90v1h1v-1zM137 91v2h1v-2zM138 93v1h1v-1zM139 94v1h1v-1zM140 95v2h1v-2zM141 97v1h1v-1zM142 96v1h1v-1zM143 95v1h1v-1zM144 94v1h1v-1zM145 94v1h1v-1zM146 93v1h1v-1zM147 92v1h1v-1zM148 91v1h1v-1zM149 91v1h1v-1zM150 92v2h1v-2zM151 94v1h1v-1zM152 95v2h1v-2zM153 97v2h1v-2zM154 99v3h1v-3zM155 102v3h1v-3zM156 105v2h1v-2zM157 107v3h1v-3zM158 110v3h1v-3zM159 113v3h1v-3zM160 116v2h1v-2zM161 118v3h1v-3zM162 121v3h1v-3zM163 124v2h1v-2zM164 126v3h1v-3zM165 129v3h1v-3zM166 132v2h1v-2zM167 134v2h1v-2zM168 136v2h1v-2zM169 138v1h1v-1zM170 139v1h1v-1zM171 138v1h1v-1zM172 138v1h1v-1zM173 138v1h1v-1zM174 138v1h1v-1zM175 138v1h1v-1zM176 139v1h1v-1zM177 140v1h1v-1zM178 141v2h1v-2zM179 143v2h1v-2zM180 145v2h1v-2zM181 147v2h1v-2zM182 149v2h1v-2zM183 151v2h1v-2zM184 153v3h1v-3zM185 156v2h1v-2zM186 158v2h1v-2zM187 160v3h1v-3zM188 163v2h1v-2zM189 165v3h1v-3zM190 168v3h1v-3zM191 171v2h1v-2zM192 173v3h1v-3zM193 176v3h1v-3zM194 179v2h1v-2zM195 181v3h1v-3zM196 184v2h1v-2zM197 186v3h1v-3zM198 189v2h1v-2zM199 191v3h1v-3zM200 194v1h1v-1zM201 195v2h1v-2zM202 197v1h1v-1zM203 198v2h1v-2zM204 200v1h1v-1zM205 201v1h1v-1zM206 201v1h1v-1zM207 202v1h1v-1zM208 202v1h1v-1zM209 203v1h1v-1zM210 203v1h1v-1zM211 204v1h1v-1zM212 204v1h1v-1zM213 205v1h1v-1zM214 205v1h1v-1zM215 205v1h1v-1zM216 205v1h1v-1zM217 205v1h1v-1zM218 205v1h1v-1zM219 205v1h1v-1zM220 205v1h1v-1zM221 205v1h1v-1zM222 206v1h1v-1zM223 207v1h1v-1zM224 208v1h1v-1zM225 209v1h1v-1zM226 210v2h1v-2zM227 212v3h1v-3zM228 215v2h1v-2zM229 217v2h1v-2zM230 219v3h1v-3zM231 222v2h1v-2zM232 224v3h1v-3zM233 227v1h1v-1zM234 228v2h1v-2zM235 230v1h1v-1zM236 231v2h1v-2zM237 233v1h1v-1zM238 234v2h1v-2zM239 236v1h1v-1zM240 237v2h1v-2zM241 239v1h1v-1zM242 238v1h1v-1zM243 238v1h1v-1zM244 237v1h1v-1zM245 237v1h1v-1zM246 236v1h1v-1zM247 236v1h1v-1zM248 235v1h1v-1zM249 235v1h1v-1zM250 234v1h1v-1zM251 234v1h1v-1zM252 234v1h1v-1zM253 234v1h1v-1zM254 233v1h1v-1zM255 233v1h1v-1zM256 233v1h1v-1zM257 233v1h1v-1zM258 232v1h1v-1zM259 232v1h1v-1zM260 232v1h1v-1zM261 232v1h1v-1zM262 232v1h1v-1zM263 232v1h1v-1zM264 233v1h1v-1zM265 234v1h1v-1zM266 235v1h1v-1zM267 236v1h1v-1zM268 237v1h1v-1zM269 238v1h1v-1zM270 239v1h1v-1zM271 240v1h1v-1zM272 241v1h1v-1zM273 242v1h1v-1zM274 243v1h1v-1zM275 244v1h1v-1zM276 245v1h1v-1zM277 246v2h1v-2zM278 248v1h1v-1zM279 249v1h1v-1zM280 249v1h1v-1zM281 250v1h1v-1zM282 251v1h1v-1zM283 252v1h1v-1zM284 252v1h1v-1zM285 253v1h1v-1zM286 253v1h1v-1zM287 253v1h1v-1zM288 253v1h1v-1zM289 252v1h1v-1zM290 251v1h1v-1zM291 249v2h1v-2zM292 248v1h1v-1zM293 247v1h1v-1zM294 247v1h1v-1zM295 248v1h1v-1zM296 248v1h1v-1zM297 249v1h1v-1zM298 249v1h1v-1zM299 250v1h1v-1zM300 250v1h1v-1zM301 251v1h1v-1zM302 252v2h1v-2zM303 254v2h1v-2zM304 256v2h1v-2zM305 258v1h1v-1zM306 259v2h1v-2zM307 261v2h1v-2zM308 263v1h1v-1zM309 264v2h1v-2zM310 266v2h1v-2zM311 268v2h1v-2zM312 270v2h1v-2zM313 272v1h1v-1zM314 273v2h1v-2zM315 274v1h1v-1zM316 274v1h1v-1zM317 274v1h1v-1zM318 274v1h1v-1zM319 273v1h1v-1zM320 272v1h1v-1zM321 271v1h1v-1zM322 270v1h1v-1zM323 269v1h1v-1zM324 268v1h1v-1zM325 267v1h1v-1zM326 266v1h1v-1zM327 264v2h1v-2zM328 263v1h1v-1zM329 261v2h1v-2zM330 260v1h1v-1zM331 259v1h1v-1zM332 257v2h1v-2zM333 256v1h1v-1zM334 256v1h1v-1zM335 255v1h1v-1zM336 255v1h1v-1zM337 254v1h1v-1zM338 254v1h1v-1zM339 254v1h1v-1zM340 254v1h1v-1zM341 254v1h1v-1zM342 254v1h1v-1zM343 255v1h1v-1zM344 255v1h1v-1zM345 255v1h1v-1zM346 255v1h1v-1zM347 256v1h1v-1zM348 256v1h1v-1zM349 256v1h1v-1zM350 257v1h1v-1zM351 257v1h1v-1zM352 258v1h1v-1zM353 259v1h1v-1zM354 259v1h1v-1zM355 260v1h1v-1zM356 260v1h1v-1zM357 261v1h1v-1zM358 261v1h1v-1zM359 262v1h1v-1zM360 263v1h1v-1zM361 264v1h1v-1zM362 265v1h1v-1zM363 266v1h1v-1zM364 267v1h1v-1zM365 268v1h1v-1zM366 269v1h1v-1zM367 270v1h1v-1zM368 270v1h1v-1zM369 271v1h1v-1zM370 272v1h1v-1zM371 273v1h1v-1zM372 274v1h1v-1zM373 275v1h1v-1zM374 276v1h1v-1zM375 277v1h1v-1zM376 278v1h1v-1zM377 278v1h1v-1zM378 279v1h1v-1zM379 279v1h1v-1zM380 279v1h1v-1zM381 280v1h1v-1zM382 280v1h1v-1zM383 281v1h1v-1zM384 282v1h1v-1zM385 283v1h1v-1zM386 284v1h1v-1zM387 285v2h1v-2zM388 287v2h1v-2zM389 289v2h1v-2zM390 291v2h1v-2zM391 293v2h1v-2zM392 295v2h1v-2zM393 297v2h1v-2zM394 299v2h1v-2zM395 301v2h1v-2zM396 303v2h1v-2zM397 305v2h1v-2zM398 307v2h1v-2zM399 309v2h1v-2zM400 311v2h1v-2zM401 313v2h1v-2zM402 315v2h1v-2zM403 317v2h1v-2zM404 319v1h1v-1zM405 320v1h1v-1zM406 321v1h1v-1zM407 320v1h1v-1zM408 320v1h1v-1zM409 320v1h1v-1zM410 320v1h1v-1zM411 319v1h1v-1zM412 319v1h1v-1zM413 319v1h1v-1zM414 319v1h1v-1zM415 319v1h1v-1zM416 319v1h1v-1zM417 320v1h1v-1zM418 320v1h1v-1zM419 320v1h1v-1zM420 320v1h1v-1zM421 320v1h1v-1zM422 320v1h1v-1zM423 320v1h1v-1zM424 319v1h1v-1zM425 319v1h1v-1zM426 319v1h1v-1zM427 319v1h1v-1zM428 318v1h1v-1zM429 318v1h1v-1zM430 318v1h1v-1zM431 318v1h1v-1zM432 317v1h1v-1zM433 316v1h1v-1zM434 315v1h1v-1zM435 314v1h1v-1zM436 313v1h1v-1zM437 311v2h1v-2zM438 310v1h1v-1zM439 309v1h1v-1zM440 309v1h1v-1zM441 308v1h1v-1zM442 308v1h1v-1zM443 307v1h1v-1zM444 307v1h1v-1zM445 306v1h1v-1zM446 306v1h1v-1zM447 305v1h1v-1zM448 305v1h1v-1zM449 305v1h1v-1zM450 304v1h1v-1zM451 304v1h1v-1zM452 304v1h1v-1zM453 304v1h1v-1zM454 304v1h1v-1zM455 304v1h1v-1zM456 305v1h1v-1zM457 305v1h1v-1zM458 306v1h1v-1zM459 307v1h1v-1zM460 308v1h1v-1zM461 309v1h1v-1zM462 309v1h1v-1zM463 309v1h1v-1zM464 309v1h1v-1zM465 308v1h1v-1zM466 308v1h1v-1zM467 307v1h1v-1zM468 307v1h1v-1zM469 306v1h1v-1zM470 306v1h1v-1zM471 305v1h1v-1zM472 305v1h1v-1zM473 304v1h1v-1zM474 304v1h1v-1zM475 304v1h1v-1zM476 303v1h1v-1zM477 303v1h1v-1zM478 303v1h1v-1zM479 303v1h1v-1zM480 303v1h1v-1zM481 304v1h1v-1zM482 305v1h1v-1zM483 305v1h1v-1zM484 306v1h1v-1zM485 307v1h1v-1zM486 308v1h1v-1zM487 309v1h1v-1zM488 310v1h1v-1zM489 311v1h1v-1zM490 311v1h1v-1zM491 312v1h1v-1zM492 313v1h1v-1zM493 314v1h1v-1zM494 315v2h1v-2zM495 317v2h1v-2zM496 319v1h1v-1zM497 320v2h1v-2zM498 322v2h1v-2zM499 324v2h1v-2zM500 326v1h1v-1zM501 327v1h1v-1zM502 328v1h1v-1zM503 328v1h1v-1zM504 329v1h1v-1zM505 329v1h1v-1zM506 330v1h1v-1zM507 330v1h1v-1zM508 331v1h1v-1zM509 331v1h1v-1zM510 332v1h1v-1zM511 332v1h1v-1zM512 333v1h1v-1zM513 333v1h1v-1zM514 332v1h1v-1zM515 332v1h1v-1zM516 331v1h1v-1zM517 331v1h1v-1zM518 330v1h1v-1zM519 330v1h1v-1zM520 329v1h1v-1zM521 328v1h1v-1zM522 328v1h1v-1zM523 327v1h1v-1zM524 326v1h1v-1zM525 325v1h1v-1zM526 325v1h1v-1zM527 324v1h1v-1zM528 323v1h1v-1zM529 323v1h1v-1zM530 323v1h1v-1zM531 323v1h1v-1zM532 323v1h1v-1zM533 324v1h1v-1zM534 324v1h1v-1zM535 324v1h1v-1zM536 324v1h1v-1zM537 325v1h1v-1zM538 325v1h1v-1zM539 325v1h1v-1zM540 326v1h1v-1zM541 326v1h1v-1zM542 327v1h1v-1zM543 327v1h1v-1zM544 328v1h1v-1zM545 328v1h1v-1zM546 328v1h1v-1zM547 328v1h1v-1zM548 328v1h1v-1zM549 327v1h1v-1zM550 327v1h1v-1zM551 326v1h1v-1zM552 326v1h1v-1zM553 325v1h1v-1zM554 325v1h1v-1zM555 324v1h1v-1zM556 324v1h1v-1zM557 324v1h1v-1zM558 323v1h1v-1zM559 323v1h1v-1zM560 323v1h1v-1zM561 323v1h1v-1zM562 323v1h1v-1zM563 324v1h1v-1zM564 324v1h1v-1zM565 325v1h1v-1zM566 326v1h1v-1zM567 327v3h1v-3zM568 330v3h1v-3zM569 333v3h1v-3zM570 336v3h1v-3zM571 339v3h1v-3zM572 342v3h1v-3zM573 345v2h1v-2zM574 347v3h1v-3zM575 350v3h1v-3zM576 353v2h1v-2zM577 355v3h1v-3zM578 358v2h1v-2zM579 360v3h1v-3zM580 363v2h1v-2zM581 365v1h1v-1zM582 366v1h1v-1zM583 366v1h1v-1zM584 367v1h1v-1zM585 367v1h1v-1zM586 367v1h1v-1zM587 367v1h1v-1zM588 367v1h1v-1zM589 367v1h1v-1zM590 367v1h1v-1zM591 367v1h1v-1zM592 367v1h1v-1zM593 367v1h1v-1zM594 367v1h1v-1zM595 367v1h1v-1zM596 368v1h1v-1zM597 368v1h1v-1zM598 368v1h1v-1zM599 368v1h1v-1zM600 369v1h1v-1zM601 369v1h1v-1zM602 369v1h1v-1zM603 370v1h1v-1zM604 371v1h1v-1zM605 372v1h1v-1zM606 373v1h1v-1zM607 373v1h1v-1zM608 373v1h1v-1zM609 371v2h1v-2zM610 369v2h1v-2zM611 367v2h1v-2zM612 365v2h1v-2zM613 363v2h1v-2zM614 360v3h1v-3zM615 359v1h1v-1zM616 357v2h1v-2zM617 355v2h1v-2zM618 353v2h1v-2zM619 351v2h1v-2zM620 349v2h1v-2zM621 347v2h1v-2zM622 346v1h1v-1zM623 344v2h1v-2zM624 343v1h1v-1zM625 341v2h1v-2zM626 340v1h1v-1zM627 339v1h1v-1zM628 339v1h1v-1zM629 340v1h1v-1zM630 341v1h1v-1zM631 342v1h1v-1zM632 342v1h1v-1zM633 343v1h1v-1zM634 344v1h1v-1zM635 345v1h1v-1zM636 345v1h1v-1zM637 346v1h1v-1zM638 347v1h1v-1zM639 348v1h1v-1zM640 348v1h1v-1zM641 349v1h1v-1zM642 350v1h1v-1zM643 350v1h1v-1zM644 349v1h1v-1zM645 349v1h1v-1zM646 348v1h1v-1zM647 347v1h1v-1zM648 346v1h1v-1zM649 344v2h1v-2zM650 343v1h1v-1zM651 341v2h1v-2zM652 340v1h1v-1zM653 338v2h1v-2zM654 337v1h1v-1zM655 336v1h1v-1zM656 335v1h1v-1zM657 334v1h1v-1zM658 334v1h1v-1zM659 333v1h1v-1zM660 332v1h1v-1zM661 332v1h1v-1zM662 331v1h1v-1zM663 330v1h1v-1zM664 330v1h1v-1zM665 331v1h1v-1zM666 331v1h1v-1zM667 332v1h1v-1zM668 332v1h1v-1zM669 333v1h1v-1zM670 334v1h1v-1zM671 334v1h1v-1zM672 334v1h1v-1zM673 334v1h1v-1zM674 334v1h1v-1zM675 333v1h1v-1zM676 333v1h1v-1zM677 333v1h1v-1zM678 332v1h1v-1zM679 332v1h1v-1zM680 332v1h1v-1zM681 332v1h1v-1zM682 332v1h1v-1zM683 332v1h1v-1zM684 333v1h1v-1zM685 333v1h1v-1zM686 333v1h1v-1zM687 333v1h1v-1zM688 333v1h1v-1zM689 333v1h1v-1zM690 333v1h1v-1zM691 333v1h1v-1zM692 333v1h1v-1zM693 334v1h1v-1zM694 334v1h1v-1zM695 334v1h1v-1zM696 335v1h1v-1zM697 335v2h1v-2zM698 337v1h1v-1zM699 338v2h1v-2zM700 340v2h1v-2zM701 342v2h1v-2zM702 344v2h1v-2zM703 346v2h1v-2zM704 348v2h1v-2zM705 350v1h1v-1zM706 351v2h1v-2zM707 353v2h1v-2zM708 355v2h1v-2zM709 357v1h1v-1zM710 358v2h1v-2zM711 360v2h1v-2zM712 362v2h1v-2zM713 364v2h1v-2zM714 366v2h1v-2zM715 368v2h1v-2zM716 370v2h1v-2zM717 372v2h1v-2zM718 374v2h1v-2zM719 376v1h1v-1zM720 376v1h1v-1zM721 377v1h1v-1zM722 377v1h1v-1zM723 378v1h1v-1zM724 378v1h1v-1zM725 379v1h1v-1zM726 380v2h1v-2zM727 382v1h1v-1zM728 383v2h1v-2zM729 385v3h1v-3zM730 388v3h1v-3zM731 391v4h1v-4zM732 395v3h1v-3zM733 398v3h1v-3zM734 401v3h1v-3zM735 404v2h1v-2zM736 406v3h1v-3zM737 409v3h1v-3zM738 412v3h1v-3zM739 415v2h1v-2zM740 417v3h1v-3zM741 420v3h1v-3zM742 423v3h1v-3zM743 426v2h1v-2zM744 428v3h1v-3zM745 431v2h1v-2zM746 433v2h1v-2zM747 435v2h1v-2zM748 437v2h1v-2zM749 439v2h1v-2zM750 441v1h1v-1zM751 442v1h1v-1zM752 443v1h1v-1zM753 444v1h1v-1zM754 445v1h1v-1zM755 446v1h1v-1zM756 447v1h1v-1zM757 448v1h1v-1zM758 448v1h1v-1zM759 448v1h1v-1zM760 448v1h1v-1zM761 448v1h1v-1zM762 448v1h1v-1zM763 448v1h1v-1zM764 448v1h1v-1zM765 448v1h1v-1zM766 447v1h1v-1zM767 447v1h1v-1zM768 447v1h1v-1zM769 446v1h1v-1zM770 446v1h1v-1zM771 445v1h1v-1zM772 444v1h1v-1zM773 443v1h1v-1zM774 441v2h1v-2zM775 440v1h1v-1zM776 439v1h1v-1zM777 438v1h1v-1zM778 437v1h1v-1zM779 435v2h1v-2zM780 434v1h1v-1zM781 433v1h1v-1zM782 432v1h1v-1zM783 431v1h1v-1zM784 429v2h1v-2zM785 428v1h1v-1zM786 427v1h1v-1zM787 426v1h1v-1zM788 425v1h1v-1zM789 423v2h1v-2zM790 422v1h1v-1zM791 421v1h1v-1zM792 420v1h1v-1zM793 419v1h1v-1zM794 417v2h1v-2zM795 416v1h1v-1zM796 414v2h1v-2zM797 412v2h1v-2zM798 410v2h1v-2zM799 408v2h1v-2zM800 406v2h1v-2zM801 404v2h1v-2zM802 402v2h1v-2zM803 400v2h1v-2zM804 398v2h1v-2zM805 397v1h1v-1zM806 395v2h1v-2zM807 394v1h1v-1zM808 393v1h1v-1zM809 391v2h1v-2zM810 390v1h1v-1zM811 389v1h1v-1zM812 387v2h1v-2zM813 386v1h1v-1zM814 384v2h1v-2zM815 382v2h1v-2zM816 381v1h1v-1zM817 379v2h1v-2zM818 378v1h1v-1zM819 377v1h1v-1zM820 376v1h1v-1zM821 375v1h1v-1zM822 376v1h1v-1zM823 377v1h1v-1zM824 378v1h1v-1zM825 379v1h1v-1zM826 380v1h1v-1zM827 381v1h1v-1zM828 382v1h1v-1zM829 383v1h1v-1zM830 384v1h1v-1zM831 385v1h1v-1zM832 386v1h1v-1zM833 387v1h1v-1zM834 388v2h1v-2zM835 390v1h1v-1zM836 391v2h1v-2zM837 393v1h1v-1zM838 394v2h1v-2zM839 396v2h1v-2zM840 398v1h1v-1zM841 399v2h1v-2zM842 401v2h1v-2zM843 403v1h1v-1zM844 404v2h1v-2zM845 406v2h1v-2zM846 408v2h1v-2zM847 410v1h1v-1zM848 411v2h1v-2zM849 413v2h1v-2zM850 415v1h1v-1zM851 416v1h1v-1zM852 417v2h1v-2zM853 419v1h1v-1zM854 420v1h1v-1zM855 421v2h1v-2zM856 423v1h1v-1zM857 424v1h1v-1zM858 425v1h1v-1zM859 426v1h1v-1zM860 426v1h1v-1zM861 427v1h1v-1zM862 428v1h1v-1zM863 429v1h1v-1zM864 429v1h1v-1zM865 430v1h1v-1zM866 431v1h1v-1zM867 432v1h1v-1zM868 432v1h1v-1zM869 432v1h1v-1zM870 433v1h1v-1zM871 433v1h1v-1zM872 433v1h1v-1zM873 434v1h1v-1zM874 434v1h1v-1zM875 434v1h1v-1zM876 434v1h1v-1zM877 434v1h1v-1zM878 434v1h1v-1zM879 434v1h1v-1zM880 434v1h1v-1zM881 434v1h1v-1zM882 434v1h1v-1zM883 434v1h1v-1zM884 433v1h1v-1zM885 433v1h1v-1zM886 433v1h1v-1zM887 433v1h1v-1zM888 432v1h1v-1zM889 432v1h1v-1zM890 433v1h1v-1zM891 434v1h1v-1zM892 435v1h1v-1zM893 436v2h1v-2zM894 438v2h1v-2zM895 440v2h1v-2zM896 442v2h1v-2zM897 444v3h1v-3zM898 447v2h1v-2zM899 449v2h1v-2zM900 451v2h1v-2zM901 453v2h1v-2zM902 455v2h1v-2zM903 457v2h1v-2zM904 459v2h1v-2zM905 461v2h1v-2zM906 463v2h1v-2zM907 465v1h1v-1zM908 466v1h1v-1zM909 466v1h1v-1zM910 466v1h1v-1zM911 467v1h1v-1zM912 467v1h1v-1zM913 467v1h1v-1zM914 465v2h1v-2zM915 464v1h1v-1zM916 463v1h1v-1zM917 462v1h1v-1zM918 461v1h1v-1zM919 460v1h1v-1zM920 459v1h1v-1zM921 458v1h1v-1zM922 457v1h1v-1zM923 455v2h1v-2zM924 454v1h1v-1zM925 452v2h1v-2zM926 450v2h1v-2zM927 447v3h1v-3zM928 445v2h1v-2zM929 442v3h1v-3zM930 440v2h1v-2zM931 438v2h1v-2zM932 435v3h1v-3zM933 433v2h1v-2zM934 430v3h1v-3zM935 428v2h1v-2zM936 427v1h1v-1zM937 426v1h1v-1zM938 426v1h1v-1zM939 425v1h1v-1zM940 424v1h1v-1zM941 424v1h1v-1zM942 424v1h1v-1zM943 425v1h1v-1zM944 425v1h1v-1zM945 426v1h1v-1zM946 427v2h1v-2zM947 429v2h1v-2zM948 431v2h1v-2zM949 433v2h1v-2zM950 435v2h1v-2zM951 437v3h1v-3zM952 440v2h1v-2zM953 442v3h1v-3zM954 445v3h1v-3zM955 448v3h1v-3zM956 451v3h1v-3zM957 454v3h1v-3zM958 457v2h1v-2zM959 459v2h1v-2zM960 461v2h1v-2zM961 463v2h1v-2zM962 465v2h1v-2zM963 467v2h1v-2zM964 469v1h1v-1zM965 470v1h1v-1zM966 470v1h1v-1zM967 470v1h1v-1zM968 470v1h1v-1zM969 469v1h1v-1zM970 469v1h1v-1zM971 468v1h1v-1zM972 468v1h1v-1zM973 468v1h1v-1zM974 467v1h1v-1zM975 467v1h1v-1zM976 467v1h1v-1zM977 466v1h1v-1zM978 465v1h1v-1zM979 465v1h1v-1zM980 464v1h1v-1zM981 464v1h1v-1zM982 463v1h1v-1zM983 463v1h1v-1zM984 462v1h1v-1zM985 462v1h1v-1zM986 462v1h1v-1zM987 463v1h1v-1zM988 463v1h1v-1zM989 464v1h1v-1zM990 465v1h1v-1zM991 466v1h1v-1zM992 466v1h1v-1zM993 467v1h1v-1zM994 468v1h1v-1zM995 469v1h1v-1zM996 470v1h1v-1zM997 471v1h1v-1zM998 471v1h1v-1zM999 472v1h1v-1zM1000 472v1h1v-1zM1001 472v1h1v-1zM1002 473v1h1v-1zM1003 473v1h1v-1zM1004 473v1h1v-1zM1005 474v1h1v-1zM1006 474v1h1v-1zM1007 475v1h1v-1zM1008 475v1h1v-1zM1009 476v1h1v-1zM1010 477v1h1v-1zM1011 478v1h1v-1zM1012 478v1h1v-1zM1013 479v1h1v-1zM1014 480v1h1v-1zM1015 481v1h1v-1zM1016 482v1h1v-1zM1017 482v1h1v-1zM1018 482v1h1v-1zM1019 482v1h1v-1zM1020 482v1h1v-1zM1021 482v1h1v-1zM1022 482v1h1v-1zM1023 482v1h1v-1zM1024 482v1h1v-1zM1025 482v1h1v-1zM1026 482v1h1v-1zM1027 482v1h1v-1zM1028 482v1h1v-1zM1029 483v1h1v-1zM1030 483v1h1v-1zM1031 483v1h1v-1zM1032 483v1h1v-1zM1033 483v1h1v-1zM1034 484v1h1v-1zM1035 484v1h1v-1zM1036 485v1h1v-1zM1037 485v1h1v-1zM1038 486v1h1v-1zM1039 487v1h1v-1zM1040 487v1h1v-1zM1041 486v1h1v-1zM1042 485v1h1v-1zM1043 485v1h1v-1zM1044 484v1h1v-1zM1045 484v1h1v-1zM1046 483v1h1v-1zM1047 482v1h1v-1zM1048 481v2h1v-2zM1049 480v1h1v-1zM1050 479v1h1v-1zM1051 478v1h1v-1zM1052 476v2h1v-2zM1053 475v1h1v-1zM1054 474v1h1v-1zM1055 472v2h1v-2zM1056 471v1h1v-1zM1057 470v1h1v-1zM1058 469v1h1v-1zM1059 468v1h1v-1zM1060 466v2h1v-2zM1061 465v1h1v-1zM1062 465v1h1v-1zM1063 464v1h1v-1zM1064 464v1h1v-1zM1065 463v1h1v-1zM1066 462v1h1v-1zM1067 462v1h1v-1zM1068 462v1h1v-1zM1069 462v1h1v-1zM1070 462v1h1v-1zM1071 463v1h1v-1zM1072 463v1h1v-1zM1073 463v1h1v-1zM1074 463v1h1v-1zM1075 463v1h1v-1zM1076 463v1h1v-1zM1077 463v1h1v-1zM1078 463v1h1v-1zM1079 463v1h1v-1zM1080 463v1h1v-1zM1081 463v1h1v-1zM1082 463v1h1v-1zM1083 463v1h1v-1zM1084 464v1h1v-1zM1085 463v1h1v-1zM1086 462v1h1v-1zM1087 461v1h1v-1zM1088 460v1h1v-1zM1089 458v2h1v-2zM1090 457v1h1v-1zM1091 456v1h1v-1zM1092 455v1h1v-1zM1093 454v1h1v-1zM1094 453v1h1v-1zM1095 453v1h1v-1zM1096 453v1h1v-1zM1097 452v1h1v-1zM1098 452v1h1v-1zM1099 452v1h1v-1zM1100 452v1h1v-1zM1101 452v1h1v-1zM1102 452v1h1v-1zM1103 451v1h1v-1zM1104 451v1h1v-1zM1105 451v1h1v-1zM1106 451v1h1v-1zM1107 451v1h1v-1zM1108 452v1h1v-1zM1109 452v1h1v-1zM1110 452v1h1v-1zM1111 452v1h1v-1zM1112 453v1h1v-1zM1113 453v1h1v-1zM1114 453v1h1v-1zM1115 453v1h1v-1zM1116 454v1h1v-1zM1117 454v1h1v-1zM1118 454v1h1v-1zM1119 454v1h1v-1zM1120 454v1h1v-1zM1121 454v1h1v-1zM1122 455v1h1v-1zM1123 455v1h1v-1zM1124 455v1h1v-1zM1125 455v1h1v-1zM1126 455v1h1v-1zM1127 456v1h1v-1zM1128 456v1h1v-1zM1129 456v1h1v-1zM1130 456v1h1v-1zM1131 457v1h1v-1zM1132 457v1h1v-1zM1133 457v1h1v-1zM1134 457v1h1v-1zM1135 458v1h1v-1zM1136 458v1h1v-1zM1137 459v2h1v-2zM1138 461v1h1v-1zM1139 462v1h1v-1zM1140 463v1h1v-1zM1141 464v1h1v-1zM1142 465v1h1v-1zM1143 466v1h1v-1zM1144 467v1h1v-1zM1145 468v1h1v-1zM1146 469v1h1v-1zM1147 470v1h1v-1zM1148 470v1h1v-1zM1149 471v1h1v-1zM1150 472v1h1v-1zM1151 472v1h1v-1zM1152 472v1h1v-1zM1153 472v1h1v-1zM1154 472v1h1v-1zM1155 470v2h1v-2zM1156 469v1h1v-1zM1157 467v2h1v-2zM1158 466v1h1v-1zM1159 464v2h1v-2zM1160 463v1h1v-1zM1161 462v1h1v-1zM1162 462v1h1v-1zM1163 461v1h1v-1zM1164 460v1h1v-1zM1165 459v1h1v-1zM1166 459v1h1v-1zM1167 459v1h1v-1zM1168 459v1h1v-1zM1169 458v1h1v-1zM1170 458v1h1v-1zM1171 458v1h1v-1zM1172 458v1h1v-1zM1173 458v1h1v-1zM1174 458v1h1v-1zM1175 458v1h1v-1zM1176 458v1h1v-1zM1177 458v1h1v-1zM1178 458v1h1v-1zM1179 458v1h1v-1zM1180 458v1h1v-1zM1181 458v1h1v-1zM1182 456v2h1v-2zM1183 454v2h1v-2zM1184 453v1h1v-1zM1185 450v3h1v-3zM1186 447v3h1v-3zM1187 444v3h1v-3zM1188 441v3h1v-3zM1189 438v3h1v-3zM1190 436v2h1v-2zM1191 434v2h1v-2zM1192 432v2h1v-2zM1193 429v3h1v-3zM1194 427v2h1v-2zM1195 425v2h1v-2zM1196 423v2h1v-2zM1197 421v2h1v-2zM1198 419v2h1v-2zM1199 417v2h1v-2zM1200 416v1h1v-1zM1201 415v1h1v-1zM1202 413v2h1v-2zM1203 412v1h1v-1zM1204 413v1h1v-1zM1205 414v1h1v-1zM1206 415v2h1v-2zM1207 417v1h1v-1zM1208 418v2h1v-2zM1209 420v2h1v-2zM1210 422v2h1v-2zM1211 424v2h1v-2zM1212 426v2h1v-2zM1213 428v2h1v-2zM1214 430v2h1v-2zM1215 432v2h1v-2zM1216 434v2h1v-2zM1217 436v3h1v-3zM1218 439v2h1v-2zM1219 441v2h1v-2zM1220 443v2h1v-2zM1221 445v2h1v-2zM1222 447v2h1v-2zM1223 449v1h1v-1zM1224 449v1h1v-1zM1225 449v1h1v-1zM1226 450v1h1v-1zM1227 450v1h1v-1zM1228 450v1h1v-1zM1229 450v1h1v-1zM1230 451v1h1v-1zM1231 451v1h1v-1zM1232 452v1h1v-1zM1233 453v1h1v-1zM1234 454v1h1v-1zM1235 454v1h1v-1zM1236 455v1h1v-1zM1237 456v1h1v-1zM1238 457v1h1v-1zM1239 458v1h1v-1zM1240 459v1h1v-1zM1241 460v1h1v-1zM1242 461v2h1v-2zM1243 463v1h1v-1zM1244 464v1h1v-1zM1245 465v1h1v-1zM1246 466v1h1v-1zM1247 467v1h1v-1zM1248 467v1h1v-1zM1249 468v1h1v-1zM1250 468v1h1v-1zM1251 469v1h1v-1zM1252 469v1h1v-1zM1253 470v1h1v-1zM1254 470v1h1v-1zM1255 470v1h1v-1zM1256 470v1h1v-1zM1257 470v1h1v-1zM1258 471v1h1v-1zM1259 471v1h1v-1zM1260 471v1h1v-1zM1261 472v1h1v-1zM1262 472v1h1v-1zM1263 473v1h1v-1zM1264 473v1h1v-1zM1265 474v1h1v-1zM1266 474v1h1v-1zM1267 475v1h1v-1zM1268 475v1h1v-1zM1269 475v1h1v-1zM1270 476v1h1v-1zM1271 476v1h1v-1zM1272 476v1h1v-1zM1273 476v1h1v-1zM1274 477v1h1v-1zM1275 477v1h1v-1zM1276 478v1h1v-1zM1277 479v1h1v-1zM1278 480v1h1v-1zM1279 481v1h1v-1zM1280 482v1h1v-1zM1281 483v1h1v-1zM1282 484v1h1v-1zM1283 484v1h1v-1zM1284 485v1h1v-1zM1285 485v1h1v-1zM1286 486v1h1v-1zM1287 486v1h1v-1zM1288 486v1h1v-1zM1289 486v1h1v-1zM1290 486v1h1v-1zM1291 487v1h1v-1zM1292 487v1h1v-1zM1293 487v1h1v-1zM1294 487v1h1v-1zM1295 487v1h1v-1zM1296 487v1h1v-1zM1297 487v1h1v-1zM1298 485v2h1v-2zM1299 484v1h1v-1zM1300 482v2h1v-2zM1301 481v1h1v-1zM1302 481v1h1v-1zM1303 482v1h1v-1zM1304 482v1h1v-1zM1305 482v1h1v-1zM1306 483v1h1v-1zM1307 483v1h1v-1zM1308 483v1h1v-1zM1309 484v1h1v-1zM1310 484v1h1v-1zM1311 484v1h1v-1zM1312 485v1h1v-1zM1313 486v1h1v-1zM1314 486v1h1v-1zM1315 487v1h1v-1zM1316 488v1h1v-1zM1317 488v1h1v-1zM1318 489v1h1v-1zM1319 490v1h1v-1zM1320 491v1h1v-1zM1321 491v1h1v-1z" fill="#ffa500" shape-rendering="crispEdges"/>
<rect x="1667" y="494" width="41" height="11" fill="#000"/>
<text transform="translate(1671.2,503) rotate(0.03) scale(0.8959,1)" font-size="10.1" fill="#fff" stroke="#fff" stroke-width="0.15">0.89380</text>
<rect x="0" y="213" width="1665" height="2" fill="#ff0000"/>
<rect x="1667" y="208" width="41" height="11" fill="#ff0000"/>
<text transform="translate(1671.2,217) rotate(0.03) scale(0.8959,1)" font-size="10.1" fill="#fff" stroke="#fff" stroke-width="0.15">0.92775</text>
<rect x="0" y="310" width="1665" height="2" fill="#ff0000"/>
<rect x="0" y="308" width="6" height="6" fill="#ff0000"/>
<rect x="2" y="310" width="2" height="2" fill="#fff"/>
<rect x="1659" y="308" width="6" height="6" fill="#ff0000"/>
<rect x="1661" y="310" width="2" height="2" fill="#fff"/>
<rect x="0" y="401" width="1665" height="2" fill="#00ff00"/>
<rect x="0" y="494" width="1665" height="2" fill="#0000ff"/>
<rect x="0" y="492" width="6" height="6" fill="#0000ff"/>
<rect x="2" y="494" width="2" height="2" fill="#fff"/>
<rect x="1659" y="492" width="6" height="6" fill="#0000ff"/>
<rect x="1661" y="494" width="2" height="2" fill="#fff"/>
<rect x="1665" y="26" width="1" height="682" fill="#000"/>
<rect x="1666" y="57" width="2" height="1" fill="#000"/>
<text transform="translate(1671.2,61) rotate(0.03) scale(0.8959,1)" font-size="10.1" fill="#000" stroke="#000" stroke-width="0.15">0.94650</text>
<rect x="1666" y="90" width="2" height="1" fill="#000"/>
<text transform="translate(1671.2,94) rotate(0.03) scale(0.8959,1)" font-size="10.1" fill="#000" stroke="#000" stroke-width="0.15">0.94250</text>
<rect x="1666" y="123" width="2" height="1" fill="#000"/>
<text transform="translate(1671.2,127) rotate(0.03) scale(0.8959,1)" font-size="10.1" fill="#000" stroke="#000" stroke-width="0.15">0.93860</text>
<rect x="1666" y="156" width="2" height="1" fill="#000"/>
<text transform="translate(1671.2,160) rotate(0.03) scale(0.8959,1)" font-size="10.1" fill="#000" stroke="#000" stroke-width="0.15">0.93470</text>
<rect x="1666" y="189" width="2" height="1" fill="#000"/>
<text transform="translate(1671.2,193) rotate(0.03) scale(0.8959,1)" font-size="10.1" fill="#000" stroke="#000" stroke-width="0.15">0.93070</text>
<rect x="1666" y="222" width="2" height="1" fill="#000"/>
<text transform="translate(1671.2,226) rotate(0.03) scale(0.8959,1)" font-size="10.1" fill="#000" stroke="#000" stroke-width="0.15">0.92680</text>
<rect x="1666" y="255" width="2" height="1" fill="#000"/>
<text transform="translate(1671.2,259) rotate(0.03) scale(0.8959,1)" font-size="10.1" fill="#000" stroke="#000" stroke-width="0.15">0.92290</text>
<rect x="1666" y="288" width="2" height="1" fill="#000"/>
<text transform="translate(1671.2,292) rotate(0.03) scale(0.8959,1)" font-size="10.1" fill="#000" stroke="#000" stroke-width="0.15">0.91890</text>
<rect x="1666" y="321" width="2" height="1" fill="#000"/>
<text transform="translate(1671.2,325) rotate(0.03) scale(0.8959,1)" font-size="10.1" fill="#000" stroke="#000" stroke-width="0.15">0.91500</text>
<rect x="1666" y="354" width="2" height="1" fill="#000"/>
<text transform="translate(1671.2,358) rotate(0.03) scale(0.8959,1)" font-size="10.1" fill="#000" stroke="#000" stroke-width="0.15">0.91110</text>
<rect x="1666" y="387" width="2" height="1" fill="#000"/>
<text transform="translate(1671.2,391) rotate(0.03) scale(0.8959,1)" font-size="10.1" fill="#000" stroke="#000" stroke-width="0.15">0.90710</text>
<rect x="1666" y="420" width="2" height="1" fill="#000"/>
<text transform="translate(1671.2,424) rotate(0.03) scale(0.8959,1)" font-size="10.1" fill="#000" stroke="#000" stroke-width="0.15">0.90320</text>
<rect x="1666" y="453" width="2" height="1" fill="#000"/>
<text transform="translate(1671.2,457) rotate(0.03) scale(0.8959,1)" font-size="10.1" fill="#000" stroke="#000" stroke-width="0.15">0.89930</text>
<rect x="1666" y="486" width="2" height="1" fill="#000"/>
<text transform="translate(1671.2,490) rotate(0.03) scale(0.8959,1)" font-size="10.1" fill="#000" stroke="#000" stroke-width="0.15">0.89530</text>
<rect x="1666" y="519" width="2" height="1" fill="#000"/>
<text transform="translate(1671.2,523) rotate(0.03) scale(0.8959,1)" font-size="10.1" fill="#000" stroke="#000" stroke-width="0.15">0.89140</text>
<rect x="1667" y="208" width="41" height="11" fill="#ff0000"/>
<text transform="translate(1671.2,217) rotate(0.03) scale(0.8959,1)" font-size="10.1" fill="#fff" stroke="#fff" stroke-width="0.15">0.92775</text>
<rect x="1667" y="305" width="41" height="11" fill="#ff0000"/>
<text transform="translate(1671.2,314) rotate(0.03) scale(0.8959,1)" font-size="10.1" fill="#fff" stroke="#fff" stroke-width="0.15">0.91618</text>
<rect x="1667" y="396" width="41" height="11" fill="#00ff00"/>
<text transform="translate(1671.2,405) rotate(0.03) scale(0.8959,1)" font-size="10.1" fill="#fff" stroke="#fff" stroke-width="0.15">0.90539</text>
<rect x="1667" y="489" width="41" height="11" fill="#0000ff"/>
<text transform="translate(1671.2,498) rotate(0.03) scale(0.8959,1)" font-size="10.1" fill="#fff" stroke="#fff" stroke-width="0.15">0.89427</text>
<rect x="1666" y="526" width="1" height="1" fill="#000"/>
<text transform="translate(1669.5,535) rotate(0.03) scale(0.9059,1)" font-size="10.1" fill="#000" stroke="#000" stroke-width="0.15">100</text>
<rect x="1666" y="552" width="1" height="1" fill="#000"/>
<text transform="translate(1669,556) rotate(0.03) scale(0.9059,1)" font-size="10.1" fill="#000" stroke="#000" stroke-width="0.15">70</text>
<rect x="1666" y="588" width="1" height="1" fill="#000"/>
<text transform="translate(1669,592) rotate(0.03) scale(0.9059,1)" font-size="10.1" fill="#000" stroke="#000" stroke-width="0.15">30</text>
<rect x="1666" y="614" width="1" height="1" fill="#000"/>
<text transform="translate(1669.5,612) rotate(0.03) scale(0.9059,1)" font-size="10.1" fill="#000" stroke="#000" stroke-width="0.15">0</text>
<rect x="1666" y="618" width="1" height="1" fill="#000"/>
<text transform="translate(1669.5,628) rotate(0.03) scale(0.8856,1)" font-size="10.1" fill="#000" stroke="#000" stroke-width="0.15">0.003241</text>
<rect x="1666" y="658" width="1" height="1" fill="#000"/>
<text transform="translate(1669.5,662) rotate(0.03) scale(0.8802,1)" font-size="10.1" fill="#000" stroke="#000" stroke-width="0.15">0.00</text>
<text transform="translate(1669.5,704) rotate(0.03) scale(0.8839,1)" font-size="10.1" fill="#000" stroke="#000" stroke-width="0.15">-0.003976</text>
<rect x="4" y="33" width="7" height="1" fill="#000"/>
<rect x="5" y="34" width="5" height="1" fill="#000"/>
<rect x="6" y="35" width="3" height="1" fill="#000"/>
<rect x="7" y="36" width="1" height="1" fill="#000"/>
<text transform="translate(16.2,38) rotate(0.03) scale(0.9396,1)" font-size="10.1" fill="#000" stroke="#000" stroke-width="0.15">USDCHF,H4</text>
<text transform="translate(77.2,38) rotate(0.03) scale(0.9130,1)" font-size="10.1" fill="#000" stroke="#000" stroke-width="0.15">0.89435 0.89437 0.89380 0.89380</text>
<text transform="translate(5.5,537) rotate(0.03) scale(0.9068,1)" font-size="10.1" fill="#000" stroke="#000" stroke-width="0.15">RSI(14) 37.7553</text>
<text transform="translate(5.5,630) rotate(0.03) scale(0.9224,1)" font-size="10.1" fill="#000" stroke="#000" stroke-width="0.15">MACD(12,26,9) -0.001069 -0.001026</text>
<rect x="1" y="708" width="1" height="3" fill="#000"/>
<text transform="translate(-0.8,720) rotate(0.03) scale(0.9327,1)" font-size="10.1" fill="#000" stroke="#000" stroke-width="0.15">25 Mar 2021</text>
<rect x="65" y="708" width="1" height="3" fill="#000"/>
<text transform="translate(63.9,720) rotate(0.03) scale(0.9327,1)" font-size="10.1" fill="#000" stroke="#000" stroke-width="0.15">30 Mar 10:00</text>
<rect x="129" y="708" width="1" height="3" fill="#000"/>
<text transform="translate(127.9,720) rotate(0.03) scale(0.9327,1)" font-size="10.1" fill="#000" stroke="#000" stroke-width="0.15">2 Apr 00:00</text>
<rect x="193" y="708" width="1" height="3" fill="#000"/>
<text transform="translate(191.9,720) rotate(0.03) scale(0.9327,1)" font-size="10.1" fill="#000" stroke="#000" stroke-width="0.15">7 Apr 10:00</text>
<rect x="257" y="708" width="1" height="3" fill="#000"/>
<text transform="translate(255.9,720) rotate(0.03) scale(0.9327,1)" font-size="10.1" fill="#000" stroke="#000" stroke-width="0.15">10 Apr 00:00</text>
<rect x="321" y="708" width="1" height="3" fill="#000"/>
<text transform="translate(319.9,720) rotate(0.03) scale(0.9327,1)" font-size="10.1" fill="#000" stroke="#000" stroke-width="0.15">14 Apr 18:00</text>
<rect x="385" y="708" width="1" height="3" fill="#000"/>
<text transform="translate(383.9,720) rotate(0.03) scale(0.9327,1)" font-size="10.1" fill="#000" stroke="#000" stroke-width="0.15">19 Apr 11:00</text>
<rect x="449" y="708" width="1" height="3" fill="#000"/>
<text transform="translate(447.9,720) rotate(0.03) scale(0.9327,1)" font-size="10.1" fill="#000" stroke="#000" stroke-width="0.15">22 Apr 00:00</text>
<rect x="513" y="708" width="1" height="3" fill="#000"/>
<text transform="translate(511.9,720) rotate(0.03) scale(0.9327,1)" font-size="10.1" fill="#000" stroke="#000" stroke-width="0.15">26 Apr 19:00</text>
<rect x="577" y="708" width="1" height="3" fill="#000"/>
<text transform="translate(575.9,720) rotate(0.03) scale(0.9327,1)" font-size="10.1" fill="#000" stroke="#000" stroke-width="0.15">29 Apr 10:00</text>
<rect x="641" y="708" width="1" height="3" fill="#000"/>
<text transform="translate(639.9,720) rotate(0.03) scale(0.9327,1)" font-size="10.1" fill="#000" stroke="#000" stroke-width="0.15">4 May 00:00</text>
<rect x="705" y="708" width="1" height="3" fill="#000"/>
<text transform="translate(703.9,720) rotate(0.03) scale(0.9327,1)" font-size="10.1" fill="#000" stroke="#000" stroke-width="0.15">6 May 18:00</text>
<rect x="769" y="708" width="1" height="3" fill="#000"/>
<text transform="translate(767.9,720) rotate(0.03) scale(0.9327,1)" font-size="10.1" fill="#000" stroke="#000" stroke-width="0.15">11 May 10:00</text>
<rect x="833" y="708" width="1" height="3" fill="#000"/>
<text transform="translate(831.9,720) rotate(0.03) scale(0.9327,1)" font-size="10.1" fill="#000" stroke="#000" stroke-width="0.15">14 May 00:00</text>
<rect x="897" y="708" width="1" height="3" fill="#000"/>
<text transform="translate(895.9,720) rotate(0.03) scale(0.9327,1)" font-size="10.1" fill="#000" stroke="#000" stroke-width="0.15">18 May 18:00</text>
<rect x="961" y="708" width="1" height="3" fill="#000"/>
<text transform="translate(959.9,720) rotate(0.03) scale(0.9327,1)" font-size="10.1" fill="#000" stroke="#000" stroke-width="0.15">21 May 10:00</text>
<rect x="1025" y="708" width="1" height="3" fill="#000"/>
<text transform="translate(1023.9,720) rotate(0.03) scale(0.9327,1)" font-size="10.1" fill="#000" stroke="#000" stroke-width="0.15">26 May 00:00</text>
<rect x="1089" y="708" width="1" height="3" fill="#000"/>
<text transform="translate(1087.9,720) rotate(0.03) scale(0.9327,1)" font-size="10.1" fill="#000" stroke="#000" stroke-width="0.15">28 May 18:00</text>
<rect x="1153" y="708" width="1" height="3" fill="#000"/>
<text transform="translate(1151.9,720) rotate(0.03) scale(0.9327,1)" font-size="10.1" fill="#000" stroke="#000" stroke-width="0.15">2 Jun 10:00</text>
<rect x="1217" y="708" width="1" height="3" fill="#000"/>
<text transform="translate(1215.9,720) rotate(0.03) scale(0.9327,1)" font-size="10.1" fill="#000" stroke="#000" stroke-width="0.15">5 Jun 00:00</text>
<rect x="1281" y="708" width="1" height="3" fill="#000"/>
<text transform="translate(1279.9,720) rotate(0.03) scale(0.9327,1)" font-size="10.1" fill="#000" stroke="#000" stroke-width="0.15">9 Jun 18:00</text>
<rect x="0" y="728" width="1712" height="1" fill="#e3e3e3"/>
<rect x="0" y="729" width="1712" height="1" fill="#ffffff"/>
<rect x="0" y="730" width="1712" height="20" fill="#f0f0f0"/>
<rect x="0" y="730" width="1712" height="1" fill="#000"/>
<rect x="2" y="730" width="88" height="19" fill="#000"/>
<rect x="3" y="730" width="86" height="18" fill="#fff"/>
<text x="12.5" y="745" font-size="12" fill="#000" textLength="66.5" lengthAdjust="spacingAndGlyphs">USDCHF,H4</text>
<text x="100" y="745" font-size="12" fill="#6d6d6d" textLength="83" lengthAdjust="spacingAndGlyphs">USDCNH,Daily</text>
<text x="206" y="745" font-size="12" fill="#6d6d6d" textLength="68" lengthAdjust="spacingAndGlyphs">EURUSD,H4</text>
<text x="297" y="745" font-size="12" fill="#6d6d6d" textLength="70" lengthAdjust="spacingAndGlyphs">AUDUSD,H4</text>
<text x="389" y="745" font-size="12" fill="#6d6d6d" textLength="69" lengthAdjust="spacingAndGlyphs">USDCAD,H4</text>
<text x="481" y="745" font-size="12" fill="#6d6d6d" textLength="69" lengthAdjust="spacingAndGlyphs">XAUUSD,H1</text>
<text x="572" y="745" font-size="12" fill="#6d6d6d" textLength="64" lengthAdjust="spacingAndGlyphs">USOil,Daily</text>
<rect x="194" y="733" width="1" height="14" fill="#6d6d6d"/>
<rect x="286" y="733" width="1" height="14" fill="#6d6d6d"/>
<rect x="378" y="733" width="1" height="14" fill="#6d6d6d"/>
<rect x="470" y="733" width="1" height="14" fill="#6d6d6d"/>
<rect x="562" y="733" width="1" height="14" fill="#6d6d6d"/>
<rect x="646" y="733" width="1" height="14" fill="#6d6d6d"/>
<polygon points="1680.8,739 1684.2,735.8 1684.2,742.2" fill="#a0a0a0"/>
<polygon points="1703.2,739 1699.8,735.8 1699.8,742.2" fill="#a0a0a0"/>
<rect x="1" y="3" width="1" height="1" fill="#404040"/>
<rect x="3" y="3" width="1" height="1" fill="#404040"/>
<rect x="5" y="3" width="1" height="1" fill="#404040"/>
<rect x="7" y="3" width="1" height="1" fill="#404040"/>
<rect x="9" y="3" width="1" height="1" fill="#404040"/>
<rect x="1" y="6" width="1" height="1" fill="#404040"/>
<rect x="3" y="6" width="1" height="1" fill="#404040"/>
<rect x="5" y="6" width="1" height="1" fill="#404040"/>
<rect x="7" y="6" width="1" height="1" fill="#404040"/>
<rect x="9" y="6" width="1" height="1" fill="#404040"/>
<rect x="1" y="10" width="1" height="1" fill="#404040"/>
<rect x="3" y="10" width="1" height="1" fill="#404040"/>
<rect x="5" y="10" width="1" height="1" fill="#404040"/>
<rect x="7" y="10" width="1" height="1" fill="#404040"/>
<rect x="9" y="10" width="1" height="1" fill="#404040"/>
<rect x="1" y="14" width="1" height="1" fill="#404040"/>
<rect x="3" y="14" width="1" height="1" fill="#404040"/>
<rect x="5" y="14" width="1" height="1" fill="#404040"/>
<text transform="translate(6.8,19) rotate(0.03) scale(0.85,1)" font-size="7.4" fill="#404040" stroke="#404040" stroke-width="0.45">F</text>
<text transform="translate(27.6,15) scale(0.9,1)" font-size="13" fill="#555" stroke="#555" stroke-width="0.3">A</text>
<rect x="53" y="3" width="3" height="2" fill="#505050"/>
<rect x="57" y="4" width="1" height="1" fill="#505050"/>
<rect x="59" y="4" width="1" height="1" fill="#505050"/>
<rect x="61" y="4" width="1" height="1" fill="#505050"/>
<rect x="63" y="4" width="1" height="1" fill="#505050"/>
<rect x="65" y="4" width="1" height="1" fill="#505050"/>
<rect x="54" y="6" width="1" height="1" fill="#505050"/>
<rect x="54" y="8" width="1" height="1" fill="#505050"/>
<rect x="54" y="10" width="1" height="1" fill="#505050"/>
<rect x="54" y="12" width="1" height="1" fill="#505050"/>
<rect x="54" y="14" width="1" height="1" fill="#505050"/>
<rect x="54" y="16" width="1" height="1" fill="#505050"/>
<rect x="65" y="6" width="1" height="1" fill="#505050"/>
<rect x="65" y="8" width="1" height="1" fill="#505050"/>
<rect x="65" y="10" width="1" height="1" fill="#505050"/>
<rect x="65" y="12" width="1" height="1" fill="#505050"/>
<rect x="65" y="14" width="1" height="1" fill="#505050"/>
<rect x="56" y="16" width="1" height="1" fill="#505050"/>
<rect x="58" y="16" width="1" height="1" fill="#505050"/>
<rect x="60" y="16" width="1" height="1" fill="#505050"/>
<rect x="62" y="16" width="1" height="1" fill="#505050"/>
<rect x="64" y="16" width="1" height="1" fill="#505050"/>
<text transform="translate(55.6,15) rotate(0.03) scale(1.18,1)" font-size="11.6" fill="#555" stroke="#555" stroke-width="0.4">T</text>
<rect x="84" y="4" width="1" height="1" fill="#555"/>
<rect x="83" y="5" width="3" height="1" fill="#555"/>
<rect x="82" y="6" width="5" height="1" fill="#555"/>
<rect x="81" y="7" width="7" height="1" fill="#555"/>
<rect x="83" y="8" width="3" height="1" fill="#555"/>
<rect x="90" y="12" width="3" height="1" fill="#555"/>
<rect x="88" y="13" width="7" height="1" fill="#555"/>
<rect x="89" y="14" width="5" height="1" fill="#555"/>
<rect x="90" y="15" width="3" height="1" fill="#555"/>
<rect x="91" y="16" width="1" height="1" fill="#555"/>
<polyline points="83.2,11.3 85.4,13.4 89.8,8.4" fill="none" stroke="#505050" stroke-width="1.1"/>
<rect x="102" y="9" width="5" height="1" fill="#000"/>
<rect x="103" y="10" width="3" height="1" fill="#000"/>
<rect x="104" y="11" width="1" height="1" fill="#000"/>
<rect x="113" y="0" width="1" height="22" fill="#a0a0a0"/>
<rect x="114" y="0" width="1" height="22" fill="#fff"/>
<rect x="117" y="0" width="3" height="1" fill="#a8a8a8"/>
<rect x="117" y="2" width="3" height="1" fill="#a8a8a8"/>
<rect x="117" y="4" width="3" height="1" fill="#a8a8a8"/>
<rect x="117" y="6" width="3" height="1" fill="#a8a8a8"/>
<rect x="117" y="8" width="3" height="1" fill="#a8a8a8"/>
<rect x="117" y="10" width="3" height="1" fill="#a8a8a8"/>
<rect x="117" y="12" width="3" height="1" fill="#a8a8a8"/>
<rect x="117" y="14" width="3" height="1" fill="#a8a8a8"/>
<rect x="117" y="16" width="3" height="1" fill="#a8a8a8"/>
<rect x="117" y="18" width="3" height="1" fill="#a8a8a8"/>
<defs><pattern id="chk" width="2" height="2" patternUnits="userSpaceOnUse"><rect width="2" height="2" fill="#fff"/><rect x="0" y="0" width="1" height="1" fill="#f0f0f0"/><rect x="1" y="1" width="1" height="1" fill="#f0f0f0"/></pattern></defs>
<rect x="264" y="0" width="24" height="20" fill="url(#chk)" shape-rendering="crispEdges"/>
<rect x="263" y="0" width="1" height="20" fill="#a0a0a0"/>
<rect x="288" y="0" width="1" height="21" fill="#fff"/>
<rect x="263" y="20" width="26" height="1" fill="#fff"/>
<text transform="translate(128.6,14) rotate(0.03) scale(0.8981,1)" font-size="10.1" fill="#3a3a3a" stroke="#3a3a3a" stroke-width="0.15">M1</text>
<text transform="translate(156.4,14) rotate(0.03) scale(0.9124,1)" font-size="10.1" fill="#3a3a3a" stroke="#3a3a3a" stroke-width="0.15">M5</text>
<text transform="translate(182.4,14) rotate(0.03) scale(0.9061,1)" font-size="10.1" fill="#3a3a3a" stroke="#3a3a3a" stroke-width="0.15">M15</text>
<text transform="translate(210.4,14) rotate(0.03) scale(0.9112,1)" font-size="10.1" fill="#3a3a3a" stroke="#3a3a3a" stroke-width="0.15">M30</text>
<text transform="translate(241.6,14) rotate(0.03) scale(0.9064,1)" font-size="10.1" fill="#3a3a3a" stroke="#3a3a3a" stroke-width="0.15">H1</text>
<text transform="translate(268.6,14) rotate(0.03) scale(0.9452,1)" font-size="10.1" fill="#3a3a3a" stroke="#3a3a3a" stroke-width="0.15">H4</text>
<text transform="translate(297.7,14) rotate(0.03) scale(0.9064,1)" font-size="10.1" fill="#3a3a3a" stroke="#3a3a3a" stroke-width="0.15">D1</text>
<text transform="translate(325.2,14) rotate(0.03) scale(0.9241,1)" font-size="10.1" fill="#3a3a3a" stroke="#3a3a3a" stroke-width="0.15">W1</text>
<text transform="translate(351.8,14) rotate(0.03) scale(0.9232,1)" font-size="10.1" fill="#3a3a3a" stroke="#3a3a3a" stroke-width="0.15">MN</text>
<rect x="374" y="0" width="1" height="22" fill="#a0a0a0"/>
<rect x="375" y="0" width="1" height="22" fill="#fff"/>
</svg>
</body></html>
